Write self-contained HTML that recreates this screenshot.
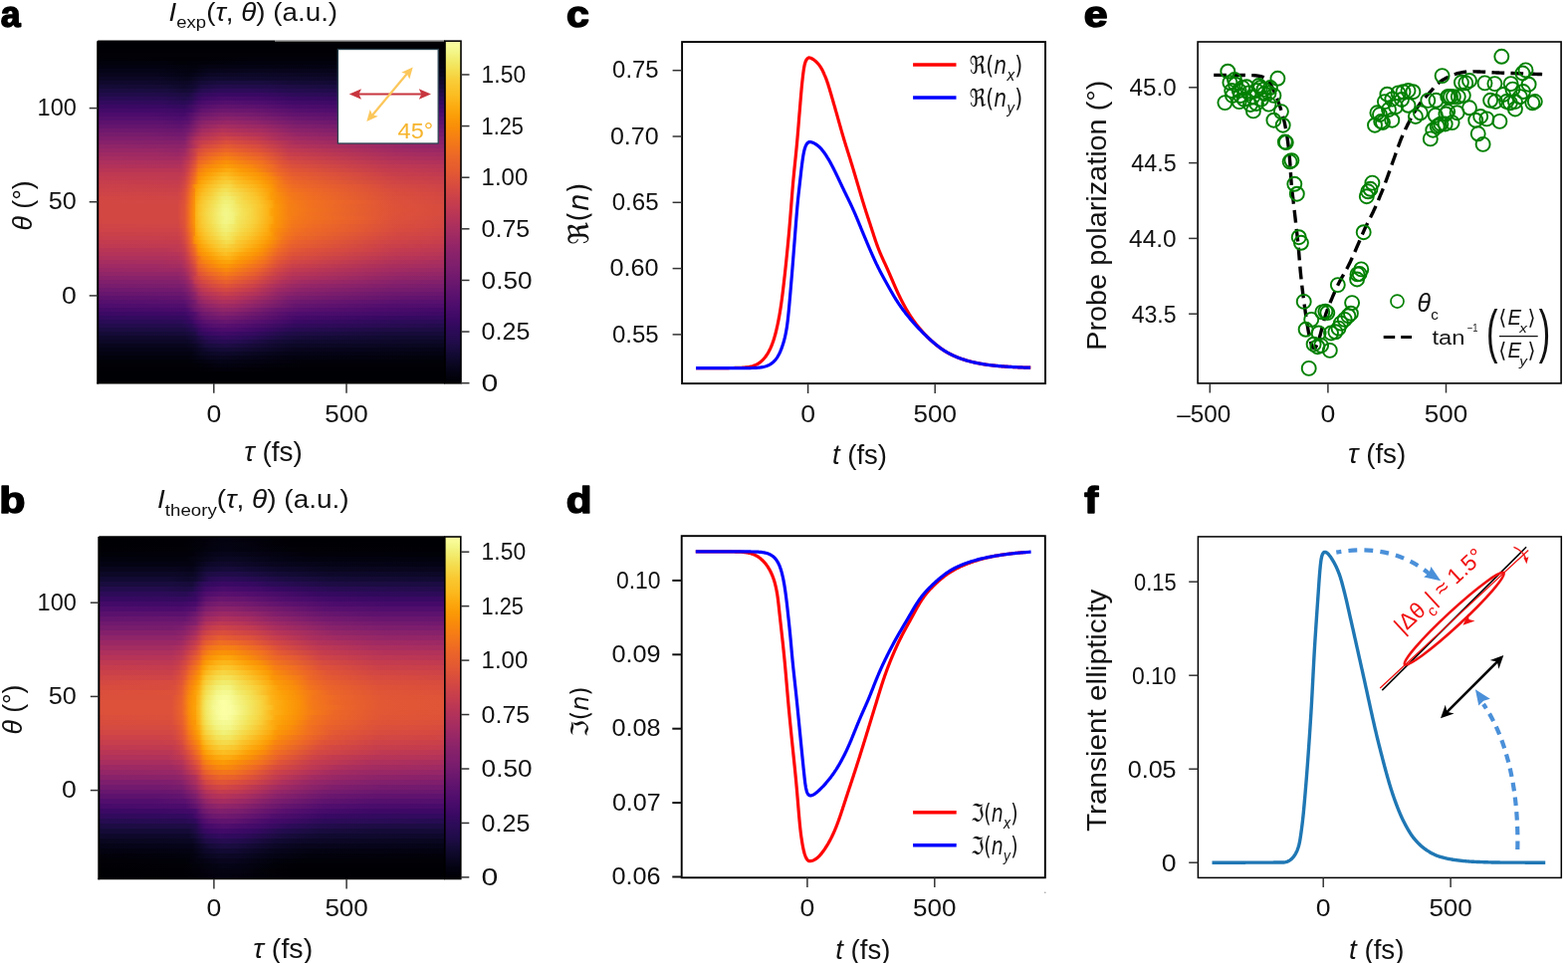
<!DOCTYPE html><html><head><meta charset="utf-8"><title>Figure</title><style>html,body{margin:0;padding:0;background:#fff;width:1575px;height:967px;overflow:hidden}svg{display:block}</style></head><body><svg width="1575" height="967" viewBox="0 0 1575 967" font-family="'Liberation Sans', Arial, sans-serif" fill="#111"><defs><linearGradient id="g1"><stop offset="0" stop-color="#000004"/><stop offset="1" stop-color="#000004"/></linearGradient><linearGradient id="g2"><stop offset="0" stop-color="#000004"/><stop offset="1" stop-color="#000004"/></linearGradient><linearGradient id="g3"><stop offset="0" stop-color="#010005"/><stop offset="1" stop-color="#010005"/></linearGradient><linearGradient id="g4"><stop offset="0" stop-color="#010106"/><stop offset="1" stop-color="#010106"/></linearGradient><linearGradient id="g5"><stop offset="0" stop-color="#010108"/><stop offset="0.27" stop-color="#010005"/><stop offset="0.47" stop-color="#02010a"/><stop offset="1" stop-color="#010108"/></linearGradient><linearGradient id="g6"><stop offset="0" stop-color="#02020c"/><stop offset="0.19" stop-color="#02020c"/><stop offset="0.24" stop-color="#010108"/><stop offset="0.43" stop-color="#02020e"/><stop offset="1" stop-color="#02020c"/></linearGradient><linearGradient id="g7"><stop offset="0" stop-color="#030210"/><stop offset="0.2" stop-color="#030210"/><stop offset="0.28" stop-color="#02020c"/><stop offset="0.31" stop-color="#040312"/><stop offset="0.43" stop-color="#040314"/><stop offset="1" stop-color="#030210"/></linearGradient><linearGradient id="g8"><stop offset="0" stop-color="#050417"/><stop offset="0.17" stop-color="#050417"/><stop offset="0.27" stop-color="#030210"/><stop offset="0.32" stop-color="#07051b"/><stop offset="0.46" stop-color="#08051d"/><stop offset="1" stop-color="#050417"/></linearGradient><linearGradient id="g9"><stop offset="0" stop-color="#08051d"/><stop offset="0.16" stop-color="#08051d"/><stop offset="0.26" stop-color="#040314"/><stop offset="0.32" stop-color="#0b0724"/><stop offset="0.44" stop-color="#0c0826"/><stop offset="1" stop-color="#08051d"/></linearGradient><linearGradient id="g10"><stop offset="0" stop-color="#0b0724"/><stop offset="0.18" stop-color="#0b0724"/><stop offset="0.26" stop-color="#07051b"/><stop offset="0.3" stop-color="#0e092b"/><stop offset="0.33" stop-color="#110a30"/><stop offset="1" stop-color="#0c0826"/></linearGradient><linearGradient id="g11"><stop offset="0" stop-color="#10092d"/><stop offset="0.14" stop-color="#10092d"/><stop offset="0.26" stop-color="#0b0724"/><stop offset="0.3" stop-color="#150b37"/><stop offset="0.35" stop-color="#190c3e"/><stop offset="0.47" stop-color="#190c3e"/><stop offset="0.55" stop-color="#150b37"/><stop offset="1" stop-color="#10092d"/></linearGradient><linearGradient id="g12"><stop offset="0" stop-color="#150b37"/><stop offset="0.19" stop-color="#140b34"/><stop offset="0.25" stop-color="#0e092b"/><stop offset="0.28" stop-color="#120a32"/><stop offset="0.3" stop-color="#1c0c43"/><stop offset="0.36" stop-color="#230c4c"/><stop offset="0.49" stop-color="#210c4a"/><stop offset="0.61" stop-color="#1b0c41"/><stop offset="1" stop-color="#150b37"/></linearGradient><linearGradient id="g13"><stop offset="0" stop-color="#1b0c41"/><stop offset="0.2" stop-color="#190c3e"/><stop offset="0.25" stop-color="#140b34"/><stop offset="0.27" stop-color="#160b39"/><stop offset="0.3" stop-color="#260c51"/><stop offset="0.35" stop-color="#2d0b59"/><stop offset="0.44" stop-color="#2d0b59"/><stop offset="0.55" stop-color="#240c4f"/><stop offset="1" stop-color="#1b0c41"/></linearGradient><linearGradient id="g14"><stop offset="0" stop-color="#210c4a"/><stop offset="0.17" stop-color="#210c4a"/><stop offset="0.26" stop-color="#1b0c41"/><stop offset="0.29" stop-color="#2d0b59"/><stop offset="0.31" stop-color="#340a5f"/><stop offset="0.35" stop-color="#390963"/><stop offset="0.47" stop-color="#380962"/><stop offset="0.57" stop-color="#2d0b59"/><stop offset="1" stop-color="#230c4c"/></linearGradient><linearGradient id="g15"><stop offset="0" stop-color="#290b55"/><stop offset="0.19" stop-color="#280b53"/><stop offset="0.25" stop-color="#210c4a"/><stop offset="0.27" stop-color="#260c51"/><stop offset="0.3" stop-color="#3d0965"/><stop offset="0.36" stop-color="#470b6a"/><stop offset="0.46" stop-color="#440a68"/><stop offset="0.56" stop-color="#380962"/><stop offset="1" stop-color="#2b0b57"/></linearGradient><linearGradient id="g16"><stop offset="0" stop-color="#320a5e"/><stop offset="0.18" stop-color="#310a5c"/><stop offset="0.25" stop-color="#290b55"/><stop offset="0.27" stop-color="#310a5c"/><stop offset="0.29" stop-color="#440a68"/><stop offset="0.31" stop-color="#4c0c6b"/><stop offset="0.37" stop-color="#540f6d"/><stop offset="0.48" stop-color="#4d0d6c"/><stop offset="0.56" stop-color="#420a68"/><stop offset="1" stop-color="#320a5e"/></linearGradient><linearGradient id="g17"><stop offset="0" stop-color="#3b0964"/><stop offset="0.18" stop-color="#390963"/><stop offset="0.25" stop-color="#320a5e"/><stop offset="0.3" stop-color="#540f6d"/><stop offset="0.36" stop-color="#61136e"/><stop offset="0.47" stop-color="#5a116e"/><stop offset="0.56" stop-color="#4c0c6b"/><stop offset="1" stop-color="#3d0965"/></linearGradient><linearGradient id="g18"><stop offset="0" stop-color="#440a68"/><stop offset="0.19" stop-color="#420a68"/><stop offset="0.25" stop-color="#3d0965"/><stop offset="0.27" stop-color="#450a69"/><stop offset="0.3" stop-color="#61136e"/><stop offset="0.36" stop-color="#6d186e"/><stop offset="0.45" stop-color="#69166e"/><stop offset="0.58" stop-color="#550f6d"/><stop offset="1" stop-color="#450a69"/></linearGradient><linearGradient id="g19"><stop offset="0" stop-color="#4c0c6b"/><stop offset="0.15" stop-color="#4c0c6b"/><stop offset="0.25" stop-color="#450a69"/><stop offset="0.3" stop-color="#6d186e"/><stop offset="0.36" stop-color="#7c1d6d"/><stop offset="0.45" stop-color="#751b6e"/><stop offset="0.56" stop-color="#61136e"/><stop offset="1" stop-color="#4d0d6c"/></linearGradient><linearGradient id="g20"><stop offset="0" stop-color="#540f6d"/><stop offset="0.17" stop-color="#540f6d"/><stop offset="0.24" stop-color="#4d0d6c"/><stop offset="0.26" stop-color="#540f6d"/><stop offset="0.3" stop-color="#7a1d6d"/><stop offset="0.37" stop-color="#8a226a"/><stop offset="0.45" stop-color="#82206c"/><stop offset="0.58" stop-color="#6a176e"/><stop offset="0.88" stop-color="#59106e"/><stop offset="1" stop-color="#57106e"/></linearGradient><linearGradient id="g21"><stop offset="0" stop-color="#5d126e"/><stop offset="0.18" stop-color="#5c126e"/><stop offset="0.24" stop-color="#57106e"/><stop offset="0.26" stop-color="#5d126e"/><stop offset="0.29" stop-color="#801f6c"/><stop offset="0.31" stop-color="#8c2369"/><stop offset="0.37" stop-color="#982766"/><stop offset="0.45" stop-color="#8f2469"/><stop offset="0.57" stop-color="#751b6e"/><stop offset="0.87" stop-color="#62146e"/><stop offset="1" stop-color="#5f136e"/></linearGradient><linearGradient id="g22"><stop offset="0" stop-color="#65156e"/><stop offset="0.16" stop-color="#65156e"/><stop offset="0.24" stop-color="#5f136e"/><stop offset="0.26" stop-color="#69166e"/><stop offset="0.3" stop-color="#932667"/><stop offset="0.36" stop-color="#a62d60"/><stop offset="0.47" stop-color="#9a2865"/><stop offset="0.57" stop-color="#801f6c"/><stop offset="0.89" stop-color="#6a176e"/><stop offset="1" stop-color="#69166e"/></linearGradient><linearGradient id="g23"><stop offset="0" stop-color="#6f196e"/><stop offset="0.17" stop-color="#6d186e"/><stop offset="0.24" stop-color="#69166e"/><stop offset="0.26" stop-color="#721a6e"/><stop offset="0.3" stop-color="#a22b62"/><stop offset="0.36" stop-color="#b43359"/><stop offset="0.47" stop-color="#a62d60"/><stop offset="0.56" stop-color="#8c2369"/><stop offset="0.85" stop-color="#751b6e"/><stop offset="1" stop-color="#71196e"/></linearGradient><linearGradient id="g24"><stop offset="0" stop-color="#771c6d"/><stop offset="0.14" stop-color="#771c6d"/><stop offset="0.23" stop-color="#71196e"/><stop offset="0.25" stop-color="#741a6e"/><stop offset="0.3" stop-color="#ae305c"/><stop offset="0.36" stop-color="#c13a50"/><stop offset="0.47" stop-color="#b3325a"/><stop offset="0.57" stop-color="#952667"/><stop offset="0.87" stop-color="#7d1e6d"/><stop offset="1" stop-color="#781c6d"/></linearGradient><linearGradient id="g25"><stop offset="0" stop-color="#7f1e6c"/><stop offset="0.16" stop-color="#7f1e6c"/><stop offset="0.24" stop-color="#7a1d6d"/><stop offset="0.25" stop-color="#7d1e6d"/><stop offset="0.28" stop-color="#a92e5e"/><stop offset="0.3" stop-color="#ba3655"/><stop offset="0.37" stop-color="#cf4446"/><stop offset="0.46" stop-color="#c13a50"/><stop offset="0.52" stop-color="#ab2f5e"/><stop offset="0.58" stop-color="#9f2a63"/><stop offset="0.86" stop-color="#87216b"/><stop offset="1" stop-color="#82206c"/></linearGradient><linearGradient id="g26"><stop offset="0" stop-color="#87216b"/><stop offset="0.24" stop-color="#84206b"/><stop offset="0.25" stop-color="#87216b"/><stop offset="0.28" stop-color="#b63458"/><stop offset="0.3" stop-color="#c73e4c"/><stop offset="0.37" stop-color="#da4e3c"/><stop offset="0.46" stop-color="#cc4248"/><stop offset="0.57" stop-color="#a92e5e"/><stop offset="0.87" stop-color="#8f2469"/><stop offset="1" stop-color="#8a226a"/></linearGradient><linearGradient id="g27"><stop offset="0" stop-color="#902568"/><stop offset="0.24" stop-color="#8c2369"/><stop offset="0.25" stop-color="#902568"/><stop offset="0.26" stop-color="#9b2964"/><stop offset="0.28" stop-color="#b63458"/><stop offset="0.3" stop-color="#d24644"/><stop offset="0.37" stop-color="#e45a31"/><stop offset="0.46" stop-color="#d74b3f"/><stop offset="0.55" stop-color="#b73557"/><stop offset="0.59" stop-color="#b1325a"/><stop offset="0.88" stop-color="#972766"/><stop offset="1" stop-color="#922568"/></linearGradient><linearGradient id="g28"><stop offset="0" stop-color="#972766"/><stop offset="0.17" stop-color="#972766"/><stop offset="0.23" stop-color="#922568"/><stop offset="0.25" stop-color="#9a2865"/><stop offset="0.29" stop-color="#d54a41"/><stop offset="0.31" stop-color="#e05536"/><stop offset="0.37" stop-color="#eb6628"/><stop offset="0.46" stop-color="#df5337"/><stop offset="0.55" stop-color="#c03a51"/><stop offset="0.86" stop-color="#a02a63"/><stop offset="1" stop-color="#9a2865"/></linearGradient><linearGradient id="g29"><stop offset="0" stop-color="#9f2a63"/><stop offset="0.17" stop-color="#9f2a63"/><stop offset="0.23" stop-color="#9a2865"/><stop offset="0.25" stop-color="#a22b62"/><stop offset="0.28" stop-color="#ca404a"/><stop offset="0.29" stop-color="#de5238"/><stop offset="0.32" stop-color="#ea632a"/><stop offset="0.37" stop-color="#f2741c"/><stop offset="0.47" stop-color="#e55c30"/><stop offset="0.55" stop-color="#c83f4b"/><stop offset="0.86" stop-color="#a82e5f"/><stop offset="1" stop-color="#a22b62"/></linearGradient><linearGradient id="g30"><stop offset="0" stop-color="#a62d60"/><stop offset="0.23" stop-color="#a22b62"/><stop offset="0.24" stop-color="#a52c60"/><stop offset="0.26" stop-color="#b73557"/><stop offset="0.28" stop-color="#d34743"/><stop offset="0.29" stop-color="#e65d2f"/><stop offset="0.33" stop-color="#f2741c"/><stop offset="0.37" stop-color="#f78212"/><stop offset="0.47" stop-color="#eb6628"/><stop offset="0.55" stop-color="#d04545"/><stop offset="0.84" stop-color="#b1325a"/><stop offset="1" stop-color="#a92e5e"/></linearGradient><linearGradient id="g31"><stop offset="0" stop-color="#ad305d"/><stop offset="0.24" stop-color="#ab2f5e"/><stop offset="0.26" stop-color="#c03a51"/><stop offset="0.28" stop-color="#db503b"/><stop offset="0.29" stop-color="#ec6726"/><stop offset="0.34" stop-color="#f8850f"/><stop offset="0.37" stop-color="#fa9008"/><stop offset="0.47" stop-color="#f1711f"/><stop offset="0.53" stop-color="#de5238"/><stop offset="0.56" stop-color="#d54a41"/><stop offset="0.85" stop-color="#b73557"/><stop offset="1" stop-color="#b0315b"/></linearGradient><linearGradient id="g32"><stop offset="0" stop-color="#b3325a"/><stop offset="0.22" stop-color="#b0315b"/><stop offset="0.24" stop-color="#b3325a"/><stop offset="0.26" stop-color="#c73e4c"/><stop offset="0.28" stop-color="#e25734"/><stop offset="0.29" stop-color="#f1711f"/><stop offset="0.31" stop-color="#f78212"/><stop offset="0.33" stop-color="#f98c0a"/><stop offset="0.37" stop-color="#fb9d07"/><stop offset="0.44" stop-color="#f8870e"/><stop offset="0.5" stop-color="#ef6c23"/><stop offset="0.53" stop-color="#e35933"/><stop offset="0.56" stop-color="#db503b"/><stop offset="0.84" stop-color="#bf3952"/><stop offset="1" stop-color="#b73557"/></linearGradient><linearGradient id="g33"><stop offset="0" stop-color="#b93556"/><stop offset="0.24" stop-color="#b93556"/><stop offset="0.25" stop-color="#c03a51"/><stop offset="0.26" stop-color="#ce4347"/><stop offset="0.28" stop-color="#e8602d"/><stop offset="0.29" stop-color="#f57d15"/><stop offset="0.31" stop-color="#f98e09"/><stop offset="0.33" stop-color="#fb9906"/><stop offset="0.37" stop-color="#fcaa0f"/><stop offset="0.38" stop-color="#fcaa0f"/><stop offset="0.41" stop-color="#fb9b06"/><stop offset="0.45" stop-color="#f98e09"/><stop offset="0.52" stop-color="#eb6429"/><stop offset="0.56" stop-color="#e15635"/><stop offset="0.84" stop-color="#c43c4e"/><stop offset="1" stop-color="#bc3754"/></linearGradient><linearGradient id="g34"><stop offset="0" stop-color="#bf3952"/><stop offset="0.24" stop-color="#bf3952"/><stop offset="0.25" stop-color="#c63d4d"/><stop offset="0.26" stop-color="#d44842"/><stop offset="0.28" stop-color="#ed6925"/><stop offset="0.29" stop-color="#f8870e"/><stop offset="0.3" stop-color="#fa9008"/><stop offset="0.32" stop-color="#fc9f07"/><stop offset="0.36" stop-color="#fbb61a"/><stop offset="0.37" stop-color="#fbb81d"/><stop offset="0.41" stop-color="#fca60c"/><stop offset="0.46" stop-color="#fb9606"/><stop offset="0.49" stop-color="#f8850f"/><stop offset="0.52" stop-color="#ef6c23"/><stop offset="0.56" stop-color="#e55c30"/><stop offset="0.75" stop-color="#d54a41"/><stop offset="0.85" stop-color="#c83f4b"/><stop offset="1" stop-color="#c13a50"/></linearGradient><linearGradient id="g35"><stop offset="0" stop-color="#c33b4f"/><stop offset="0.23" stop-color="#c03a51"/><stop offset="0.24" stop-color="#c43c4e"/><stop offset="0.25" stop-color="#cb4149"/><stop offset="0.26" stop-color="#d94d3d"/><stop offset="0.28" stop-color="#f1711f"/><stop offset="0.29" stop-color="#fa9008"/><stop offset="0.31" stop-color="#fca309"/><stop offset="0.36" stop-color="#fac228"/><stop offset="0.37" stop-color="#fac42a"/><stop offset="0.43" stop-color="#fcaa0f"/><stop offset="0.47" stop-color="#fb9906"/><stop offset="0.5" stop-color="#f8870e"/><stop offset="0.54" stop-color="#ed6925"/><stop offset="0.57" stop-color="#e8602d"/><stop offset="0.86" stop-color="#cc4248"/><stop offset="1" stop-color="#c63d4d"/></linearGradient><linearGradient id="g36"><stop offset="0" stop-color="#c73e4c"/><stop offset="0.23" stop-color="#c43c4e"/><stop offset="0.24" stop-color="#c83f4b"/><stop offset="0.25" stop-color="#d04545"/><stop offset="0.26" stop-color="#de5238"/><stop offset="0.28" stop-color="#f47918"/><stop offset="0.29" stop-color="#fb9906"/><stop offset="0.3" stop-color="#fca50a"/><stop offset="0.35" stop-color="#f9c72f"/><stop offset="0.37" stop-color="#f8cd37"/><stop offset="0.38" stop-color="#f8cd37"/><stop offset="0.4" stop-color="#fac026"/><stop offset="0.46" stop-color="#fca80d"/><stop offset="0.48" stop-color="#fb9b06"/><stop offset="0.5" stop-color="#f98e09"/><stop offset="0.54" stop-color="#f06f20"/><stop offset="0.56" stop-color="#ec6726"/><stop offset="0.86" stop-color="#d04545"/><stop offset="1" stop-color="#ca404a"/></linearGradient><linearGradient id="g37"><stop offset="0" stop-color="#ca404a"/><stop offset="0.23" stop-color="#c83f4b"/><stop offset="0.24" stop-color="#cc4248"/><stop offset="0.25" stop-color="#d44842"/><stop offset="0.26" stop-color="#e25734"/><stop offset="0.27" stop-color="#ef6c23"/><stop offset="0.28" stop-color="#fa9207"/><stop offset="0.29" stop-color="#fca309"/><stop offset="0.3" stop-color="#fcae12"/><stop offset="0.32" stop-color="#fbbe23"/><stop offset="0.36" stop-color="#f6d543"/><stop offset="0.37" stop-color="#f6d746"/><stop offset="0.38" stop-color="#f6d746"/><stop offset="0.4" stop-color="#f9c932"/><stop offset="0.45" stop-color="#fbb61a"/><stop offset="0.48" stop-color="#fca309"/><stop offset="0.5" stop-color="#fb9606"/><stop offset="0.52" stop-color="#f68013"/><stop offset="0.56" stop-color="#ef6c23"/><stop offset="0.61" stop-color="#eb6429"/><stop offset="0.76" stop-color="#e05536"/><stop offset="0.84" stop-color="#d54a41"/><stop offset="1" stop-color="#ce4347"/></linearGradient><linearGradient id="g38"><stop offset="0" stop-color="#cc4248"/><stop offset="0.23" stop-color="#cb4149"/><stop offset="0.24" stop-color="#cf4446"/><stop offset="0.25" stop-color="#d84c3e"/><stop offset="0.26" stop-color="#e55c30"/><stop offset="0.27" stop-color="#f1731d"/><stop offset="0.28" stop-color="#f8850f"/><stop offset="0.28" stop-color="#fb9906"/><stop offset="0.29" stop-color="#fcaa0f"/><stop offset="0.31" stop-color="#fbbe23"/><stop offset="0.36" stop-color="#f4df53"/><stop offset="0.37" stop-color="#f4e156"/><stop offset="0.46" stop-color="#fbb81d"/><stop offset="0.5" stop-color="#fb9b06"/><stop offset="0.52" stop-color="#f8850f"/><stop offset="0.56" stop-color="#f1711f"/><stop offset="0.61" stop-color="#ed6925"/><stop offset="0.86" stop-color="#d74b3f"/><stop offset="1" stop-color="#d04545"/></linearGradient><linearGradient id="g39"><stop offset="0" stop-color="#cf4446"/><stop offset="0.23" stop-color="#ce4347"/><stop offset="0.25" stop-color="#da4e3c"/><stop offset="0.26" stop-color="#e8602d"/><stop offset="0.27" stop-color="#f37819"/><stop offset="0.28" stop-color="#f98c0a"/><stop offset="0.28" stop-color="#fc9f07"/><stop offset="0.3" stop-color="#fbbc21"/><stop offset="0.33" stop-color="#f7d13d"/><stop offset="0.35" stop-color="#f4e156"/><stop offset="0.37" stop-color="#f2e865"/><stop offset="0.45" stop-color="#fac42a"/><stop offset="0.49" stop-color="#fca80d"/><stop offset="0.5" stop-color="#fb9906"/><stop offset="0.55" stop-color="#f47918"/><stop offset="0.61" stop-color="#ef6c23"/><stop offset="0.86" stop-color="#d94d3d"/><stop offset="1" stop-color="#d34743"/></linearGradient><linearGradient id="g40"><stop offset="0" stop-color="#d24644"/><stop offset="0.23" stop-color="#d04545"/><stop offset="0.24" stop-color="#d44842"/><stop offset="0.25" stop-color="#dd513a"/><stop offset="0.26" stop-color="#ea632a"/><stop offset="0.27" stop-color="#f57b17"/><stop offset="0.28" stop-color="#fa9008"/><stop offset="0.28" stop-color="#fca50a"/><stop offset="0.3" stop-color="#fac228"/><stop offset="0.33" stop-color="#f6d746"/><stop offset="0.36" stop-color="#f1ec6d"/><stop offset="0.37" stop-color="#f1ed71"/><stop offset="0.38" stop-color="#f1ec6d"/><stop offset="0.42" stop-color="#f6d543"/><stop offset="0.46" stop-color="#fac42a"/><stop offset="0.48" stop-color="#fcb418"/><stop offset="0.5" stop-color="#fb9d07"/><stop offset="0.52" stop-color="#f98e09"/><stop offset="0.56" stop-color="#f37819"/><stop offset="0.61" stop-color="#ef6e21"/><stop offset="0.85" stop-color="#db503b"/><stop offset="1" stop-color="#d44842"/></linearGradient><linearGradient id="g41"><stop offset="0" stop-color="#d34743"/><stop offset="0.23" stop-color="#d24644"/><stop offset="0.25" stop-color="#de5238"/><stop offset="0.26" stop-color="#eb6429"/><stop offset="0.27" stop-color="#f67e14"/><stop offset="0.28" stop-color="#fa9407"/><stop offset="0.28" stop-color="#fca80d"/><stop offset="0.29" stop-color="#fbba1f"/><stop offset="0.31" stop-color="#f8cf3a"/><stop offset="0.34" stop-color="#f3e35a"/><stop offset="0.36" stop-color="#f1ef75"/><stop offset="0.37" stop-color="#f1f179"/><stop offset="0.39" stop-color="#f1ed71"/><stop offset="0.4" stop-color="#f3e35a"/><stop offset="0.46" stop-color="#f9c72f"/><stop offset="0.5" stop-color="#fca80d"/><stop offset="0.51" stop-color="#fb9706"/><stop offset="0.55" stop-color="#f67e14"/><stop offset="0.61" stop-color="#f1711f"/><stop offset="0.75" stop-color="#e8602d"/><stop offset="0.85" stop-color="#dd513a"/><stop offset="1" stop-color="#d54a41"/></linearGradient><linearGradient id="g42"><stop offset="0" stop-color="#d34743"/><stop offset="0.23" stop-color="#d34743"/><stop offset="0.25" stop-color="#df5337"/><stop offset="0.27" stop-color="#f68013"/><stop offset="0.28" stop-color="#fb9706"/><stop offset="0.28" stop-color="#fcaa0f"/><stop offset="0.29" stop-color="#fbbe23"/><stop offset="0.3" stop-color="#f9c932"/><stop offset="0.34" stop-color="#f2e661"/><stop offset="0.36" stop-color="#f2f27d"/><stop offset="0.37" stop-color="#f2f482"/><stop offset="0.38" stop-color="#f2f27d"/><stop offset="0.42" stop-color="#f4dd4f"/><stop offset="0.44" stop-color="#f6d543"/><stop offset="0.47" stop-color="#fac42a"/><stop offset="0.5" stop-color="#fcaa0f"/><stop offset="0.51" stop-color="#fb9b06"/><stop offset="0.55" stop-color="#f68013"/><stop offset="0.61" stop-color="#f1711f"/><stop offset="0.86" stop-color="#dd513a"/><stop offset="1" stop-color="#d74b3f"/></linearGradient><linearGradient id="g43"><stop offset="0" stop-color="#d34743"/><stop offset="0.23" stop-color="#d34743"/><stop offset="0.25" stop-color="#e05536"/><stop offset="0.26" stop-color="#ec6726"/><stop offset="0.27" stop-color="#f78212"/><stop offset="0.28" stop-color="#fb9706"/><stop offset="0.28" stop-color="#fcac11"/><stop offset="0.29" stop-color="#fbbe23"/><stop offset="0.31" stop-color="#f7d340"/><stop offset="0.36" stop-color="#f2f482"/><stop offset="0.37" stop-color="#f3f586"/><stop offset="0.38" stop-color="#f2f482"/><stop offset="0.42" stop-color="#f4df53"/><stop offset="0.44" stop-color="#f6d746"/><stop offset="0.49" stop-color="#fcb418"/><stop offset="0.5" stop-color="#fca309"/><stop offset="0.51" stop-color="#fb9b06"/><stop offset="0.55" stop-color="#f68013"/><stop offset="0.61" stop-color="#f1731d"/><stop offset="0.85" stop-color="#de5238"/><stop offset="1" stop-color="#d74b3f"/></linearGradient><linearGradient id="g44"><stop offset="0" stop-color="#d34743"/><stop offset="0.23" stop-color="#d34743"/><stop offset="0.25" stop-color="#e05536"/><stop offset="0.26" stop-color="#ec6726"/><stop offset="0.27" stop-color="#f78212"/><stop offset="0.28" stop-color="#fb9906"/><stop offset="0.28" stop-color="#fcac11"/><stop offset="0.29" stop-color="#fac026"/><stop offset="0.31" stop-color="#f6d543"/><stop offset="0.33" stop-color="#f3e35a"/><stop offset="0.36" stop-color="#f3f586"/><stop offset="0.37" stop-color="#f3f68a"/><stop offset="0.39" stop-color="#f2f27d"/><stop offset="0.41" stop-color="#f3e55d"/><stop offset="0.44" stop-color="#f6d746"/><stop offset="0.49" stop-color="#fcb418"/><stop offset="0.5" stop-color="#fca309"/><stop offset="0.51" stop-color="#fb9b06"/><stop offset="0.55" stop-color="#f68013"/><stop offset="0.61" stop-color="#f1711f"/><stop offset="0.86" stop-color="#dd513a"/><stop offset="1" stop-color="#d74b3f"/></linearGradient><linearGradient id="g45"><stop offset="0" stop-color="#d34743"/><stop offset="0.23" stop-color="#d34743"/><stop offset="0.25" stop-color="#e05536"/><stop offset="0.26" stop-color="#ec6726"/><stop offset="0.27" stop-color="#f78212"/><stop offset="0.28" stop-color="#fb9706"/><stop offset="0.28" stop-color="#fcac11"/><stop offset="0.29" stop-color="#fbbe23"/><stop offset="0.31" stop-color="#f7d340"/><stop offset="0.35" stop-color="#f1ef75"/><stop offset="0.37" stop-color="#f3f68a"/><stop offset="0.39" stop-color="#f2f27d"/><stop offset="0.4" stop-color="#f2e865"/><stop offset="0.45" stop-color="#f7d13d"/><stop offset="0.5" stop-color="#fcaa0f"/><stop offset="0.51" stop-color="#fb9906"/><stop offset="0.56" stop-color="#f57b17"/><stop offset="0.6" stop-color="#f1731d"/><stop offset="0.75" stop-color="#e8602d"/><stop offset="0.85" stop-color="#dd513a"/><stop offset="1" stop-color="#d54a41"/></linearGradient><linearGradient id="g46"><stop offset="0" stop-color="#d24644"/><stop offset="0.23" stop-color="#d24644"/><stop offset="0.25" stop-color="#df5337"/><stop offset="0.26" stop-color="#eb6628"/><stop offset="0.27" stop-color="#f68013"/><stop offset="0.28" stop-color="#fb9606"/><stop offset="0.28" stop-color="#fcaa0f"/><stop offset="0.3" stop-color="#f9c932"/><stop offset="0.33" stop-color="#f4e156"/><stop offset="0.36" stop-color="#f2f482"/><stop offset="0.37" stop-color="#f3f586"/><stop offset="0.39" stop-color="#f1f179"/><stop offset="0.4" stop-color="#f2e661"/><stop offset="0.45" stop-color="#f8cf3a"/><stop offset="0.5" stop-color="#fca80d"/><stop offset="0.51" stop-color="#fb9706"/><stop offset="0.56" stop-color="#f47918"/><stop offset="0.61" stop-color="#f06f20"/><stop offset="0.75" stop-color="#e75e2e"/><stop offset="0.85" stop-color="#db503b"/><stop offset="1" stop-color="#d44842"/></linearGradient><linearGradient id="g47"><stop offset="0" stop-color="#cf4446"/><stop offset="0.23" stop-color="#d04545"/><stop offset="0.25" stop-color="#dd513a"/><stop offset="0.27" stop-color="#f57d15"/><stop offset="0.28" stop-color="#fa9407"/><stop offset="0.28" stop-color="#fca60c"/><stop offset="0.29" stop-color="#fbba1f"/><stop offset="0.31" stop-color="#f8cf3a"/><stop offset="0.33" stop-color="#f4dd4f"/><stop offset="0.36" stop-color="#f1f179"/><stop offset="0.37" stop-color="#f2f27d"/><stop offset="0.39" stop-color="#f2ea69"/><stop offset="0.41" stop-color="#f4df53"/><stop offset="0.44" stop-color="#f7d13d"/><stop offset="0.49" stop-color="#fcae12"/><stop offset="0.5" stop-color="#fb9d07"/><stop offset="0.51" stop-color="#fb9606"/><stop offset="0.56" stop-color="#f3761b"/><stop offset="0.61" stop-color="#ef6c23"/><stop offset="0.86" stop-color="#d94d3d"/><stop offset="1" stop-color="#d34743"/></linearGradient><linearGradient id="g48"><stop offset="0" stop-color="#ce4347"/><stop offset="0.23" stop-color="#ce4347"/><stop offset="0.24" stop-color="#d34743"/><stop offset="0.25" stop-color="#db503b"/><stop offset="0.26" stop-color="#e9612b"/><stop offset="0.27" stop-color="#f47918"/><stop offset="0.28" stop-color="#f98e09"/><stop offset="0.28" stop-color="#fca309"/><stop offset="0.29" stop-color="#fbb61a"/><stop offset="0.31" stop-color="#f9cb35"/><stop offset="0.33" stop-color="#f5d949"/><stop offset="0.36" stop-color="#f1ed71"/><stop offset="0.37" stop-color="#f1ef75"/><stop offset="0.38" stop-color="#f1ed71"/><stop offset="0.41" stop-color="#f5db4c"/><stop offset="0.44" stop-color="#f8cd37"/><stop offset="0.49" stop-color="#fcaa0f"/><stop offset="0.5" stop-color="#fb9906"/><stop offset="0.52" stop-color="#f8890c"/><stop offset="0.56" stop-color="#f1731d"/><stop offset="0.6" stop-color="#ee6a24"/><stop offset="0.73" stop-color="#e55c30"/><stop offset="0.86" stop-color="#d74b3f"/><stop offset="1" stop-color="#d04545"/></linearGradient><linearGradient id="g49"><stop offset="0" stop-color="#ca404a"/><stop offset="0.23" stop-color="#cb4149"/><stop offset="0.24" stop-color="#d04545"/><stop offset="0.25" stop-color="#d84c3e"/><stop offset="0.26" stop-color="#e65d2f"/><stop offset="0.28" stop-color="#f98b0b"/><stop offset="0.28" stop-color="#fb9d07"/><stop offset="0.29" stop-color="#fcb014"/><stop offset="0.31" stop-color="#fac62d"/><stop offset="0.36" stop-color="#f2e865"/><stop offset="0.37" stop-color="#f2ea69"/><stop offset="0.39" stop-color="#f4e156"/><stop offset="0.41" stop-color="#f6d543"/><stop offset="0.44" stop-color="#f9c72f"/><stop offset="0.48" stop-color="#fcac11"/><stop offset="0.5" stop-color="#fb9d07"/><stop offset="0.51" stop-color="#f98c0a"/><stop offset="0.54" stop-color="#f37819"/><stop offset="0.57" stop-color="#ef6c23"/><stop offset="0.86" stop-color="#d44842"/><stop offset="1" stop-color="#ce4347"/></linearGradient><linearGradient id="g50"><stop offset="0" stop-color="#c73e4c"/><stop offset="0.17" stop-color="#c73e4c"/><stop offset="0.23" stop-color="#c83f4b"/><stop offset="0.24" stop-color="#cc4248"/><stop offset="0.25" stop-color="#d54a41"/><stop offset="0.26" stop-color="#e35933"/><stop offset="0.27" stop-color="#f06f20"/><stop offset="0.28" stop-color="#fb9706"/><stop offset="0.29" stop-color="#fca80d"/><stop offset="0.3" stop-color="#fbb61a"/><stop offset="0.31" stop-color="#fac026"/><stop offset="0.35" stop-color="#f5db4c"/><stop offset="0.36" stop-color="#f3e35a"/><stop offset="0.37" stop-color="#f3e55d"/><stop offset="0.38" stop-color="#f3e35a"/><stop offset="0.4" stop-color="#f7d340"/><stop offset="0.43" stop-color="#fac62d"/><stop offset="0.48" stop-color="#fca60c"/><stop offset="0.5" stop-color="#fb9606"/><stop offset="0.54" stop-color="#f1731d"/><stop offset="0.57" stop-color="#ec6726"/><stop offset="0.85" stop-color="#d24644"/><stop offset="1" stop-color="#ca404a"/></linearGradient><linearGradient id="g51"><stop offset="0" stop-color="#c33b4f"/><stop offset="0.23" stop-color="#c43c4e"/><stop offset="0.24" stop-color="#c83f4b"/><stop offset="0.25" stop-color="#d24644"/><stop offset="0.26" stop-color="#e05536"/><stop offset="0.27" stop-color="#ed6925"/><stop offset="0.28" stop-color="#fa9008"/><stop offset="0.29" stop-color="#fca108"/><stop offset="0.3" stop-color="#fcae12"/><stop offset="0.32" stop-color="#fac026"/><stop offset="0.37" stop-color="#f4dd4f"/><stop offset="0.39" stop-color="#f6d746"/><stop offset="0.4" stop-color="#f9cb35"/><stop offset="0.46" stop-color="#fcac11"/><stop offset="0.49" stop-color="#fb9706"/><stop offset="0.53" stop-color="#f1731d"/><stop offset="0.56" stop-color="#eb6429"/><stop offset="0.58" stop-color="#e8602d"/><stop offset="0.85" stop-color="#ce4347"/><stop offset="1" stop-color="#c73e4c"/></linearGradient><linearGradient id="g52"><stop offset="0" stop-color="#bf3952"/><stop offset="0.23" stop-color="#c03a51"/><stop offset="0.24" stop-color="#c43c4e"/><stop offset="0.25" stop-color="#cc4248"/><stop offset="0.26" stop-color="#db503b"/><stop offset="0.28" stop-color="#f3761b"/><stop offset="0.29" stop-color="#fb9906"/><stop offset="0.3" stop-color="#fca50a"/><stop offset="0.33" stop-color="#fbbe23"/><stop offset="0.36" stop-color="#f7d13d"/><stop offset="0.37" stop-color="#f7d340"/><stop offset="0.44" stop-color="#fcb014"/><stop offset="0.47" stop-color="#fb9d07"/><stop offset="0.49" stop-color="#f98e09"/><stop offset="0.53" stop-color="#ef6c23"/><stop offset="0.56" stop-color="#e75e2e"/><stop offset="0.83" stop-color="#cb4149"/><stop offset="1" stop-color="#c13a50"/></linearGradient><linearGradient id="g53"><stop offset="0" stop-color="#b93556"/><stop offset="0.2" stop-color="#ba3655"/><stop offset="0.24" stop-color="#c03a51"/><stop offset="0.25" stop-color="#c73e4c"/><stop offset="0.26" stop-color="#d74b3f"/><stop offset="0.28" stop-color="#ef6e21"/><stop offset="0.29" stop-color="#fa9008"/><stop offset="0.31" stop-color="#fca50a"/><stop offset="0.33" stop-color="#fcb418"/><stop offset="0.35" stop-color="#fac228"/><stop offset="0.37" stop-color="#f9c72f"/><stop offset="0.39" stop-color="#fac42a"/><stop offset="0.43" stop-color="#fcaa0f"/><stop offset="0.46" stop-color="#fb9b06"/><stop offset="0.48" stop-color="#f98c0a"/><stop offset="0.52" stop-color="#ee6a24"/><stop offset="0.56" stop-color="#e35933"/><stop offset="0.6" stop-color="#de5238"/><stop offset="0.77" stop-color="#cf4446"/><stop offset="0.86" stop-color="#c33b4f"/><stop offset="1" stop-color="#bd3853"/></linearGradient><linearGradient id="g54"><stop offset="0" stop-color="#b43359"/><stop offset="0.18" stop-color="#b43359"/><stop offset="0.23" stop-color="#b63458"/><stop offset="0.24" stop-color="#ba3655"/><stop offset="0.25" stop-color="#c13a50"/><stop offset="0.26" stop-color="#d04545"/><stop offset="0.27" stop-color="#e15635"/><stop offset="0.28" stop-color="#eb6628"/><stop offset="0.29" stop-color="#f8850f"/><stop offset="0.3" stop-color="#fa9207"/><stop offset="0.32" stop-color="#fca108"/><stop offset="0.36" stop-color="#fbbc21"/><stop offset="0.37" stop-color="#fbbe23"/><stop offset="0.39" stop-color="#fcb418"/><stop offset="0.41" stop-color="#fca80d"/><stop offset="0.45" stop-color="#fb9606"/><stop offset="0.47" stop-color="#f98b0b"/><stop offset="0.52" stop-color="#ea632a"/><stop offset="0.56" stop-color="#de5238"/><stop offset="0.85" stop-color="#bf3952"/><stop offset="1" stop-color="#b73557"/></linearGradient><linearGradient id="g55"><stop offset="0" stop-color="#ae305c"/><stop offset="0.18" stop-color="#ae305c"/><stop offset="0.23" stop-color="#b0315b"/><stop offset="0.24" stop-color="#b43359"/><stop offset="0.25" stop-color="#bc3754"/><stop offset="0.26" stop-color="#ca404a"/><stop offset="0.28" stop-color="#e65d2f"/><stop offset="0.3" stop-color="#f8870e"/><stop offset="0.33" stop-color="#fb9d07"/><stop offset="0.35" stop-color="#fcaa0f"/><stop offset="0.37" stop-color="#fcb014"/><stop offset="0.38" stop-color="#fcb014"/><stop offset="0.41" stop-color="#fb9d07"/><stop offset="0.44" stop-color="#fa9008"/><stop offset="0.48" stop-color="#f47918"/><stop offset="0.51" stop-color="#e8602d"/><stop offset="0.56" stop-color="#d84c3e"/><stop offset="0.86" stop-color="#b73557"/><stop offset="1" stop-color="#b1325a"/></linearGradient><linearGradient id="g56"><stop offset="0" stop-color="#a62d60"/><stop offset="0.19" stop-color="#a82e5f"/><stop offset="0.24" stop-color="#ad305d"/><stop offset="0.25" stop-color="#b43359"/><stop offset="0.26" stop-color="#c33b4f"/><stop offset="0.28" stop-color="#e05536"/><stop offset="0.29" stop-color="#f1711f"/><stop offset="0.31" stop-color="#f78410"/><stop offset="0.33" stop-color="#fa9008"/><stop offset="0.35" stop-color="#fb9d07"/><stop offset="0.37" stop-color="#fca309"/><stop offset="0.38" stop-color="#fca309"/><stop offset="0.4" stop-color="#fb9606"/><stop offset="0.44" stop-color="#f8850f"/><stop offset="0.48" stop-color="#f06f20"/><stop offset="0.52" stop-color="#df5337"/><stop offset="0.56" stop-color="#d24644"/><stop offset="0.85" stop-color="#b1325a"/><stop offset="1" stop-color="#a92e5e"/></linearGradient><linearGradient id="g57"><stop offset="0" stop-color="#a02a63"/><stop offset="0.17" stop-color="#a02a63"/><stop offset="0.24" stop-color="#a52c60"/><stop offset="0.26" stop-color="#ba3655"/><stop offset="0.28" stop-color="#d84c3e"/><stop offset="0.29" stop-color="#eb6628"/><stop offset="0.32" stop-color="#f67e14"/><stop offset="0.35" stop-color="#fa9008"/><stop offset="0.37" stop-color="#fb9606"/><stop offset="0.41" stop-color="#f8850f"/><stop offset="0.47" stop-color="#ee6a24"/><stop offset="0.52" stop-color="#d84c3e"/><stop offset="0.56" stop-color="#ca404a"/><stop offset="0.85" stop-color="#a92e5e"/><stop offset="1" stop-color="#a32c61"/></linearGradient><linearGradient id="g58"><stop offset="0" stop-color="#982766"/><stop offset="0.24" stop-color="#9d2964"/><stop offset="0.25" stop-color="#a52c60"/><stop offset="0.26" stop-color="#b3325a"/><stop offset="0.28" stop-color="#d04545"/><stop offset="0.29" stop-color="#e55c30"/><stop offset="0.32" stop-color="#f1731d"/><stop offset="0.37" stop-color="#f8890c"/><stop offset="0.46" stop-color="#eb6429"/><stop offset="0.51" stop-color="#d44842"/><stop offset="0.56" stop-color="#c13a50"/><stop offset="0.85" stop-color="#a22b62"/><stop offset="1" stop-color="#9b2964"/></linearGradient><linearGradient id="g59"><stop offset="0" stop-color="#902568"/><stop offset="0.23" stop-color="#922568"/><stop offset="0.25" stop-color="#9b2964"/><stop offset="0.28" stop-color="#c73e4c"/><stop offset="0.29" stop-color="#de5238"/><stop offset="0.32" stop-color="#eb6628"/><stop offset="0.37" stop-color="#f57b17"/><stop offset="0.45" stop-color="#e75e2e"/><stop offset="0.52" stop-color="#c73e4c"/><stop offset="0.56" stop-color="#b93556"/><stop offset="0.87" stop-color="#982766"/><stop offset="1" stop-color="#932667"/></linearGradient><linearGradient id="g60"><stop offset="0" stop-color="#88226a"/><stop offset="0.23" stop-color="#8a226a"/><stop offset="0.25" stop-color="#932667"/><stop offset="0.26" stop-color="#9f2a63"/><stop offset="0.28" stop-color="#c83f4b"/><stop offset="0.3" stop-color="#db503b"/><stop offset="0.35" stop-color="#ec6726"/><stop offset="0.37" stop-color="#ef6c23"/><stop offset="0.45" stop-color="#df5337"/><stop offset="0.5" stop-color="#c73e4c"/><stop offset="0.56" stop-color="#b0315b"/><stop offset="0.86" stop-color="#902568"/><stop offset="1" stop-color="#8c2369"/></linearGradient><linearGradient id="g61"><stop offset="0" stop-color="#801f6c"/><stop offset="0.23" stop-color="#82206c"/><stop offset="0.25" stop-color="#8a226a"/><stop offset="0.27" stop-color="#a32c61"/><stop offset="0.28" stop-color="#bf3952"/><stop offset="0.3" stop-color="#d24644"/><stop offset="0.34" stop-color="#e25734"/><stop offset="0.37" stop-color="#e8602d"/><stop offset="0.45" stop-color="#d54a41"/><stop offset="0.53" stop-color="#b0315b"/><stop offset="0.58" stop-color="#a22b62"/><stop offset="0.87" stop-color="#87216b"/><stop offset="1" stop-color="#82206c"/></linearGradient><linearGradient id="g62"><stop offset="0" stop-color="#781c6d"/><stop offset="0.24" stop-color="#7c1d6d"/><stop offset="0.25" stop-color="#801f6c"/><stop offset="0.27" stop-color="#982766"/><stop offset="0.29" stop-color="#bf3952"/><stop offset="0.3" stop-color="#c73e4c"/><stop offset="0.33" stop-color="#d54a41"/><stop offset="0.37" stop-color="#df5337"/><stop offset="0.45" stop-color="#cb4149"/><stop offset="0.51" stop-color="#ad305d"/><stop offset="0.56" stop-color="#9b2964"/><stop offset="0.6" stop-color="#952667"/><stop offset="0.86" stop-color="#7f1e6c"/><stop offset="1" stop-color="#7a1d6d"/></linearGradient><linearGradient id="g63"><stop offset="0" stop-color="#6f196e"/><stop offset="0.24" stop-color="#721a6e"/><stop offset="0.26" stop-color="#801f6c"/><stop offset="0.3" stop-color="#bc3754"/><stop offset="0.34" stop-color="#ce4347"/><stop offset="0.37" stop-color="#d44842"/><stop offset="0.44" stop-color="#c33b4f"/><stop offset="0.52" stop-color="#9d2964"/><stop offset="0.58" stop-color="#8d2369"/><stop offset="0.84" stop-color="#771c6d"/><stop offset="1" stop-color="#721a6e"/></linearGradient><linearGradient id="g64"><stop offset="0" stop-color="#67166e"/><stop offset="0.24" stop-color="#6a176e"/><stop offset="0.25" stop-color="#6d186e"/><stop offset="0.28" stop-color="#8d2369"/><stop offset="0.29" stop-color="#a62d60"/><stop offset="0.31" stop-color="#b63458"/><stop offset="0.37" stop-color="#c83f4b"/><stop offset="0.46" stop-color="#b0315b"/><stop offset="0.52" stop-color="#922568"/><stop offset="0.57" stop-color="#84206b"/><stop offset="0.85" stop-color="#6d186e"/><stop offset="1" stop-color="#69166e"/></linearGradient><linearGradient id="g65"><stop offset="0" stop-color="#5d126e"/><stop offset="0.24" stop-color="#61136e"/><stop offset="0.26" stop-color="#6c186e"/><stop offset="0.3" stop-color="#a22b62"/><stop offset="0.33" stop-color="#b1325a"/><stop offset="0.36" stop-color="#ba3655"/><stop offset="0.39" stop-color="#b93556"/><stop offset="0.44" stop-color="#a92e5e"/><stop offset="0.55" stop-color="#7d1e6d"/><stop offset="0.59" stop-color="#771c6d"/><stop offset="0.89" stop-color="#62146e"/><stop offset="1" stop-color="#61136e"/></linearGradient><linearGradient id="g66"><stop offset="0" stop-color="#550f6d"/><stop offset="0.25" stop-color="#5a116e"/><stop offset="0.28" stop-color="#751b6e"/><stop offset="0.29" stop-color="#8c2369"/><stop offset="0.31" stop-color="#9b2964"/><stop offset="0.36" stop-color="#ad305d"/><stop offset="0.39" stop-color="#ab2f5e"/><stop offset="0.43" stop-color="#9f2a63"/><stop offset="0.55" stop-color="#721a6e"/><stop offset="0.58" stop-color="#6d186e"/><stop offset="0.86" stop-color="#5a116e"/><stop offset="1" stop-color="#57106e"/></linearGradient><linearGradient id="g67"><stop offset="0" stop-color="#4d0d6c"/><stop offset="0.25" stop-color="#510e6c"/><stop offset="0.3" stop-color="#87216b"/><stop offset="0.32" stop-color="#922568"/><stop offset="0.36" stop-color="#9f2a63"/><stop offset="0.39" stop-color="#9d2964"/><stop offset="0.44" stop-color="#8f2469"/><stop offset="0.57" stop-color="#64156e"/><stop offset="0.84" stop-color="#520e6d"/><stop offset="1" stop-color="#4f0d6c"/></linearGradient><linearGradient id="g68"><stop offset="0" stop-color="#440a68"/><stop offset="0.25" stop-color="#490b6a"/><stop offset="0.26" stop-color="#4d0d6c"/><stop offset="0.28" stop-color="#69166e"/><stop offset="0.31" stop-color="#801f6c"/><stop offset="0.36" stop-color="#902568"/><stop offset="0.39" stop-color="#8f2469"/><stop offset="0.43" stop-color="#84206b"/><stop offset="0.51" stop-color="#67166e"/><stop offset="0.58" stop-color="#59106e"/><stop offset="0.86" stop-color="#490b6a"/><stop offset="1" stop-color="#450a69"/></linearGradient><linearGradient id="g69"><stop offset="0" stop-color="#3b0964"/><stop offset="0.25" stop-color="#3e0966"/><stop offset="0.28" stop-color="#520e6d"/><stop offset="0.3" stop-color="#6d186e"/><stop offset="0.36" stop-color="#82206c"/><stop offset="0.39" stop-color="#7f1e6c"/><stop offset="0.55" stop-color="#520e6d"/><stop offset="0.59" stop-color="#4d0d6c"/><stop offset="1" stop-color="#3d0965"/></linearGradient><linearGradient id="g70"><stop offset="0" stop-color="#320a5e"/><stop offset="0.24" stop-color="#340a5f"/><stop offset="0.26" stop-color="#390963"/><stop offset="0.3" stop-color="#61136e"/><stop offset="0.32" stop-color="#6a176e"/><stop offset="0.36" stop-color="#741a6e"/><stop offset="0.41" stop-color="#6d186e"/><stop offset="0.57" stop-color="#450a69"/><stop offset="0.87" stop-color="#360961"/><stop offset="1" stop-color="#340a5f"/></linearGradient><linearGradient id="g71"><stop offset="0" stop-color="#290b55"/><stop offset="0.24" stop-color="#2b0b57"/><stop offset="0.27" stop-color="#360961"/><stop offset="0.28" stop-color="#450a69"/><stop offset="0.31" stop-color="#5a116e"/><stop offset="0.37" stop-color="#67166e"/><stop offset="0.47" stop-color="#540f6d"/><stop offset="0.57" stop-color="#3b0964"/><stop offset="0.86" stop-color="#2d0b59"/><stop offset="1" stop-color="#2b0b57"/></linearGradient><linearGradient id="g72"><stop offset="0" stop-color="#230c4c"/><stop offset="0.24" stop-color="#230c4c"/><stop offset="0.27" stop-color="#2b0b57"/><stop offset="0.3" stop-color="#490b6a"/><stop offset="0.33" stop-color="#540f6d"/><stop offset="0.36" stop-color="#59106e"/><stop offset="0.42" stop-color="#520e6d"/><stop offset="0.57" stop-color="#310a5c"/><stop offset="1" stop-color="#230c4c"/></linearGradient><linearGradient id="g73"><stop offset="0" stop-color="#1b0c41"/><stop offset="0.25" stop-color="#1c0c43"/><stop offset="0.28" stop-color="#280b53"/><stop offset="0.3" stop-color="#3d0965"/><stop offset="0.32" stop-color="#450a69"/><stop offset="0.36" stop-color="#4c0c6b"/><stop offset="0.39" stop-color="#4c0c6b"/><stop offset="0.47" stop-color="#3d0965"/><stop offset="0.56" stop-color="#280b53"/><stop offset="0.83" stop-color="#1e0c45"/><stop offset="1" stop-color="#1c0c43"/></linearGradient><linearGradient id="g74"><stop offset="0" stop-color="#150b37"/><stop offset="0.25" stop-color="#160b39"/><stop offset="0.28" stop-color="#1e0c45"/><stop offset="0.29" stop-color="#2b0b57"/><stop offset="0.31" stop-color="#360961"/><stop offset="0.36" stop-color="#400a67"/><stop offset="0.45" stop-color="#340a5f"/><stop offset="0.54" stop-color="#210c4a"/><stop offset="0.58" stop-color="#1e0c45"/><stop offset="0.87" stop-color="#160b39"/><stop offset="1" stop-color="#160b39"/></linearGradient><linearGradient id="g75"><stop offset="0" stop-color="#10092d"/><stop offset="0.25" stop-color="#10092d"/><stop offset="0.28" stop-color="#160b39"/><stop offset="0.31" stop-color="#290b55"/><stop offset="0.37" stop-color="#340a5f"/><stop offset="0.44" stop-color="#2b0b57"/><stop offset="0.54" stop-color="#190c3e"/><stop offset="0.59" stop-color="#160b39"/><stop offset="0.85" stop-color="#110a30"/><stop offset="1" stop-color="#110a30"/></linearGradient><linearGradient id="g76"><stop offset="0" stop-color="#0c0826"/><stop offset="0.26" stop-color="#0c0826"/><stop offset="0.32" stop-color="#230c4c"/><stop offset="0.36" stop-color="#280b53"/><stop offset="0.41" stop-color="#240c4f"/><stop offset="0.5" stop-color="#160b39"/><stop offset="0.57" stop-color="#110a30"/><stop offset="1" stop-color="#0c0826"/></linearGradient><linearGradient id="g77"><stop offset="0" stop-color="#08051d"/><stop offset="0.25" stop-color="#08051d"/><stop offset="0.28" stop-color="#0b0724"/><stop offset="0.31" stop-color="#180c3c"/><stop offset="0.37" stop-color="#1e0c45"/><stop offset="0.56" stop-color="#0c0826"/><stop offset="1" stop-color="#09061f"/></linearGradient><linearGradient id="g78"><stop offset="0" stop-color="#050417"/><stop offset="0.25" stop-color="#050417"/><stop offset="0.27" stop-color="#060419"/><stop offset="0.32" stop-color="#120a32"/><stop offset="0.36" stop-color="#150b37"/><stop offset="0.4" stop-color="#140b34"/><stop offset="0.57" stop-color="#08051d"/><stop offset="1" stop-color="#050417"/></linearGradient><linearGradient id="g79"><stop offset="0" stop-color="#040312"/><stop offset="0.27" stop-color="#040312"/><stop offset="0.3" stop-color="#0a0722"/><stop offset="0.36" stop-color="#0e092b"/><stop offset="0.55" stop-color="#050417"/><stop offset="1" stop-color="#040312"/></linearGradient><linearGradient id="g80"><stop offset="0" stop-color="#02020c"/><stop offset="0.26" stop-color="#02020c"/><stop offset="0.32" stop-color="#08051d"/><stop offset="0.36" stop-color="#09061f"/><stop offset="0.55" stop-color="#030210"/><stop offset="1" stop-color="#02020c"/></linearGradient><linearGradient id="g81"><stop offset="0" stop-color="#010108"/><stop offset="0.26" stop-color="#010108"/><stop offset="0.35" stop-color="#050417"/><stop offset="0.59" stop-color="#02010a"/><stop offset="1" stop-color="#010108"/></linearGradient><linearGradient id="g82"><stop offset="0" stop-color="#010106"/><stop offset="0.27" stop-color="#010106"/><stop offset="0.36" stop-color="#030210"/><stop offset="0.6" stop-color="#010106"/><stop offset="1" stop-color="#010106"/></linearGradient><linearGradient id="g83"><stop offset="0" stop-color="#010005"/><stop offset="0.28" stop-color="#010005"/><stop offset="0.36" stop-color="#02010a"/><stop offset="0.53" stop-color="#010005"/><stop offset="1" stop-color="#010005"/></linearGradient><linearGradient id="g84"><stop offset="0" stop-color="#000004"/><stop offset="1" stop-color="#000004"/></linearGradient><linearGradient id="g85"><stop offset="0" stop-color="#000004"/><stop offset="1" stop-color="#000004"/></linearGradient><linearGradient id="g86"><stop offset="0" stop-color="#000004"/><stop offset="1" stop-color="#000004"/></linearGradient><linearGradient id="cb87" x1="0" y1="0" x2="0" y2="1"><stop offset="0" stop-color="#fcffa4"/><stop offset="0.03" stop-color="#f3f68a"/><stop offset="0.06" stop-color="#f2ea69"/><stop offset="0.09" stop-color="#f5db4c"/><stop offset="0.12" stop-color="#f9cb35"/><stop offset="0.16" stop-color="#fbbc21"/><stop offset="0.19" stop-color="#fcac11"/><stop offset="0.22" stop-color="#fb9d07"/><stop offset="0.25" stop-color="#f98e09"/><stop offset="0.28" stop-color="#f68013"/><stop offset="0.31" stop-color="#f1731d"/><stop offset="0.34" stop-color="#eb6628"/><stop offset="0.38" stop-color="#e45a31"/><stop offset="0.41" stop-color="#db503b"/><stop offset="0.44" stop-color="#d24644"/><stop offset="0.47" stop-color="#c73e4c"/><stop offset="0.5" stop-color="#bc3754"/><stop offset="0.53" stop-color="#b0315b"/><stop offset="0.56" stop-color="#a32c61"/><stop offset="0.59" stop-color="#972766"/><stop offset="0.62" stop-color="#8a226a"/><stop offset="0.66" stop-color="#7d1e6d"/><stop offset="0.69" stop-color="#71196e"/><stop offset="0.72" stop-color="#64156e"/><stop offset="0.75" stop-color="#57106e"/><stop offset="0.78" stop-color="#4a0c6b"/><stop offset="0.81" stop-color="#3d0965"/><stop offset="0.84" stop-color="#2f0a5b"/><stop offset="0.88" stop-color="#210c4a"/><stop offset="0.91" stop-color="#150b37"/><stop offset="0.94" stop-color="#0b0724"/><stop offset="0.97" stop-color="#040312"/><stop offset="1" stop-color="#000004"/></linearGradient><linearGradient id="g88"><stop offset="0" stop-color="#000004"/><stop offset="0.25" stop-color="#010005"/><stop offset="0.36" stop-color="#030210"/><stop offset="0.56" stop-color="#000004"/><stop offset="1" stop-color="#000004"/></linearGradient><linearGradient id="g89"><stop offset="0" stop-color="#000004"/><stop offset="0.24" stop-color="#010005"/><stop offset="0.37" stop-color="#040312"/><stop offset="0.55" stop-color="#010005"/><stop offset="1" stop-color="#000004"/></linearGradient><linearGradient id="g90"><stop offset="0" stop-color="#010005"/><stop offset="0.25" stop-color="#010106"/><stop offset="0.36" stop-color="#040314"/><stop offset="0.58" stop-color="#010106"/><stop offset="1" stop-color="#010005"/></linearGradient><linearGradient id="g91"><stop offset="0" stop-color="#010108"/><stop offset="0.27" stop-color="#02010a"/><stop offset="0.32" stop-color="#050417"/><stop offset="0.37" stop-color="#07051b"/><stop offset="0.6" stop-color="#02010a"/><stop offset="1" stop-color="#010108"/></linearGradient><linearGradient id="g92"><stop offset="0" stop-color="#02020e"/><stop offset="0.25" stop-color="#02020c"/><stop offset="0.35" stop-color="#0a0722"/><stop offset="0.4" stop-color="#0a0722"/><stop offset="0.5" stop-color="#050417"/><stop offset="0.61" stop-color="#030210"/><stop offset="1" stop-color="#02020e"/></linearGradient><linearGradient id="g93"><stop offset="0" stop-color="#040314"/><stop offset="0.27" stop-color="#040312"/><stop offset="0.28" stop-color="#050417"/><stop offset="0.32" stop-color="#0d0829"/><stop offset="0.37" stop-color="#10092d"/><stop offset="0.52" stop-color="#08051d"/><stop offset="0.65" stop-color="#050417"/><stop offset="1" stop-color="#040314"/></linearGradient><linearGradient id="g94"><stop offset="0" stop-color="#08051d"/><stop offset="0.22" stop-color="#08051d"/><stop offset="0.27" stop-color="#060419"/><stop offset="0.28" stop-color="#09061f"/><stop offset="0.31" stop-color="#120a32"/><stop offset="0.36" stop-color="#160b39"/><stop offset="0.39" stop-color="#160b39"/><stop offset="0.52" stop-color="#0d0829"/><stop offset="0.66" stop-color="#09061f"/><stop offset="1" stop-color="#08051d"/></linearGradient><linearGradient id="g95"><stop offset="0" stop-color="#0c0826"/><stop offset="0.22" stop-color="#0c0826"/><stop offset="0.27" stop-color="#0a0722"/><stop offset="0.28" stop-color="#0d0829"/><stop offset="0.31" stop-color="#1b0c41"/><stop offset="0.34" stop-color="#1f0c48"/><stop offset="0.4" stop-color="#1f0c48"/><stop offset="0.51" stop-color="#150b37"/><stop offset="0.65" stop-color="#0e092b"/><stop offset="1" stop-color="#0c0826"/></linearGradient><linearGradient id="g96"><stop offset="0" stop-color="#120a32"/><stop offset="0.2" stop-color="#120a32"/><stop offset="0.26" stop-color="#0e092b"/><stop offset="0.28" stop-color="#110a30"/><stop offset="0.32" stop-color="#280b53"/><stop offset="0.36" stop-color="#2d0b59"/><stop offset="0.42" stop-color="#290b55"/><stop offset="0.54" stop-color="#1c0c43"/><stop offset="0.67" stop-color="#150b37"/><stop offset="1" stop-color="#120a32"/></linearGradient><linearGradient id="g97"><stop offset="0" stop-color="#190c3e"/><stop offset="0.21" stop-color="#190c3e"/><stop offset="0.27" stop-color="#160b39"/><stop offset="0.28" stop-color="#1e0c45"/><stop offset="0.3" stop-color="#2d0b59"/><stop offset="0.31" stop-color="#320a5e"/><stop offset="0.36" stop-color="#3b0964"/><stop offset="0.44" stop-color="#360961"/><stop offset="0.5" stop-color="#2b0b57"/><stop offset="0.66" stop-color="#1e0c45"/><stop offset="0.78" stop-color="#1b0c41"/><stop offset="1" stop-color="#1b0c41"/></linearGradient><linearGradient id="g98"><stop offset="0" stop-color="#230c4c"/><stop offset="0.18" stop-color="#230c4c"/><stop offset="0.25" stop-color="#1e0c45"/><stop offset="0.27" stop-color="#1f0c48"/><stop offset="0.28" stop-color="#280b53"/><stop offset="0.31" stop-color="#400a67"/><stop offset="0.36" stop-color="#4a0c6b"/><stop offset="0.47" stop-color="#400a67"/><stop offset="0.51" stop-color="#380962"/><stop offset="0.68" stop-color="#280b53"/><stop offset="1" stop-color="#230c4c"/></linearGradient><linearGradient id="g99"><stop offset="0" stop-color="#2d0b59"/><stop offset="0.18" stop-color="#2d0b59"/><stop offset="0.25" stop-color="#280b53"/><stop offset="0.28" stop-color="#340a5f"/><stop offset="0.31" stop-color="#4f0d6c"/><stop offset="0.36" stop-color="#59106e"/><stop offset="0.44" stop-color="#520e6d"/><stop offset="0.64" stop-color="#360961"/><stop offset="0.79" stop-color="#2f0a5b"/><stop offset="1" stop-color="#2d0b59"/></linearGradient><linearGradient id="g100"><stop offset="0" stop-color="#380962"/><stop offset="0.25" stop-color="#340a5f"/><stop offset="0.28" stop-color="#3b0964"/><stop offset="0.31" stop-color="#5d126e"/><stop offset="0.35" stop-color="#69166e"/><stop offset="0.42" stop-color="#64156e"/><stop offset="0.53" stop-color="#510e6c"/><stop offset="0.67" stop-color="#400a67"/><stop offset="0.85" stop-color="#390963"/><stop offset="1" stop-color="#390963"/></linearGradient><linearGradient id="g101"><stop offset="0" stop-color="#440a68"/><stop offset="0.24" stop-color="#400a67"/><stop offset="0.28" stop-color="#490b6a"/><stop offset="0.31" stop-color="#6d186e"/><stop offset="0.35" stop-color="#781c6d"/><stop offset="0.42" stop-color="#741a6e"/><stop offset="0.54" stop-color="#5d126e"/><stop offset="0.68" stop-color="#4c0c6b"/><stop offset="0.83" stop-color="#450a69"/><stop offset="1" stop-color="#450a69"/></linearGradient><linearGradient id="g102"><stop offset="0" stop-color="#4f0d6c"/><stop offset="0.24" stop-color="#4c0c6b"/><stop offset="0.28" stop-color="#57106e"/><stop offset="0.28" stop-color="#5d126e"/><stop offset="0.31" stop-color="#7d1e6d"/><stop offset="0.35" stop-color="#8a226a"/><stop offset="0.39" stop-color="#88226a"/><stop offset="0.65" stop-color="#5a116e"/><stop offset="0.83" stop-color="#510e6c"/><stop offset="1" stop-color="#510e6c"/></linearGradient><linearGradient id="g103"><stop offset="0" stop-color="#5a116e"/><stop offset="0.25" stop-color="#5a116e"/><stop offset="0.28" stop-color="#6c186e"/><stop offset="0.31" stop-color="#8f2469"/><stop offset="0.36" stop-color="#9d2964"/><stop offset="0.45" stop-color="#902568"/><stop offset="0.51" stop-color="#7f1e6c"/><stop offset="0.65" stop-color="#67166e"/><stop offset="0.79" stop-color="#5d126e"/><stop offset="1" stop-color="#5c126e"/></linearGradient><linearGradient id="g104"><stop offset="0" stop-color="#65156e"/><stop offset="0.25" stop-color="#67166e"/><stop offset="0.28" stop-color="#7c1d6d"/><stop offset="0.31" stop-color="#a02a63"/><stop offset="0.36" stop-color="#ae305c"/><stop offset="0.43" stop-color="#a52c60"/><stop offset="0.5" stop-color="#902568"/><stop offset="0.65" stop-color="#741a6e"/><stop offset="0.81" stop-color="#69166e"/><stop offset="1" stop-color="#67166e"/></linearGradient><linearGradient id="g105"><stop offset="0" stop-color="#6f196e"/><stop offset="0.24" stop-color="#71196e"/><stop offset="0.28" stop-color="#82206c"/><stop offset="0.29" stop-color="#952667"/><stop offset="0.31" stop-color="#b0315b"/><stop offset="0.35" stop-color="#bd3853"/><stop offset="0.41" stop-color="#b73557"/><stop offset="0.52" stop-color="#9a2865"/><stop offset="0.67" stop-color="#7d1e6d"/><stop offset="0.8" stop-color="#741a6e"/><stop offset="1" stop-color="#71196e"/></linearGradient><linearGradient id="g106"><stop offset="0" stop-color="#781c6d"/><stop offset="0.21" stop-color="#771c6d"/><stop offset="0.24" stop-color="#7c1d6d"/><stop offset="0.28" stop-color="#982766"/><stop offset="0.3" stop-color="#b43359"/><stop offset="0.31" stop-color="#bd3853"/><stop offset="0.33" stop-color="#c73e4c"/><stop offset="0.36" stop-color="#cc4248"/><stop offset="0.44" stop-color="#c03a51"/><stop offset="0.51" stop-color="#a92e5e"/><stop offset="0.67" stop-color="#88226a"/><stop offset="0.82" stop-color="#7d1e6d"/><stop offset="1" stop-color="#7c1d6d"/></linearGradient><linearGradient id="g107"><stop offset="0" stop-color="#84206b"/><stop offset="0.22" stop-color="#84206b"/><stop offset="0.25" stop-color="#8d2369"/><stop offset="0.28" stop-color="#a62d60"/><stop offset="0.3" stop-color="#c43c4e"/><stop offset="0.31" stop-color="#cc4248"/><stop offset="0.33" stop-color="#d54a41"/><stop offset="0.36" stop-color="#da4e3c"/><stop offset="0.45" stop-color="#cc4248"/><stop offset="0.52" stop-color="#b63458"/><stop offset="0.68" stop-color="#932667"/><stop offset="0.83" stop-color="#88226a"/><stop offset="1" stop-color="#87216b"/></linearGradient><linearGradient id="g108"><stop offset="0" stop-color="#8f2469"/><stop offset="0.22" stop-color="#8f2469"/><stop offset="0.24" stop-color="#932667"/><stop offset="0.28" stop-color="#b63458"/><stop offset="0.3" stop-color="#d24644"/><stop offset="0.31" stop-color="#da4e3c"/><stop offset="0.35" stop-color="#e65d2f"/><stop offset="0.44" stop-color="#db503b"/><stop offset="0.51" stop-color="#c63d4d"/><stop offset="0.62" stop-color="#a92e5e"/><stop offset="0.69" stop-color="#9f2a63"/><stop offset="0.83" stop-color="#932667"/><stop offset="1" stop-color="#922568"/></linearGradient><linearGradient id="g109"><stop offset="0" stop-color="#9a2865"/><stop offset="0.22" stop-color="#9a2865"/><stop offset="0.24" stop-color="#a02a63"/><stop offset="0.28" stop-color="#c43c4e"/><stop offset="0.29" stop-color="#cf4446"/><stop offset="0.3" stop-color="#de5238"/><stop offset="0.31" stop-color="#e55c30"/><stop offset="0.35" stop-color="#ef6e21"/><stop offset="0.39" stop-color="#ed6925"/><stop offset="0.44" stop-color="#e65d2f"/><stop offset="0.51" stop-color="#d24644"/><stop offset="0.64" stop-color="#b1325a"/><stop offset="0.8" stop-color="#a02a63"/><stop offset="1" stop-color="#9d2964"/></linearGradient><linearGradient id="g110"><stop offset="0" stop-color="#a32c61"/><stop offset="0.21" stop-color="#a32c61"/><stop offset="0.24" stop-color="#ad305d"/><stop offset="0.26" stop-color="#bf3952"/><stop offset="0.28" stop-color="#d04545"/><stop offset="0.3" stop-color="#e8602d"/><stop offset="0.31" stop-color="#ef6c23"/><stop offset="0.33" stop-color="#f37819"/><stop offset="0.36" stop-color="#f68013"/><stop offset="0.39" stop-color="#f57d15"/><stop offset="0.47" stop-color="#ea632a"/><stop offset="0.52" stop-color="#da4e3c"/><stop offset="0.63" stop-color="#bf3952"/><stop offset="0.79" stop-color="#ab2f5e"/><stop offset="1" stop-color="#a62d60"/></linearGradient><linearGradient id="g111"><stop offset="0" stop-color="#ae305c"/><stop offset="0.21" stop-color="#ad305d"/><stop offset="0.24" stop-color="#b73557"/><stop offset="0.26" stop-color="#cb4149"/><stop offset="0.28" stop-color="#db503b"/><stop offset="0.29" stop-color="#e55c30"/><stop offset="0.3" stop-color="#f06f20"/><stop offset="0.32" stop-color="#f78410"/><stop offset="0.34" stop-color="#f98e09"/><stop offset="0.36" stop-color="#fa9207"/><stop offset="0.39" stop-color="#f98e09"/><stop offset="0.47" stop-color="#f1711f"/><stop offset="0.52" stop-color="#e35933"/><stop offset="0.65" stop-color="#c43c4e"/><stop offset="0.83" stop-color="#b3325a"/><stop offset="1" stop-color="#b1325a"/></linearGradient><linearGradient id="g112"><stop offset="0" stop-color="#b63458"/><stop offset="0.21" stop-color="#b63458"/><stop offset="0.24" stop-color="#c03a51"/><stop offset="0.26" stop-color="#d54a41"/><stop offset="0.28" stop-color="#e55c30"/><stop offset="0.29" stop-color="#ec6726"/><stop offset="0.3" stop-color="#f67e14"/><stop offset="0.31" stop-color="#f98b0b"/><stop offset="0.33" stop-color="#fb9906"/><stop offset="0.36" stop-color="#fca50a"/><stop offset="0.38" stop-color="#fca309"/><stop offset="0.43" stop-color="#f98e09"/><stop offset="0.51" stop-color="#ec6726"/><stop offset="0.57" stop-color="#e35933"/><stop offset="0.64" stop-color="#cf4446"/><stop offset="0.8" stop-color="#bd3853"/><stop offset="1" stop-color="#b93556"/></linearGradient><linearGradient id="g113"><stop offset="0" stop-color="#bf3952"/><stop offset="0.21" stop-color="#bd3853"/><stop offset="0.23" stop-color="#c43c4e"/><stop offset="0.25" stop-color="#d34743"/><stop offset="0.27" stop-color="#e55c30"/><stop offset="0.28" stop-color="#ec6726"/><stop offset="0.29" stop-color="#f2741c"/><stop offset="0.3" stop-color="#f98c0a"/><stop offset="0.31" stop-color="#fb9b06"/><stop offset="0.34" stop-color="#fcb014"/><stop offset="0.36" stop-color="#fbb61a"/><stop offset="0.38" stop-color="#fcb418"/><stop offset="0.43" stop-color="#fc9f07"/><stop offset="0.46" stop-color="#fa9207"/><stop offset="0.51" stop-color="#f1731d"/><stop offset="0.65" stop-color="#d54a41"/><stop offset="0.81" stop-color="#c43c4e"/><stop offset="1" stop-color="#c13a50"/></linearGradient><linearGradient id="g114"><stop offset="0" stop-color="#c63d4d"/><stop offset="0.21" stop-color="#c43c4e"/><stop offset="0.23" stop-color="#cb4149"/><stop offset="0.25" stop-color="#da4e3c"/><stop offset="0.26" stop-color="#e65d2f"/><stop offset="0.28" stop-color="#f1731d"/><stop offset="0.29" stop-color="#f78212"/><stop offset="0.3" stop-color="#fb9b06"/><stop offset="0.32" stop-color="#fcb418"/><stop offset="0.36" stop-color="#fac62d"/><stop offset="0.38" stop-color="#fac42a"/><stop offset="0.42" stop-color="#fcb216"/><stop offset="0.46" stop-color="#fc9f07"/><stop offset="0.48" stop-color="#fb9606"/><stop offset="0.51" stop-color="#f67e14"/><stop offset="0.57" stop-color="#ef6c23"/><stop offset="0.64" stop-color="#de5238"/><stop offset="0.81" stop-color="#cb4149"/><stop offset="1" stop-color="#c83f4b"/></linearGradient><linearGradient id="g115"><stop offset="0" stop-color="#cb4149"/><stop offset="0.21" stop-color="#ca404a"/><stop offset="0.23" stop-color="#d24644"/><stop offset="0.25" stop-color="#e15635"/><stop offset="0.26" stop-color="#eb6628"/><stop offset="0.28" stop-color="#f67e14"/><stop offset="0.29" stop-color="#f98e09"/><stop offset="0.3" stop-color="#fca80d"/><stop offset="0.31" stop-color="#fbb81d"/><stop offset="0.34" stop-color="#f8cf3a"/><stop offset="0.36" stop-color="#f6d543"/><stop offset="0.39" stop-color="#f8cf3a"/><stop offset="0.43" stop-color="#fbbc21"/><stop offset="0.47" stop-color="#fca60c"/><stop offset="0.49" stop-color="#fb9b06"/><stop offset="0.51" stop-color="#f8890c"/><stop offset="0.6" stop-color="#ec6726"/><stop offset="0.66" stop-color="#e05536"/><stop offset="0.8" stop-color="#d24644"/><stop offset="1" stop-color="#ce4347"/></linearGradient><linearGradient id="g116"><stop offset="0" stop-color="#d04545"/><stop offset="0.21" stop-color="#cf4446"/><stop offset="0.22" stop-color="#d34743"/><stop offset="0.24" stop-color="#dd513a"/><stop offset="0.25" stop-color="#e65d2f"/><stop offset="0.26" stop-color="#f06f20"/><stop offset="0.27" stop-color="#f57b17"/><stop offset="0.28" stop-color="#f8890c"/><stop offset="0.29" stop-color="#fb9906"/><stop offset="0.3" stop-color="#fcb418"/><stop offset="0.31" stop-color="#fac62d"/><stop offset="0.34" stop-color="#f5db4c"/><stop offset="0.36" stop-color="#f4e156"/><stop offset="0.38" stop-color="#f4df53"/><stop offset="0.43" stop-color="#f9c72f"/><stop offset="0.49" stop-color="#fca50a"/><stop offset="0.5" stop-color="#fb9706"/><stop offset="0.58" stop-color="#f47918"/><stop offset="0.61" stop-color="#ec6726"/><stop offset="0.66" stop-color="#e45a31"/><stop offset="0.8" stop-color="#d74b3f"/><stop offset="1" stop-color="#d34743"/></linearGradient><linearGradient id="g117"><stop offset="0" stop-color="#d44842"/><stop offset="0.22" stop-color="#d74b3f"/><stop offset="0.24" stop-color="#e15635"/><stop offset="0.26" stop-color="#f37819"/><stop offset="0.27" stop-color="#f78410"/><stop offset="0.28" stop-color="#fa9207"/><stop offset="0.29" stop-color="#fca309"/><stop offset="0.3" stop-color="#fac026"/><stop offset="0.31" stop-color="#f8cf3a"/><stop offset="0.34" stop-color="#f2e661"/><stop offset="0.36" stop-color="#f1ec6d"/><stop offset="0.38" stop-color="#f2ea69"/><stop offset="0.44" stop-color="#f8cd37"/><stop offset="0.49" stop-color="#fcae12"/><stop offset="0.51" stop-color="#fb9b06"/><stop offset="0.56" stop-color="#f8890c"/><stop offset="0.61" stop-color="#ef6e21"/><stop offset="0.66" stop-color="#e8602d"/><stop offset="0.81" stop-color="#da4e3c"/><stop offset="1" stop-color="#d84c3e"/></linearGradient><linearGradient id="g118"><stop offset="0" stop-color="#d84c3e"/><stop offset="0.2" stop-color="#d74b3f"/><stop offset="0.22" stop-color="#da4e3c"/><stop offset="0.24" stop-color="#e55c30"/><stop offset="0.26" stop-color="#f67e14"/><stop offset="0.27" stop-color="#f98c0a"/><stop offset="0.28" stop-color="#fb9b06"/><stop offset="0.29" stop-color="#fcac11"/><stop offset="0.3" stop-color="#f9c72f"/><stop offset="0.31" stop-color="#f5d949"/><stop offset="0.34" stop-color="#f1ef75"/><stop offset="0.36" stop-color="#f2f482"/><stop offset="0.38" stop-color="#f2f27d"/><stop offset="0.4" stop-color="#f2e661"/><stop offset="0.43" stop-color="#f5db4c"/><stop offset="0.47" stop-color="#fac62d"/><stop offset="0.5" stop-color="#fcae12"/><stop offset="0.52" stop-color="#fb9d07"/><stop offset="0.57" stop-color="#f98b0b"/><stop offset="0.61" stop-color="#f1731d"/><stop offset="0.66" stop-color="#eb6429"/><stop offset="0.81" stop-color="#de5238"/><stop offset="1" stop-color="#da4e3c"/></linearGradient><linearGradient id="g119"><stop offset="0" stop-color="#da4e3c"/><stop offset="0.22" stop-color="#dd513a"/><stop offset="0.24" stop-color="#e75e2e"/><stop offset="0.26" stop-color="#f78410"/><stop offset="0.27" stop-color="#fa9207"/><stop offset="0.28" stop-color="#fca108"/><stop offset="0.29" stop-color="#fcb216"/><stop offset="0.3" stop-color="#f8cf3a"/><stop offset="0.31" stop-color="#f4df53"/><stop offset="0.34" stop-color="#f3f586"/><stop offset="0.36" stop-color="#f5f992"/><stop offset="0.38" stop-color="#f4f88e"/><stop offset="0.4" stop-color="#f1ed71"/><stop offset="0.44" stop-color="#f4dd4f"/><stop offset="0.5" stop-color="#fcae12"/><stop offset="0.53" stop-color="#fc9f07"/><stop offset="0.56" stop-color="#fa9407"/><stop offset="0.61" stop-color="#f57b17"/><stop offset="0.67" stop-color="#eb6628"/><stop offset="0.81" stop-color="#e05536"/><stop offset="1" stop-color="#dd513a"/></linearGradient><linearGradient id="g120"><stop offset="0" stop-color="#db503b"/><stop offset="0.21" stop-color="#db503b"/><stop offset="0.24" stop-color="#e9612b"/><stop offset="0.26" stop-color="#f8890c"/><stop offset="0.27" stop-color="#fb9706"/><stop offset="0.28" stop-color="#fc9f07"/><stop offset="0.28" stop-color="#fca60c"/><stop offset="0.29" stop-color="#fbb81d"/><stop offset="0.3" stop-color="#f7d340"/><stop offset="0.31" stop-color="#f3e55d"/><stop offset="0.34" stop-color="#f5f992"/><stop offset="0.36" stop-color="#f9fc9d"/><stop offset="0.37" stop-color="#f9fc9d"/><stop offset="0.38" stop-color="#f6fa96"/><stop offset="0.43" stop-color="#f2e661"/><stop offset="0.48" stop-color="#f9c932"/><stop offset="0.5" stop-color="#fcb216"/><stop offset="0.52" stop-color="#fca60c"/><stop offset="0.54" stop-color="#fc9f07"/><stop offset="0.58" stop-color="#f98e09"/><stop offset="0.62" stop-color="#f3761b"/><stop offset="0.7" stop-color="#eb6429"/><stop offset="0.82" stop-color="#e15635"/><stop offset="1" stop-color="#df5337"/></linearGradient><linearGradient id="g121"><stop offset="0" stop-color="#dd513a"/><stop offset="0.21" stop-color="#dd513a"/><stop offset="0.24" stop-color="#ea632a"/><stop offset="0.26" stop-color="#f98b0b"/><stop offset="0.27" stop-color="#fb9906"/><stop offset="0.28" stop-color="#fca108"/><stop offset="0.28" stop-color="#fca80d"/><stop offset="0.29" stop-color="#fbba1f"/><stop offset="0.3" stop-color="#f6d746"/><stop offset="0.31" stop-color="#f2e865"/><stop offset="0.33" stop-color="#f3f68a"/><stop offset="0.35" stop-color="#fafda1"/><stop offset="0.36" stop-color="#fcffa4"/><stop offset="0.38" stop-color="#f9fc9d"/><stop offset="0.39" stop-color="#f4f88e"/><stop offset="0.44" stop-color="#f3e55d"/><stop offset="0.47" stop-color="#f7d340"/><stop offset="0.5" stop-color="#fcb418"/><stop offset="0.54" stop-color="#fca108"/><stop offset="0.58" stop-color="#fa9008"/><stop offset="0.61" stop-color="#f57b17"/><stop offset="0.68" stop-color="#ec6726"/><stop offset="0.82" stop-color="#e25734"/><stop offset="1" stop-color="#e05536"/></linearGradient><linearGradient id="g122"><stop offset="0" stop-color="#dd513a"/><stop offset="0.21" stop-color="#dd513a"/><stop offset="0.24" stop-color="#eb6429"/><stop offset="0.25" stop-color="#f2741c"/><stop offset="0.26" stop-color="#f98b0b"/><stop offset="0.27" stop-color="#fb9b06"/><stop offset="0.28" stop-color="#fca309"/><stop offset="0.28" stop-color="#fcaa0f"/><stop offset="0.29" stop-color="#fbbc21"/><stop offset="0.3" stop-color="#f5d949"/><stop offset="0.31" stop-color="#f2e865"/><stop offset="0.33" stop-color="#f4f88e"/><stop offset="0.34" stop-color="#f8fb9a"/><stop offset="0.36" stop-color="#fcffa4"/><stop offset="0.38" stop-color="#fafda1"/><stop offset="0.42" stop-color="#f1ef75"/><stop offset="0.47" stop-color="#f7d340"/><stop offset="0.5" stop-color="#fbbc21"/><stop offset="0.51" stop-color="#fcae12"/><stop offset="0.54" stop-color="#fca108"/><stop offset="0.58" stop-color="#fa9008"/><stop offset="0.62" stop-color="#f37819"/><stop offset="0.71" stop-color="#eb6429"/><stop offset="0.82" stop-color="#e25734"/><stop offset="1" stop-color="#e05536"/></linearGradient><linearGradient id="g123"><stop offset="0" stop-color="#dd513a"/><stop offset="0.21" stop-color="#dd513a"/><stop offset="0.24" stop-color="#ea632a"/><stop offset="0.26" stop-color="#f98b0b"/><stop offset="0.27" stop-color="#fb9906"/><stop offset="0.28" stop-color="#fca108"/><stop offset="0.28" stop-color="#fcaa0f"/><stop offset="0.29" stop-color="#fbba1f"/><stop offset="0.3" stop-color="#f6d746"/><stop offset="0.31" stop-color="#f2e865"/><stop offset="0.34" stop-color="#f8fb9a"/><stop offset="0.36" stop-color="#fcffa4"/><stop offset="0.38" stop-color="#fafda1"/><stop offset="0.39" stop-color="#f8fb9a"/><stop offset="0.43" stop-color="#f2ea69"/><stop offset="0.47" stop-color="#f7d340"/><stop offset="0.5" stop-color="#fcb418"/><stop offset="0.54" stop-color="#fca108"/><stop offset="0.57" stop-color="#fa9407"/><stop offset="0.61" stop-color="#f67e14"/><stop offset="0.68" stop-color="#ec6726"/><stop offset="0.81" stop-color="#e25734"/><stop offset="1" stop-color="#df5337"/></linearGradient><linearGradient id="g124"><stop offset="0" stop-color="#da4e3c"/><stop offset="0.21" stop-color="#db503b"/><stop offset="0.24" stop-color="#e9612b"/><stop offset="0.25" stop-color="#f1711f"/><stop offset="0.26" stop-color="#f8870e"/><stop offset="0.27" stop-color="#fb9706"/><stop offset="0.28" stop-color="#fc9f07"/><stop offset="0.28" stop-color="#fca60c"/><stop offset="0.29" stop-color="#fbb81d"/><stop offset="0.3" stop-color="#f6d543"/><stop offset="0.31" stop-color="#f2e661"/><stop offset="0.33" stop-color="#f3f586"/><stop offset="0.35" stop-color="#f9fc9d"/><stop offset="0.36" stop-color="#fafda1"/><stop offset="0.37" stop-color="#fafda1"/><stop offset="0.38" stop-color="#f8fb9a"/><stop offset="0.42" stop-color="#f1ec6d"/><stop offset="0.44" stop-color="#f4e156"/><stop offset="0.45" stop-color="#f4dd4f"/><stop offset="0.5" stop-color="#fbb81d"/><stop offset="0.51" stop-color="#fcaa0f"/><stop offset="0.53" stop-color="#fca108"/><stop offset="0.58" stop-color="#f98c0a"/><stop offset="0.62" stop-color="#f2741c"/><stop offset="0.67" stop-color="#ec6726"/><stop offset="0.82" stop-color="#e05536"/><stop offset="1" stop-color="#de5238"/></linearGradient><linearGradient id="g125"><stop offset="0" stop-color="#d84c3e"/><stop offset="0.21" stop-color="#d94d3d"/><stop offset="0.24" stop-color="#e75e2e"/><stop offset="0.25" stop-color="#ef6e21"/><stop offset="0.26" stop-color="#f78410"/><stop offset="0.27" stop-color="#fa9207"/><stop offset="0.28" stop-color="#fb9906"/><stop offset="0.28" stop-color="#fca309"/><stop offset="0.29" stop-color="#fcb418"/><stop offset="0.3" stop-color="#f7d13d"/><stop offset="0.31" stop-color="#f4e156"/><stop offset="0.33" stop-color="#f2f27d"/><stop offset="0.34" stop-color="#f3f68a"/><stop offset="0.36" stop-color="#f6fa96"/><stop offset="0.38" stop-color="#f5f992"/><stop offset="0.43" stop-color="#f3e35a"/><stop offset="0.47" stop-color="#f9cb35"/><stop offset="0.5" stop-color="#fcac11"/><stop offset="0.53" stop-color="#fb9d07"/><stop offset="0.56" stop-color="#fa9207"/><stop offset="0.61" stop-color="#f2741c"/><stop offset="0.67" stop-color="#eb6429"/><stop offset="0.8" stop-color="#df5337"/><stop offset="1" stop-color="#db503b"/></linearGradient><linearGradient id="g126"><stop offset="0" stop-color="#d54a41"/><stop offset="0.2" stop-color="#d54a41"/><stop offset="0.22" stop-color="#d94d3d"/><stop offset="0.24" stop-color="#e45a31"/><stop offset="0.25" stop-color="#ed6925"/><stop offset="0.26" stop-color="#f67e14"/><stop offset="0.27" stop-color="#f98c0a"/><stop offset="0.28" stop-color="#fb9b06"/><stop offset="0.29" stop-color="#fcac11"/><stop offset="0.3" stop-color="#f9c932"/><stop offset="0.31" stop-color="#f5db4c"/><stop offset="0.34" stop-color="#f2f27d"/><stop offset="0.36" stop-color="#f3f68a"/><stop offset="0.38" stop-color="#f3f586"/><stop offset="0.43" stop-color="#f4dd4f"/><stop offset="0.5" stop-color="#fcae12"/><stop offset="0.52" stop-color="#fb9b06"/><stop offset="0.55" stop-color="#fa9008"/><stop offset="0.61" stop-color="#f06f20"/><stop offset="0.66" stop-color="#e9612b"/><stop offset="0.81" stop-color="#db503b"/><stop offset="1" stop-color="#d84c3e"/></linearGradient><linearGradient id="g127"><stop offset="0" stop-color="#d24644"/><stop offset="0.2" stop-color="#d24644"/><stop offset="0.22" stop-color="#d54a41"/><stop offset="0.24" stop-color="#e15635"/><stop offset="0.25" stop-color="#ea632a"/><stop offset="0.26" stop-color="#f37819"/><stop offset="0.27" stop-color="#f78410"/><stop offset="0.28" stop-color="#fa9407"/><stop offset="0.29" stop-color="#fca50a"/><stop offset="0.3" stop-color="#fac228"/><stop offset="0.31" stop-color="#f7d340"/><stop offset="0.34" stop-color="#f2ea69"/><stop offset="0.36" stop-color="#f1f179"/><stop offset="0.38" stop-color="#f1ed71"/><stop offset="0.42" stop-color="#f5d949"/><stop offset="0.45" stop-color="#f9c932"/><stop offset="0.5" stop-color="#fca60c"/><stop offset="0.51" stop-color="#fb9906"/><stop offset="0.56" stop-color="#f8850f"/><stop offset="0.61" stop-color="#ef6e21"/><stop offset="0.68" stop-color="#e35933"/><stop offset="0.81" stop-color="#d84c3e"/><stop offset="1" stop-color="#d44842"/></linearGradient><linearGradient id="g128"><stop offset="0" stop-color="#cc4248"/><stop offset="0.16" stop-color="#cc4248"/><stop offset="0.21" stop-color="#ce4347"/><stop offset="0.22" stop-color="#d24644"/><stop offset="0.24" stop-color="#dd513a"/><stop offset="0.25" stop-color="#e65d2f"/><stop offset="0.26" stop-color="#f06f20"/><stop offset="0.28" stop-color="#f98b0b"/><stop offset="0.29" stop-color="#fb9b06"/><stop offset="0.3" stop-color="#fbb81d"/><stop offset="0.31" stop-color="#f9c72f"/><stop offset="0.34" stop-color="#f4e156"/><stop offset="0.36" stop-color="#f2e661"/><stop offset="0.38" stop-color="#f3e55d"/><stop offset="0.42" stop-color="#f8cf3a"/><stop offset="0.48" stop-color="#fcaa0f"/><stop offset="0.5" stop-color="#fb9d07"/><stop offset="0.52" stop-color="#f98b0b"/><stop offset="0.6" stop-color="#ee6a24"/><stop offset="0.67" stop-color="#e05536"/><stop offset="0.81" stop-color="#d34743"/><stop offset="1" stop-color="#d04545"/></linearGradient><linearGradient id="g129"><stop offset="0" stop-color="#c73e4c"/><stop offset="0.17" stop-color="#c73e4c"/><stop offset="0.22" stop-color="#cb4149"/><stop offset="0.24" stop-color="#d74b3f"/><stop offset="0.26" stop-color="#eb6628"/><stop offset="0.28" stop-color="#f68013"/><stop offset="0.29" stop-color="#fa9008"/><stop offset="0.3" stop-color="#fcac11"/><stop offset="0.31" stop-color="#fbbc21"/><stop offset="0.34" stop-color="#f6d543"/><stop offset="0.36" stop-color="#f5db4c"/><stop offset="0.37" stop-color="#f5db4c"/><stop offset="0.39" stop-color="#f6d543"/><stop offset="0.41" stop-color="#f9c72f"/><stop offset="0.46" stop-color="#fcac11"/><stop offset="0.49" stop-color="#fb9906"/><stop offset="0.51" stop-color="#f8850f"/><stop offset="0.6" stop-color="#ea632a"/><stop offset="0.65" stop-color="#de5238"/><stop offset="0.8" stop-color="#ce4347"/><stop offset="1" stop-color="#ca404a"/></linearGradient><linearGradient id="g130"><stop offset="0" stop-color="#c03a51"/><stop offset="0.21" stop-color="#c13a50"/><stop offset="0.23" stop-color="#ca404a"/><stop offset="0.24" stop-color="#cf4446"/><stop offset="0.26" stop-color="#e55c30"/><stop offset="0.28" stop-color="#f2741c"/><stop offset="0.29" stop-color="#f78410"/><stop offset="0.3" stop-color="#fc9f07"/><stop offset="0.31" stop-color="#fcae12"/><stop offset="0.33" stop-color="#fac026"/><stop offset="0.35" stop-color="#f9cb35"/><stop offset="0.36" stop-color="#f8cd37"/><stop offset="0.39" stop-color="#f9c72f"/><stop offset="0.44" stop-color="#fcaa0f"/><stop offset="0.47" stop-color="#fb9b06"/><stop offset="0.51" stop-color="#f57b17"/><stop offset="0.63" stop-color="#db503b"/><stop offset="0.67" stop-color="#d44842"/><stop offset="0.81" stop-color="#c73e4c"/><stop offset="1" stop-color="#c43c4e"/></linearGradient><linearGradient id="g131"><stop offset="0" stop-color="#b93556"/><stop offset="0.21" stop-color="#ba3655"/><stop offset="0.23" stop-color="#c33b4f"/><stop offset="0.25" stop-color="#d24644"/><stop offset="0.27" stop-color="#e55c30"/><stop offset="0.28" stop-color="#ed6925"/><stop offset="0.29" stop-color="#f37819"/><stop offset="0.3" stop-color="#fa9008"/><stop offset="0.31" stop-color="#fca108"/><stop offset="0.34" stop-color="#fbb81d"/><stop offset="0.36" stop-color="#fbbe23"/><stop offset="0.39" stop-color="#fbb81d"/><stop offset="0.43" stop-color="#fca108"/><stop offset="0.45" stop-color="#fb9706"/><stop offset="0.48" stop-color="#f8870e"/><stop offset="0.51" stop-color="#f06f20"/><stop offset="0.63" stop-color="#d44842"/><stop offset="0.82" stop-color="#bf3952"/><stop offset="1" stop-color="#bc3754"/></linearGradient><linearGradient id="g132"><stop offset="0" stop-color="#b1325a"/><stop offset="0.2" stop-color="#b1325a"/><stop offset="0.24" stop-color="#bf3952"/><stop offset="0.27" stop-color="#dd513a"/><stop offset="0.28" stop-color="#e65d2f"/><stop offset="0.29" stop-color="#ee6a24"/><stop offset="0.3" stop-color="#f78212"/><stop offset="0.31" stop-color="#fa9008"/><stop offset="0.32" stop-color="#fb9906"/><stop offset="0.34" stop-color="#fca60c"/><stop offset="0.36" stop-color="#fcac11"/><stop offset="0.38" stop-color="#fcaa0f"/><stop offset="0.41" stop-color="#fb9b06"/><stop offset="0.44" stop-color="#f98e09"/><stop offset="0.52" stop-color="#e8602d"/><stop offset="0.62" stop-color="#ce4347"/><stop offset="0.67" stop-color="#c43c4e"/><stop offset="0.8" stop-color="#b73557"/><stop offset="1" stop-color="#b43359"/></linearGradient><linearGradient id="g133"><stop offset="0" stop-color="#a82e5f"/><stop offset="0.2" stop-color="#a82e5f"/><stop offset="0.24" stop-color="#b43359"/><stop offset="0.26" stop-color="#ca404a"/><stop offset="0.28" stop-color="#dd513a"/><stop offset="0.29" stop-color="#e65d2f"/><stop offset="0.3" stop-color="#f1731d"/><stop offset="0.31" stop-color="#f68013"/><stop offset="0.33" stop-color="#fa9008"/><stop offset="0.36" stop-color="#fb9b06"/><stop offset="0.4" stop-color="#f98e09"/><stop offset="0.47" stop-color="#f1711f"/><stop offset="0.52" stop-color="#e05536"/><stop offset="0.62" stop-color="#c43c4e"/><stop offset="0.79" stop-color="#ae305c"/><stop offset="1" stop-color="#a92e5e"/></linearGradient><linearGradient id="g134"><stop offset="0" stop-color="#9d2964"/><stop offset="0.21" stop-color="#9f2a63"/><stop offset="0.24" stop-color="#a92e5e"/><stop offset="0.26" stop-color="#bf3952"/><stop offset="0.28" stop-color="#d24644"/><stop offset="0.29" stop-color="#dd513a"/><stop offset="0.3" stop-color="#eb6429"/><stop offset="0.31" stop-color="#f1711f"/><stop offset="0.34" stop-color="#f78410"/><stop offset="0.36" stop-color="#f8890c"/><stop offset="0.38" stop-color="#f8870e"/><stop offset="0.45" stop-color="#ee6a24"/><stop offset="0.51" stop-color="#d94d3d"/><stop offset="0.61" stop-color="#bf3952"/><stop offset="0.69" stop-color="#ae305c"/><stop offset="0.8" stop-color="#a32c61"/><stop offset="1" stop-color="#a02a63"/></linearGradient><linearGradient id="g135"><stop offset="0" stop-color="#932667"/><stop offset="0.22" stop-color="#972766"/><stop offset="0.24" stop-color="#9f2a63"/><stop offset="0.28" stop-color="#c63d4d"/><stop offset="0.29" stop-color="#d24644"/><stop offset="0.3" stop-color="#e15635"/><stop offset="0.31" stop-color="#e9612b"/><stop offset="0.33" stop-color="#ef6e21"/><stop offset="0.36" stop-color="#f3761b"/><stop offset="0.39" stop-color="#f1731d"/><stop offset="0.44" stop-color="#e8602d"/><stop offset="0.51" stop-color="#ce4347"/><stop offset="0.61" stop-color="#b3325a"/><stop offset="0.67" stop-color="#a52c60"/><stop offset="0.78" stop-color="#9a2865"/><stop offset="1" stop-color="#952667"/></linearGradient><linearGradient id="g136"><stop offset="0" stop-color="#88226a"/><stop offset="0.22" stop-color="#8c2369"/><stop offset="0.24" stop-color="#922568"/><stop offset="0.28" stop-color="#b0315b"/><stop offset="0.29" stop-color="#c43c4e"/><stop offset="0.3" stop-color="#d54a41"/><stop offset="0.31" stop-color="#de5238"/><stop offset="0.35" stop-color="#eb6429"/><stop offset="0.39" stop-color="#e9612b"/><stop offset="0.43" stop-color="#e05536"/><stop offset="0.52" stop-color="#bf3952"/><stop offset="0.62" stop-color="#a22b62"/><stop offset="0.69" stop-color="#972766"/><stop offset="0.81" stop-color="#8d2369"/><stop offset="1" stop-color="#8a226a"/></linearGradient><linearGradient id="g137"><stop offset="0" stop-color="#7d1e6d"/><stop offset="0.17" stop-color="#7d1e6d"/><stop offset="0.21" stop-color="#7f1e6c"/><stop offset="0.24" stop-color="#85216b"/><stop offset="0.28" stop-color="#a92e5e"/><stop offset="0.31" stop-color="#d24644"/><stop offset="0.34" stop-color="#de5238"/><stop offset="0.36" stop-color="#e05536"/><stop offset="0.4" stop-color="#da4e3c"/><stop offset="0.45" stop-color="#ce4347"/><stop offset="0.53" stop-color="#ae305c"/><stop offset="0.61" stop-color="#972766"/><stop offset="0.68" stop-color="#8c2369"/><stop offset="0.8" stop-color="#82206c"/><stop offset="1" stop-color="#7f1e6c"/></linearGradient><linearGradient id="g138"><stop offset="0" stop-color="#721a6e"/><stop offset="0.17" stop-color="#721a6e"/><stop offset="0.24" stop-color="#781c6d"/><stop offset="0.28" stop-color="#9a2865"/><stop offset="0.3" stop-color="#b93556"/><stop offset="0.31" stop-color="#c33b4f"/><stop offset="0.33" stop-color="#cc4248"/><stop offset="0.36" stop-color="#d34743"/><stop offset="0.41" stop-color="#ca404a"/><stop offset="0.52" stop-color="#a22b62"/><stop offset="0.61" stop-color="#8c2369"/><stop offset="0.68" stop-color="#7f1e6c"/><stop offset="0.82" stop-color="#751b6e"/><stop offset="1" stop-color="#741a6e"/></linearGradient><linearGradient id="g139"><stop offset="0" stop-color="#67166e"/><stop offset="0.19" stop-color="#69166e"/><stop offset="0.24" stop-color="#6d186e"/><stop offset="0.28" stop-color="#8c2369"/><stop offset="0.31" stop-color="#b43359"/><stop offset="0.35" stop-color="#c43c4e"/><stop offset="0.4" stop-color="#bf3952"/><stop offset="0.46" stop-color="#ae305c"/><stop offset="0.51" stop-color="#972766"/><stop offset="0.65" stop-color="#771c6d"/><stop offset="0.8" stop-color="#6c186e"/><stop offset="1" stop-color="#6a176e"/></linearGradient><linearGradient id="g140"><stop offset="0" stop-color="#5d126e"/><stop offset="0.16" stop-color="#5d126e"/><stop offset="0.24" stop-color="#62146e"/><stop offset="0.28" stop-color="#7d1e6d"/><stop offset="0.3" stop-color="#9b2964"/><stop offset="0.31" stop-color="#a52c60"/><stop offset="0.33" stop-color="#b0315b"/><stop offset="0.36" stop-color="#b63458"/><stop offset="0.42" stop-color="#ab2f5e"/><stop offset="0.52" stop-color="#87216b"/><stop offset="0.66" stop-color="#6a176e"/><stop offset="0.81" stop-color="#61136e"/><stop offset="1" stop-color="#5f136e"/></linearGradient><linearGradient id="g141"><stop offset="0" stop-color="#520e6d"/><stop offset="0.16" stop-color="#520e6d"/><stop offset="0.25" stop-color="#59106e"/><stop offset="0.28" stop-color="#6f196e"/><stop offset="0.31" stop-color="#932667"/><stop offset="0.33" stop-color="#9f2a63"/><stop offset="0.36" stop-color="#a52c60"/><stop offset="0.42" stop-color="#9a2865"/><stop offset="0.51" stop-color="#7a1d6d"/><stop offset="0.65" stop-color="#5f136e"/><stop offset="0.8" stop-color="#550f6d"/><stop offset="1" stop-color="#540f6d"/></linearGradient><linearGradient id="g142"><stop offset="0" stop-color="#470b6a"/><stop offset="0.25" stop-color="#4c0c6b"/><stop offset="0.28" stop-color="#61136e"/><stop offset="0.31" stop-color="#84206b"/><stop offset="0.35" stop-color="#922568"/><stop offset="0.4" stop-color="#8d2369"/><stop offset="0.53" stop-color="#67166e"/><stop offset="0.65" stop-color="#520e6d"/><stop offset="0.79" stop-color="#4a0c6b"/><stop offset="1" stop-color="#490b6a"/></linearGradient><linearGradient id="g143"><stop offset="0" stop-color="#3b0964"/><stop offset="0.19" stop-color="#3d0965"/><stop offset="0.26" stop-color="#420a68"/><stop offset="0.28" stop-color="#4a0c6b"/><stop offset="0.29" stop-color="#5c126e"/><stop offset="0.3" stop-color="#6a176e"/><stop offset="0.32" stop-color="#781c6d"/><stop offset="0.35" stop-color="#801f6c"/><stop offset="0.41" stop-color="#7a1d6d"/><stop offset="0.53" stop-color="#59106e"/><stop offset="0.64" stop-color="#470b6a"/><stop offset="0.79" stop-color="#3e0966"/><stop offset="1" stop-color="#3d0965"/></linearGradient><linearGradient id="g144"><stop offset="0" stop-color="#310a5c"/><stop offset="0.25" stop-color="#320a5e"/><stop offset="0.27" stop-color="#380962"/><stop offset="0.28" stop-color="#440a68"/><stop offset="0.31" stop-color="#62146e"/><stop offset="0.33" stop-color="#6c186e"/><stop offset="0.36" stop-color="#71196e"/><stop offset="0.41" stop-color="#6a176e"/><stop offset="0.49" stop-color="#57106e"/><stop offset="0.5" stop-color="#510e6c"/><stop offset="0.65" stop-color="#390963"/><stop offset="0.8" stop-color="#320a5e"/><stop offset="1" stop-color="#320a5e"/></linearGradient><linearGradient id="g145"><stop offset="0" stop-color="#260c51"/><stop offset="0.25" stop-color="#280b53"/><stop offset="0.28" stop-color="#2f0a5b"/><stop offset="0.3" stop-color="#4c0c6b"/><stop offset="0.32" stop-color="#59106e"/><stop offset="0.35" stop-color="#5f136e"/><stop offset="0.39" stop-color="#5f136e"/><stop offset="0.5" stop-color="#450a69"/><stop offset="0.65" stop-color="#2d0b59"/><stop offset="1" stop-color="#260c51"/></linearGradient><linearGradient id="g146"><stop offset="0" stop-color="#1c0c43"/><stop offset="0.26" stop-color="#1e0c45"/><stop offset="0.28" stop-color="#230c4c"/><stop offset="0.3" stop-color="#3d0965"/><stop offset="0.31" stop-color="#450a69"/><stop offset="0.36" stop-color="#510e6c"/><stop offset="0.46" stop-color="#420a68"/><stop offset="0.55" stop-color="#2d0b59"/><stop offset="0.64" stop-color="#230c4c"/><stop offset="0.77" stop-color="#1e0c45"/><stop offset="1" stop-color="#1c0c43"/></linearGradient><linearGradient id="g147"><stop offset="0" stop-color="#150b37"/><stop offset="0.26" stop-color="#150b37"/><stop offset="0.28" stop-color="#1e0c45"/><stop offset="0.3" stop-color="#310a5c"/><stop offset="0.32" stop-color="#3b0964"/><stop offset="0.36" stop-color="#420a68"/><stop offset="0.45" stop-color="#360961"/><stop offset="0.52" stop-color="#240c4f"/><stop offset="0.63" stop-color="#190c3e"/><stop offset="0.8" stop-color="#150b37"/><stop offset="1" stop-color="#150b37"/></linearGradient><linearGradient id="g148"><stop offset="0" stop-color="#0e092b"/><stop offset="0.26" stop-color="#0e092b"/><stop offset="0.28" stop-color="#150b37"/><stop offset="0.31" stop-color="#290b55"/><stop offset="0.35" stop-color="#320a5e"/><stop offset="0.41" stop-color="#2f0a5b"/><stop offset="0.54" stop-color="#180c3c"/><stop offset="0.64" stop-color="#110a30"/><stop offset="1" stop-color="#0e092b"/></linearGradient><linearGradient id="g149"><stop offset="0" stop-color="#09061f"/><stop offset="0.27" stop-color="#0a0722"/><stop offset="0.28" stop-color="#0e092b"/><stop offset="0.31" stop-color="#1e0c45"/><stop offset="0.36" stop-color="#260c51"/><stop offset="0.42" stop-color="#210c4a"/><stop offset="0.51" stop-color="#120a32"/><stop offset="0.61" stop-color="#0c0826"/><stop offset="1" stop-color="#09061f"/></linearGradient><linearGradient id="g150"><stop offset="0" stop-color="#050417"/><stop offset="0.27" stop-color="#060419"/><stop offset="0.32" stop-color="#160b39"/><stop offset="0.36" stop-color="#1b0c41"/><stop offset="0.4" stop-color="#190c3e"/><stop offset="0.52" stop-color="#0b0724"/><stop offset="0.59" stop-color="#08051d"/><stop offset="1" stop-color="#050417"/></linearGradient><linearGradient id="g151"><stop offset="0" stop-color="#030210"/><stop offset="0.27" stop-color="#040312"/><stop offset="0.31" stop-color="#0d0829"/><stop offset="0.35" stop-color="#120a32"/><stop offset="0.39" stop-color="#120a32"/><stop offset="0.51" stop-color="#07051b"/><stop offset="0.62" stop-color="#040312"/><stop offset="1" stop-color="#030210"/></linearGradient><linearGradient id="g152"><stop offset="0" stop-color="#02010a"/><stop offset="0.26" stop-color="#02020c"/><stop offset="0.28" stop-color="#040312"/><stop offset="0.31" stop-color="#09061f"/><stop offset="0.35" stop-color="#0c0826"/><stop offset="0.41" stop-color="#0b0724"/><stop offset="0.49" stop-color="#050417"/><stop offset="0.61" stop-color="#02020c"/><stop offset="1" stop-color="#02010a"/></linearGradient><linearGradient id="g153"><stop offset="0" stop-color="#010106"/><stop offset="0.25" stop-color="#010108"/><stop offset="0.35" stop-color="#08051d"/><stop offset="0.39" stop-color="#08051d"/><stop offset="0.51" stop-color="#02020c"/><stop offset="0.58" stop-color="#010108"/><stop offset="1" stop-color="#010106"/></linearGradient><linearGradient id="g154"><stop offset="0" stop-color="#010005"/><stop offset="0.25" stop-color="#010106"/><stop offset="0.36" stop-color="#050417"/><stop offset="0.42" stop-color="#040314"/><stop offset="0.51" stop-color="#010108"/><stop offset="0.58" stop-color="#010005"/><stop offset="1" stop-color="#010005"/></linearGradient><linearGradient id="g155"><stop offset="0" stop-color="#000004"/><stop offset="0.24" stop-color="#010005"/><stop offset="0.36" stop-color="#040312"/><stop offset="0.4" stop-color="#040312"/><stop offset="0.5" stop-color="#010106"/><stop offset="0.57" stop-color="#000004"/><stop offset="1" stop-color="#000004"/></linearGradient><linearGradient id="g156"><stop offset="0" stop-color="#000004"/><stop offset="0.25" stop-color="#010005"/><stop offset="0.36" stop-color="#030210"/><stop offset="0.56" stop-color="#000004"/><stop offset="1" stop-color="#000004"/></linearGradient><linearGradient id="cb157" x1="0" y1="0" x2="0" y2="1"><stop offset="0" stop-color="#fcffa4"/><stop offset="0.03" stop-color="#f3f586"/><stop offset="0.06" stop-color="#f2e865"/><stop offset="0.09" stop-color="#f5d949"/><stop offset="0.12" stop-color="#f9c932"/><stop offset="0.16" stop-color="#fbba1f"/><stop offset="0.19" stop-color="#fcaa0f"/><stop offset="0.22" stop-color="#fb9b06"/><stop offset="0.25" stop-color="#f98c0a"/><stop offset="0.28" stop-color="#f67e14"/><stop offset="0.31" stop-color="#f1711f"/><stop offset="0.34" stop-color="#eb6429"/><stop offset="0.38" stop-color="#e35933"/><stop offset="0.41" stop-color="#da4e3c"/><stop offset="0.44" stop-color="#d04545"/><stop offset="0.47" stop-color="#c63d4d"/><stop offset="0.5" stop-color="#ba3655"/><stop offset="0.53" stop-color="#ae305c"/><stop offset="0.56" stop-color="#a22b62"/><stop offset="0.59" stop-color="#952667"/><stop offset="0.62" stop-color="#88226a"/><stop offset="0.66" stop-color="#7c1d6d"/><stop offset="0.69" stop-color="#6f196e"/><stop offset="0.72" stop-color="#62146e"/><stop offset="0.75" stop-color="#550f6d"/><stop offset="0.78" stop-color="#490b6a"/><stop offset="0.81" stop-color="#3b0964"/><stop offset="0.84" stop-color="#2d0b59"/><stop offset="0.88" stop-color="#1f0c48"/><stop offset="0.91" stop-color="#140b34"/><stop offset="0.94" stop-color="#0a0722"/><stop offset="0.97" stop-color="#030210"/><stop offset="1" stop-color="#000004"/></linearGradient></defs><rect width="1575" height="967" fill="#fff"/><g shape-rendering="crispEdges">
<rect x="98.2" y="41" width="348.8" height="4" fill="url(#g1)"/>
<rect x="98.2" y="45" width="348.8" height="4" fill="url(#g2)"/>
<rect x="98.2" y="49" width="348.8" height="4" fill="url(#g3)"/>
<rect x="98.2" y="53" width="348.8" height="4" fill="url(#g4)"/>
<rect x="98.2" y="57" width="348.8" height="4" fill="url(#g5)"/>
<rect x="98.2" y="61" width="348.8" height="4" fill="url(#g6)"/>
<rect x="98.2" y="65" width="348.8" height="4" fill="url(#g7)"/>
<rect x="98.2" y="69" width="348.8" height="4" fill="url(#g8)"/>
<rect x="98.2" y="73" width="348.8" height="4" fill="url(#g9)"/>
<rect x="98.2" y="77" width="348.8" height="4" fill="url(#g10)"/>
<rect x="98.2" y="81" width="348.8" height="4" fill="url(#g11)"/>
<rect x="98.2" y="85" width="348.8" height="4" fill="url(#g12)"/>
<rect x="98.2" y="89" width="348.8" height="4" fill="url(#g13)"/>
<rect x="98.2" y="93" width="348.8" height="4" fill="url(#g14)"/>
<rect x="98.2" y="97" width="348.8" height="4" fill="url(#g15)"/>
<rect x="98.2" y="101" width="348.8" height="4" fill="url(#g16)"/>
<rect x="98.2" y="105" width="348.8" height="4" fill="url(#g17)"/>
<rect x="98.2" y="109" width="348.8" height="4" fill="url(#g18)"/>
<rect x="98.2" y="113" width="348.8" height="4" fill="url(#g19)"/>
<rect x="98.2" y="117" width="348.8" height="4" fill="url(#g20)"/>
<rect x="98.2" y="121" width="348.8" height="4" fill="url(#g21)"/>
<rect x="98.2" y="125" width="348.8" height="4" fill="url(#g22)"/>
<rect x="98.2" y="129" width="348.8" height="4" fill="url(#g23)"/>
<rect x="98.2" y="133" width="348.8" height="4" fill="url(#g24)"/>
<rect x="98.2" y="137" width="348.8" height="4" fill="url(#g25)"/>
<rect x="98.2" y="141" width="348.8" height="4" fill="url(#g26)"/>
<rect x="98.2" y="145" width="348.8" height="4" fill="url(#g27)"/>
<rect x="98.2" y="149" width="348.8" height="4" fill="url(#g28)"/>
<rect x="98.2" y="153" width="348.8" height="4" fill="url(#g29)"/>
<rect x="98.2" y="157" width="348.8" height="4" fill="url(#g30)"/>
<rect x="98.2" y="161" width="348.8" height="4" fill="url(#g31)"/>
<rect x="98.2" y="165" width="348.8" height="4" fill="url(#g32)"/>
<rect x="98.2" y="169" width="348.8" height="4" fill="url(#g33)"/>
<rect x="98.2" y="173" width="348.8" height="4" fill="url(#g34)"/>
<rect x="98.2" y="177" width="348.8" height="4" fill="url(#g35)"/>
<rect x="98.2" y="181" width="348.8" height="4" fill="url(#g36)"/>
<rect x="98.2" y="185" width="348.8" height="4" fill="url(#g37)"/>
<rect x="98.2" y="189" width="348.8" height="4" fill="url(#g38)"/>
<rect x="98.2" y="193" width="348.8" height="4" fill="url(#g39)"/>
<rect x="98.2" y="197" width="348.8" height="4" fill="url(#g40)"/>
<rect x="98.2" y="201" width="348.8" height="4" fill="url(#g41)"/>
<rect x="98.2" y="205" width="348.8" height="4" fill="url(#g42)"/>
<rect x="98.2" y="209" width="348.8" height="4" fill="url(#g43)"/>
<rect x="98.2" y="213" width="348.8" height="4" fill="url(#g44)"/>
<rect x="98.2" y="217" width="348.8" height="4" fill="url(#g45)"/>
<rect x="98.2" y="221" width="348.8" height="4" fill="url(#g46)"/>
<rect x="98.2" y="225" width="348.8" height="4" fill="url(#g47)"/>
<rect x="98.2" y="229" width="348.8" height="4" fill="url(#g48)"/>
<rect x="98.2" y="233" width="348.8" height="4" fill="url(#g49)"/>
<rect x="98.2" y="237" width="348.8" height="4" fill="url(#g50)"/>
<rect x="98.2" y="241" width="348.8" height="4" fill="url(#g51)"/>
<rect x="98.2" y="245" width="348.8" height="4" fill="url(#g52)"/>
<rect x="98.2" y="249" width="348.8" height="4" fill="url(#g53)"/>
<rect x="98.2" y="253" width="348.8" height="4" fill="url(#g54)"/>
<rect x="98.2" y="257" width="348.8" height="4" fill="url(#g55)"/>
<rect x="98.2" y="261" width="348.8" height="4" fill="url(#g56)"/>
<rect x="98.2" y="265" width="348.8" height="4" fill="url(#g57)"/>
<rect x="98.2" y="269" width="348.8" height="4" fill="url(#g58)"/>
<rect x="98.2" y="273" width="348.8" height="4" fill="url(#g59)"/>
<rect x="98.2" y="277" width="348.8" height="4" fill="url(#g60)"/>
<rect x="98.2" y="281" width="348.8" height="4" fill="url(#g61)"/>
<rect x="98.2" y="285" width="348.8" height="4" fill="url(#g62)"/>
<rect x="98.2" y="289" width="348.8" height="4" fill="url(#g63)"/>
<rect x="98.2" y="293" width="348.8" height="4" fill="url(#g64)"/>
<rect x="98.2" y="297" width="348.8" height="4" fill="url(#g65)"/>
<rect x="98.2" y="301" width="348.8" height="4" fill="url(#g66)"/>
<rect x="98.2" y="305" width="348.8" height="4" fill="url(#g67)"/>
<rect x="98.2" y="309" width="348.8" height="4" fill="url(#g68)"/>
<rect x="98.2" y="313" width="348.8" height="4" fill="url(#g69)"/>
<rect x="98.2" y="317" width="348.8" height="4" fill="url(#g70)"/>
<rect x="98.2" y="321" width="348.8" height="4" fill="url(#g71)"/>
<rect x="98.2" y="325" width="348.8" height="4" fill="url(#g72)"/>
<rect x="98.2" y="329" width="348.8" height="4" fill="url(#g73)"/>
<rect x="98.2" y="333" width="348.8" height="4" fill="url(#g74)"/>
<rect x="98.2" y="337" width="348.8" height="4" fill="url(#g75)"/>
<rect x="98.2" y="341" width="348.8" height="4" fill="url(#g76)"/>
<rect x="98.2" y="345" width="348.8" height="4" fill="url(#g77)"/>
<rect x="98.2" y="349" width="348.8" height="4" fill="url(#g78)"/>
<rect x="98.2" y="353" width="348.8" height="4" fill="url(#g79)"/>
<rect x="98.2" y="357" width="348.8" height="4" fill="url(#g80)"/>
<rect x="98.2" y="361" width="348.8" height="4" fill="url(#g81)"/>
<rect x="98.2" y="365" width="348.8" height="4" fill="url(#g82)"/>
<rect x="98.2" y="369" width="348.8" height="4" fill="url(#g83)"/>
<rect x="98.2" y="373" width="348.8" height="4" fill="url(#g84)"/>
<rect x="98.2" y="377" width="348.8" height="4" fill="url(#g85)"/>
<rect x="98.2" y="381" width="348.8" height="4" fill="url(#g86)"/>
</g>
<rect x="447" y="41.2" width="16" height="343.6" fill="url(#cb87)"/>
<rect x="447" y="41.2" width="16" height="343.6" fill="none" stroke="#000" stroke-width="1.6"/>
<line x1="98.2" y1="41.2" x2="98.2" y2="385.6" stroke="#000" stroke-width="2"/>
<line x1="97.4" y1="384.8" x2="447" y2="384.8" stroke="#000" stroke-width="1.6"/>
<line x1="98.2" y1="41.2" x2="447" y2="41.2" stroke="#000" stroke-width="1.4"/>
<line x1="89.7" y1="296.9" x2="98.2" y2="296.9" stroke="#333" stroke-width="1.5"/>
<text x="76.8" y="304.5" font-size="23" text-anchor="end" textLength="14.8" lengthAdjust="spacingAndGlyphs">0</text>
<line x1="89.7" y1="202.75" x2="98.2" y2="202.75" stroke="#333" stroke-width="1.5"/>
<text x="76.8" y="210.35" font-size="23" text-anchor="end" textLength="28" lengthAdjust="spacingAndGlyphs">50</text>
<line x1="89.7" y1="108.6" x2="98.2" y2="108.6" stroke="#333" stroke-width="1.5"/>
<text x="76.8" y="116.2" font-size="23" text-anchor="end" textLength="39.2" lengthAdjust="spacingAndGlyphs">100</text>
<line x1="214.8" y1="384.8" x2="214.8" y2="394.8" stroke="#333" stroke-width="1.5"/>
<text x="214.8" y="424" font-size="23" text-anchor="middle" textLength="14.8" lengthAdjust="spacingAndGlyphs">0</text>
<line x1="348" y1="384.8" x2="348" y2="394.8" stroke="#333" stroke-width="1.5"/>
<text x="348" y="424" font-size="23" text-anchor="middle" textLength="43.4" lengthAdjust="spacingAndGlyphs">500</text>
<line x1="463" y1="384.7" x2="471.5" y2="384.7" stroke="#333" stroke-width="1.5"/>
<text x="483.6" y="392.9" font-size="23" textLength="16.8" lengthAdjust="spacingAndGlyphs">0</text>
<line x1="463" y1="333.07" x2="471.5" y2="333.07" stroke="#333" stroke-width="1.5"/>
<text x="483.6" y="341.27" font-size="23" textLength="48.7" lengthAdjust="spacingAndGlyphs">0.25</text>
<line x1="463" y1="281.45" x2="471.5" y2="281.45" stroke="#333" stroke-width="1.5"/>
<text x="483.6" y="289.65" font-size="23" textLength="50.9" lengthAdjust="spacingAndGlyphs">0.50</text>
<line x1="463" y1="229.82" x2="471.5" y2="229.82" stroke="#333" stroke-width="1.5"/>
<text x="483.6" y="238.02" font-size="23" textLength="48.5" lengthAdjust="spacingAndGlyphs">0.75</text>
<line x1="463" y1="178.2" x2="471.5" y2="178.2" stroke="#333" stroke-width="1.5"/>
<text x="483.6" y="186.4" font-size="23" textLength="46.7" lengthAdjust="spacingAndGlyphs">1.00</text>
<line x1="463" y1="126.57" x2="471.5" y2="126.57" stroke="#333" stroke-width="1.5"/>
<text x="483.6" y="134.77" font-size="23" textLength="42.3" lengthAdjust="spacingAndGlyphs">1.25</text>
<line x1="463" y1="74.95" x2="471.5" y2="74.95" stroke="#333" stroke-width="1.5"/>
<text x="483.6" y="83.15" font-size="23" textLength="44.5" lengthAdjust="spacingAndGlyphs">1.50</text>
<text x="245.2" y="462.5" font-size="28.5" textLength="58.5" lengthAdjust="spacingAndGlyphs"><tspan font-style="italic">τ</tspan> (fs)</text>
<text x="31.6" y="206.4" font-size="28.5" text-anchor="middle" textLength="50" lengthAdjust="spacingAndGlyphs" transform="rotate(-90 31.6 206.4)"><tspan font-style="italic">θ</tspan> (°)</text>
<text x="169.6" y="21.1" font-size="25.5" textLength="169.5" lengthAdjust="spacingAndGlyphs"><tspan font-style="italic">I</tspan><tspan font-size="17" dy="7.2">exp</tspan><tspan dy="-7.2">(</tspan><tspan font-style="italic">τ</tspan>, <tspan font-style="italic">θ</tspan>) (a.u.)</text>
<line x1="276" y1="41" x2="446" y2="41" stroke="#d8d8d8" stroke-width="1"/>
<rect x="339.4" y="49.5" width="100.8" height="94.5" fill="#fff" stroke="#2b4450" stroke-width="1.3"/>
<line x1="357" y1="94.5" x2="427" y2="94.5" stroke="#c8363f" stroke-width="2"/>
<path d="M350.8 94.5 L363 89.2 L360.5 94.5 L363 99.8Z" fill="#c8363f"/>
<path d="M433 94.5 L420.8 89.2 L423.3 94.5 L420.8 99.8Z" fill="#c8363f"/>
<line x1="372.5" y1="117.5" x2="410.5" y2="72" stroke="#fbc75b" stroke-width="2.2"/>
<path d="M414.7 67.4 L411.3 79.6 L408.9 74.24 L403.22 72.74Z" fill="#fbc75b"/>
<path d="M368.3 122.1 L371.7 109.9 L374.1 115.26 L379.78 116.76Z" fill="#fbc75b"/>
<text x="399.6" y="138.6" font-size="21.5" textLength="35.5" lengthAdjust="spacingAndGlyphs" fill="#f6b42c">45°</text>
<g shape-rendering="crispEdges">
<rect x="99.3" y="539" width="347.5" height="5" fill="url(#g88)"/>
<rect x="99.3" y="544" width="347.5" height="5" fill="url(#g89)"/>
<rect x="99.3" y="549" width="347.5" height="5" fill="url(#g90)"/>
<rect x="99.3" y="554" width="347.5" height="5" fill="url(#g91)"/>
<rect x="99.3" y="559" width="347.5" height="5" fill="url(#g92)"/>
<rect x="99.3" y="564" width="347.5" height="5" fill="url(#g93)"/>
<rect x="99.3" y="569" width="347.5" height="5" fill="url(#g94)"/>
<rect x="99.3" y="574" width="347.5" height="5" fill="url(#g95)"/>
<rect x="99.3" y="579" width="347.5" height="5" fill="url(#g96)"/>
<rect x="99.3" y="584" width="347.5" height="5" fill="url(#g97)"/>
<rect x="99.3" y="589" width="347.5" height="5" fill="url(#g98)"/>
<rect x="99.3" y="594" width="347.5" height="5" fill="url(#g99)"/>
<rect x="99.3" y="599" width="347.5" height="5" fill="url(#g100)"/>
<rect x="99.3" y="604" width="347.5" height="5" fill="url(#g101)"/>
<rect x="99.3" y="609" width="347.5" height="5" fill="url(#g102)"/>
<rect x="99.3" y="614" width="347.5" height="5" fill="url(#g103)"/>
<rect x="99.3" y="619" width="347.5" height="5" fill="url(#g104)"/>
<rect x="99.3" y="624" width="347.5" height="4" fill="url(#g105)"/>
<rect x="99.3" y="628" width="347.5" height="5" fill="url(#g106)"/>
<rect x="99.3" y="633" width="347.5" height="5" fill="url(#g107)"/>
<rect x="99.3" y="638" width="347.5" height="5" fill="url(#g108)"/>
<rect x="99.3" y="643" width="347.5" height="5" fill="url(#g109)"/>
<rect x="99.3" y="648" width="347.5" height="5" fill="url(#g110)"/>
<rect x="99.3" y="653" width="347.5" height="5" fill="url(#g111)"/>
<rect x="99.3" y="658" width="347.5" height="5" fill="url(#g112)"/>
<rect x="99.3" y="663" width="347.5" height="5" fill="url(#g113)"/>
<rect x="99.3" y="668" width="347.5" height="5" fill="url(#g114)"/>
<rect x="99.3" y="673" width="347.5" height="5" fill="url(#g115)"/>
<rect x="99.3" y="678" width="347.5" height="5" fill="url(#g116)"/>
<rect x="99.3" y="683" width="347.5" height="5" fill="url(#g117)"/>
<rect x="99.3" y="688" width="347.5" height="5" fill="url(#g118)"/>
<rect x="99.3" y="693" width="347.5" height="5" fill="url(#g119)"/>
<rect x="99.3" y="698" width="347.5" height="5" fill="url(#g120)"/>
<rect x="99.3" y="703" width="347.5" height="5" fill="url(#g121)"/>
<rect x="99.3" y="708" width="347.5" height="5" fill="url(#g122)"/>
<rect x="99.3" y="713" width="347.5" height="5" fill="url(#g123)"/>
<rect x="99.3" y="718" width="347.5" height="5" fill="url(#g124)"/>
<rect x="99.3" y="723" width="347.5" height="5" fill="url(#g125)"/>
<rect x="99.3" y="728" width="347.5" height="5" fill="url(#g126)"/>
<rect x="99.3" y="733" width="347.5" height="5" fill="url(#g127)"/>
<rect x="99.3" y="738" width="347.5" height="5" fill="url(#g128)"/>
<rect x="99.3" y="743" width="347.5" height="5" fill="url(#g129)"/>
<rect x="99.3" y="748" width="347.5" height="5" fill="url(#g130)"/>
<rect x="99.3" y="753" width="347.5" height="5" fill="url(#g131)"/>
<rect x="99.3" y="758" width="347.5" height="5" fill="url(#g132)"/>
<rect x="99.3" y="763" width="347.5" height="5" fill="url(#g133)"/>
<rect x="99.3" y="768" width="347.5" height="5" fill="url(#g134)"/>
<rect x="99.3" y="773" width="347.5" height="5" fill="url(#g135)"/>
<rect x="99.3" y="778" width="347.5" height="5" fill="url(#g136)"/>
<rect x="99.3" y="783" width="347.5" height="5" fill="url(#g137)"/>
<rect x="99.3" y="788" width="347.5" height="5" fill="url(#g138)"/>
<rect x="99.3" y="793" width="347.5" height="4" fill="url(#g139)"/>
<rect x="99.3" y="797" width="347.5" height="5" fill="url(#g140)"/>
<rect x="99.3" y="802" width="347.5" height="5" fill="url(#g141)"/>
<rect x="99.3" y="807" width="347.5" height="5" fill="url(#g142)"/>
<rect x="99.3" y="812" width="347.5" height="5" fill="url(#g143)"/>
<rect x="99.3" y="817" width="347.5" height="5" fill="url(#g144)"/>
<rect x="99.3" y="822" width="347.5" height="5" fill="url(#g145)"/>
<rect x="99.3" y="827" width="347.5" height="5" fill="url(#g146)"/>
<rect x="99.3" y="832" width="347.5" height="5" fill="url(#g147)"/>
<rect x="99.3" y="837" width="347.5" height="5" fill="url(#g148)"/>
<rect x="99.3" y="842" width="347.5" height="5" fill="url(#g149)"/>
<rect x="99.3" y="847" width="347.5" height="5" fill="url(#g150)"/>
<rect x="99.3" y="852" width="347.5" height="5" fill="url(#g151)"/>
<rect x="99.3" y="857" width="347.5" height="5" fill="url(#g152)"/>
<rect x="99.3" y="862" width="347.5" height="5" fill="url(#g153)"/>
<rect x="99.3" y="867" width="347.5" height="5" fill="url(#g154)"/>
<rect x="99.3" y="872" width="347.5" height="5" fill="url(#g155)"/>
<rect x="99.3" y="877" width="347.5" height="5" fill="url(#g156)"/>
</g>
<rect x="446.8" y="539" width="16" height="343.5" fill="url(#cb157)"/>
<rect x="446.8" y="539" width="16" height="343.5" fill="none" stroke="#000" stroke-width="1.6"/>
<line x1="99.3" y1="539" x2="99.3" y2="883.3" stroke="#000" stroke-width="2"/>
<line x1="98.5" y1="882.5" x2="446.8" y2="882.5" stroke="#000" stroke-width="1.6"/>
<line x1="99.3" y1="539" x2="446.8" y2="539" stroke="#000" stroke-width="1.4"/>
<line x1="90.8" y1="793.6" x2="99.3" y2="793.6" stroke="#333" stroke-width="1.5"/>
<text x="76.8" y="801.2" font-size="23" text-anchor="end" textLength="14.8" lengthAdjust="spacingAndGlyphs">0</text>
<line x1="90.8" y1="699.4" x2="99.3" y2="699.4" stroke="#333" stroke-width="1.5"/>
<text x="76.8" y="707" font-size="23" text-anchor="end" textLength="28" lengthAdjust="spacingAndGlyphs">50</text>
<line x1="90.8" y1="605.2" x2="99.3" y2="605.2" stroke="#333" stroke-width="1.5"/>
<text x="76.8" y="612.8" font-size="23" text-anchor="end" textLength="39.2" lengthAdjust="spacingAndGlyphs">100</text>
<line x1="214.9" y1="882.5" x2="214.9" y2="892.5" stroke="#333" stroke-width="1.5"/>
<text x="214.9" y="920.2" font-size="23" text-anchor="middle" textLength="14.8" lengthAdjust="spacingAndGlyphs">0</text>
<line x1="348.1" y1="882.5" x2="348.1" y2="892.5" stroke="#333" stroke-width="1.5"/>
<text x="348.1" y="920.2" font-size="23" text-anchor="middle" textLength="43.4" lengthAdjust="spacingAndGlyphs">500</text>
<line x1="462.8" y1="880.9" x2="471.3" y2="880.9" stroke="#333" stroke-width="1.5"/>
<text x="483.6" y="889.1" font-size="23" textLength="16.8" lengthAdjust="spacingAndGlyphs">0</text>
<line x1="462.8" y1="826.45" x2="471.3" y2="826.45" stroke="#333" stroke-width="1.5"/>
<text x="483.6" y="834.65" font-size="23" textLength="48.7" lengthAdjust="spacingAndGlyphs">0.25</text>
<line x1="462.8" y1="772" x2="471.3" y2="772" stroke="#333" stroke-width="1.5"/>
<text x="483.6" y="780.2" font-size="23" textLength="50.9" lengthAdjust="spacingAndGlyphs">0.50</text>
<line x1="462.8" y1="717.55" x2="471.3" y2="717.55" stroke="#333" stroke-width="1.5"/>
<text x="483.6" y="725.75" font-size="23" textLength="48.5" lengthAdjust="spacingAndGlyphs">0.75</text>
<line x1="462.8" y1="663.1" x2="471.3" y2="663.1" stroke="#333" stroke-width="1.5"/>
<text x="483.6" y="671.3" font-size="23" textLength="46.7" lengthAdjust="spacingAndGlyphs">1.00</text>
<line x1="462.8" y1="608.65" x2="471.3" y2="608.65" stroke="#333" stroke-width="1.5"/>
<text x="483.6" y="616.85" font-size="23" textLength="42.3" lengthAdjust="spacingAndGlyphs">1.25</text>
<line x1="462.8" y1="554.2" x2="471.3" y2="554.2" stroke="#333" stroke-width="1.5"/>
<text x="483.6" y="562.4" font-size="23" textLength="44.5" lengthAdjust="spacingAndGlyphs">1.50</text>
<text x="254.2" y="962" font-size="28.5" textLength="60" lengthAdjust="spacingAndGlyphs"><tspan font-style="italic">τ</tspan> (fs)</text>
<text x="22.4" y="712.6" font-size="28.5" text-anchor="middle" textLength="50" lengthAdjust="spacingAndGlyphs" transform="rotate(-90 22.4 712.6)"><tspan font-style="italic">θ</tspan> (°)</text>
<text x="158.1" y="509.6" font-size="25.5" textLength="192.6" lengthAdjust="spacingAndGlyphs"><tspan font-style="italic">I</tspan><tspan font-size="17" dy="8">theory</tspan><tspan dy="-8">(</tspan><tspan font-style="italic">τ</tspan>, <tspan font-style="italic">θ</tspan>) (a.u.)</text>
<rect x="685.1" y="42.1" width="364.9" height="343" fill="none" stroke="#000" stroke-width="1.9"/>
<line x1="675.6" y1="335.9" x2="685.1" y2="335.9" stroke="#333" stroke-width="1.5"/>
<text x="661.6" y="343.5" font-size="23" text-anchor="end" textLength="46.7" lengthAdjust="spacingAndGlyphs">0.55</text>
<line x1="675.6" y1="269.6" x2="685.1" y2="269.6" stroke="#333" stroke-width="1.5"/>
<text x="661.6" y="277.2" font-size="23" text-anchor="end" textLength="49.1" lengthAdjust="spacingAndGlyphs">0.60</text>
<line x1="675.6" y1="203.3" x2="685.1" y2="203.3" stroke="#333" stroke-width="1.5"/>
<text x="661.6" y="210.9" font-size="23" text-anchor="end" textLength="46.9" lengthAdjust="spacingAndGlyphs">0.65</text>
<line x1="675.6" y1="137" x2="685.1" y2="137" stroke="#333" stroke-width="1.5"/>
<text x="661.6" y="144.6" font-size="23" text-anchor="end" textLength="48.7" lengthAdjust="spacingAndGlyphs">0.70</text>
<line x1="675.6" y1="70.7" x2="685.1" y2="70.7" stroke="#333" stroke-width="1.5"/>
<text x="661.6" y="78.3" font-size="23" text-anchor="end" textLength="46.5" lengthAdjust="spacingAndGlyphs">0.75</text>
<line x1="811.6" y1="385.1" x2="811.6" y2="395" stroke="#333" stroke-width="1.5"/>
<text x="811.6" y="424" font-size="23" text-anchor="middle" textLength="14.8" lengthAdjust="spacingAndGlyphs">0</text>
<line x1="939.2" y1="385.1" x2="939.2" y2="395" stroke="#333" stroke-width="1.5"/>
<text x="939.2" y="424" font-size="23" text-anchor="middle" textLength="43.4" lengthAdjust="spacingAndGlyphs">500</text>
<path d="M699 369.6 L703.11 369.6 L703.68 369.6 L704.29 369.6 L704.94 369.6 L705.63 369.6 L706.36 369.6 L707.12 369.59 L707.92 369.59 L708.75 369.59 L709.6 369.59 L710.48 369.59 L711.38 369.59 L712.3 369.59 L713.23 369.59 L714.18 369.59 L715.14 369.58 L716.1 369.58 L717.08 369.58 L718.06 369.58 L719.04 369.58 L720.03 369.57 L721.02 369.57 L722.01 369.57 L723.01 369.57 L724.01 369.56 L725 369.56 L726 369.56 L727 369.55 L728 369.55 L729 369.54 L730 369.54 L731 369.53 L732 369.53 L733 369.52 L734 369.51 L735 369.51 L736 369.5 L737 369.48 L737.99 369.47 L738.99 369.45 L739.99 369.43 L740.99 369.41 L741.98 369.38 L742.98 369.35 L743.97 369.31 L744.96 369.26 L745.94 369.2 L746.93 369.13 L747.91 369.05 L748.88 368.95 L749.85 368.84 L750.82 368.71 L751.77 368.56 L752.72 368.38 L753.66 368.18 L754.59 367.96 L755.5 367.71 L756.41 367.43 L757.3 367.13 L758.17 366.79 L759.03 366.41 L759.87 366.01 L760.7 365.57 L761.5 365.1 L762.29 364.6 L763.05 364.07 L763.8 363.5 L764.53 362.91 L765.23 362.29 L765.92 361.63 L766.59 360.96 L767.23 360.26 L767.86 359.53 L768.46 358.79 L769.05 358.02 L769.61 357.24 L770.16 356.44 L770.69 355.62 L771.21 354.79 L771.7 353.95 L772.18 353.09 L772.64 352.22 L773.09 351.35 L773.53 350.46 L773.94 349.57 L774.35 348.66 L774.74 347.76 L775.12 346.84 L775.48 345.92 L775.83 344.99 L776.17 344.06 L776.5 343.12 L776.82 342.18 L777.13 341.23 L777.44 340.28 L777.73 339.33 L778.01 338.38 L778.28 337.42 L778.55 336.46 L778.81 335.5 L779.07 334.53 L779.31 333.56 L779.56 332.59 L779.79 331.62 L780.02 330.65 L780.25 329.68 L780.47 328.71 L780.68 327.73 L780.9 326.75 L781.11 325.78 L781.31 324.8 L781.51 323.82 L781.71 322.84 L781.9 321.86 L782.09 320.88 L782.28 319.9 L782.46 318.91 L782.64 317.93 L782.82 316.95 L782.99 315.96 L783.16 314.98 L783.33 313.99 L783.5 313.01 L783.66 312.02 L783.82 311.03 L783.97 310.05 L784.13 309.06 L784.28 308.07 L784.43 307.08 L784.57 306.09 L784.71 305.1 L784.85 304.11 L784.99 303.12 L785.13 302.13 L785.26 301.14 L785.4 300.15 L785.53 299.16 L785.65 298.17 L785.78 297.18 L785.91 296.18 L786.03 295.19 L786.15 294.2 L786.28 293.21 L786.4 292.21 L786.52 291.22 L786.63 290.23 L786.75 289.23 L786.87 288.24 L786.99 287.25 L787.1 286.26 L787.22 285.26 L787.33 284.27 L787.44 283.27 L787.56 282.28 L787.67 281.29 L787.78 280.29 L787.89 279.3 L788.01 278.31 L788.12 277.31 L788.23 276.32 L788.34 275.32 L788.45 274.33 L788.56 273.34 L788.66 272.34 L788.77 271.35 L788.88 270.35 L788.99 269.36 L789.1 268.37 L789.2 267.37 L789.31 266.38 L789.41 265.38 L789.52 264.39 L789.62 263.39 L789.73 262.4 L789.83 261.4 L789.93 260.41 L790.03 259.42 L790.13 258.42 L790.24 257.43 L790.34 256.43 L790.44 255.44 L790.54 254.44 L790.63 253.45 L790.73 252.45 L790.83 251.46 L790.93 250.46 L791.02 249.46 L791.12 248.47 L791.22 247.47 L791.31 246.48 L791.41 245.48 L791.5 244.49 L791.6 243.49 L791.69 242.5 L791.78 241.5 L791.88 240.51 L791.97 239.51 L792.06 238.51 L792.15 237.52 L792.24 236.52 L792.33 235.53 L792.42 234.53 L792.51 233.53 L792.6 232.54 L792.69 231.54 L792.77 230.55 L792.86 229.55 L792.95 228.55 L793.03 227.56 L793.12 226.56 L793.2 225.56 L793.29 224.57 L793.37 223.57 L793.45 222.57 L793.54 221.58 L793.62 220.58 L793.7 219.58 L793.78 218.59 L793.86 217.59 L793.94 216.59 L794.02 215.6 L794.1 214.6 L794.18 213.6 L794.26 212.61 L794.34 211.61 L794.42 210.61 L794.5 209.62 L794.58 208.62 L794.66 207.62 L794.73 206.63 L794.81 205.63 L794.89 204.63 L794.97 203.64 L795.05 202.64 L795.13 201.64 L795.21 200.64 L795.28 199.65 L795.36 198.65 L795.44 197.65 L795.52 196.66 L795.6 195.66 L795.68 194.66 L795.77 193.67 L795.85 192.67 L795.93 191.67 L796.01 190.68 L796.1 189.68 L796.18 188.68 L796.26 187.69 L796.35 186.69 L796.44 185.7 L796.52 184.7 L796.61 183.7 L796.7 182.71 L796.79 181.71 L796.88 180.72 L796.97 179.72 L797.06 178.72 L797.16 177.73 L797.25 176.73 L797.34 175.74 L797.44 174.74 L797.54 173.75 L797.63 172.75 L797.73 171.76 L797.83 170.76 L797.93 169.77 L798.03 168.77 L798.13 167.78 L798.23 166.78 L798.33 165.79 L798.43 164.79 L798.54 163.8 L798.64 162.8 L798.74 161.81 L798.84 160.81 L798.94 159.82 L799.05 158.82 L799.15 157.83 L799.25 156.83 L799.35 155.84 L799.45 154.84 L799.55 153.85 L799.65 152.85 L799.75 151.86 L799.85 150.86 L799.94 149.87 L800.04 148.87 L800.14 147.88 L800.23 146.88 L800.32 145.89 L800.42 144.89 L800.51 143.9 L800.6 142.9 L800.69 141.9 L800.78 140.91 L800.87 139.91 L800.96 138.92 L801.05 137.92 L801.13 136.92 L801.22 135.93 L801.3 134.93 L801.39 133.93 L801.47 132.94 L801.56 131.94 L801.64 130.94 L801.72 129.95 L801.8 128.95 L801.88 127.95 L801.97 126.96 L802.05 125.96 L802.13 124.96 L802.21 123.97 L802.29 122.97 L802.37 121.97 L802.45 120.98 L802.53 119.98 L802.61 118.98 L802.69 117.99 L802.77 116.99 L802.85 115.99 L802.93 115 L803.01 114 L803.1 113 L803.18 112.01 L803.26 111.01 L803.34 110.01 L803.42 109.02 L803.5 108.02 L803.58 107.02 L803.66 106.03 L803.75 105.03 L803.83 104.03 L803.91 103.04 L803.99 102.04 L804.08 101.04 L804.16 100.05 L804.24 99.05 L804.33 98.05 L804.41 97.06 L804.5 96.06 L804.58 95.07 L804.67 94.07 L804.76 93.07 L804.85 92.08 L804.94 91.08 L805.03 90.09 L805.12 89.09 L805.21 88.09 L805.31 87.1 L805.4 86.11 L805.5 85.11 L805.6 84.12 L805.71 83.12 L805.81 82.13 L805.92 81.14 L806.04 80.15 L806.14 79.16 L806.25 78.17 L806.37 77.18 L806.48 76.19 L806.59 75.2 L806.72 74.21 L806.84 73.23 L806.97 72.24 L807.11 71.25 L807.24 70.27 L807.4 69.29 L807.56 68.32 L807.73 67.35 L807.91 66.38 L808.11 65.42 L808.34 64.48 L808.59 63.56 L808.87 62.64 L809.19 61.75 L809.56 60.89 L810 60.1 L810.5 59.37 L811.08 58.73 L811.75 58.21 L812.51 57.86 L813.37 57.97 L814.23 58.23 L815.07 58.59 L815.9 59.02 L816.71 59.5 L817.5 60.06 L818.27 60.65 L819.02 61.28 L819.74 61.92 L820.45 62.6 L821.12 63.31 L821.77 64.05 L822.4 64.8 L823 65.57 L823.57 66.36 L824.12 67.18 L824.65 68.01 L825.15 68.85 L825.63 69.7 L826.09 70.57 L826.53 71.45 L826.95 72.34 L827.36 73.24 L827.75 74.14 L828.13 75.05 L828.53 75.94 L828.92 76.85 L829.3 77.76 L829.66 78.68 L830.01 79.61 L830.35 80.54 L830.69 81.48 L831.01 82.42 L831.33 83.36 L831.64 84.31 L831.94 85.26 L832.24 86.21 L832.54 87.16 L832.83 88.12 L833.12 89.07 L833.4 90.03 L833.69 90.99 L833.97 91.95 L834.25 92.9 L834.53 93.86 L834.81 94.82 L835.09 95.78 L835.37 96.74 L835.65 97.7 L835.93 98.66 L836.21 99.63 L836.49 100.59 L836.76 101.55 L837.04 102.51 L837.32 103.47 L837.6 104.43 L837.88 105.39 L838.15 106.35 L838.43 107.31 L838.71 108.27 L838.98 109.23 L839.26 110.19 L839.53 111.15 L839.81 112.12 L840.08 113.08 L840.35 114.04 L840.63 115 L840.9 115.96 L841.17 116.93 L841.44 117.89 L841.71 118.85 L841.98 119.81 L842.25 120.78 L842.52 121.74 L842.79 122.7 L843.06 123.67 L843.34 124.63 L843.61 125.59 L843.88 126.55 L844.15 127.52 L844.42 128.48 L844.7 129.44 L844.97 130.4 L845.25 131.36 L845.52 132.32 L845.8 133.28 L846.08 134.24 L846.36 135.2 L846.64 136.16 L846.92 137.12 L847.21 138.08 L847.49 139.04 L847.78 140 L848.07 140.95 L848.36 141.91 L848.65 142.87 L848.94 143.82 L849.24 144.78 L849.53 145.73 L849.83 146.69 L850.13 147.64 L850.43 148.6 L850.73 149.55 L851.03 150.51 L851.33 151.46 L851.63 152.41 L851.93 153.37 L852.23 154.32 L852.53 155.27 L852.83 156.23 L853.13 157.18 L853.43 158.14 L853.73 159.09 L854.02 160.05 L854.32 161 L854.62 161.96 L854.91 162.91 L855.21 163.87 L855.5 164.82 L855.8 165.78 L856.09 166.73 L856.38 167.69 L856.67 168.65 L856.96 169.6 L857.25 170.56 L857.53 171.52 L857.82 172.48 L858.11 173.44 L858.39 174.39 L858.68 175.35 L858.96 176.31 L859.25 177.27 L859.53 178.23 L859.82 179.19 L860.1 180.15 L860.38 181.11 L860.67 182.06 L860.95 183.02 L861.23 183.98 L861.52 184.94 L861.8 185.9 L862.08 186.86 L862.37 187.82 L862.65 188.78 L862.93 189.74 L863.22 190.7 L863.5 191.65 L863.79 192.61 L864.07 193.57 L864.36 194.53 L864.64 195.49 L864.93 196.45 L865.21 197.4 L865.5 198.36 L865.79 199.32 L866.08 200.28 L866.37 201.23 L866.66 202.19 L866.95 203.15 L867.25 204.1 L867.54 205.06 L867.84 206.01 L868.13 206.97 L868.43 207.92 L868.73 208.88 L869.04 209.83 L869.34 210.78 L869.64 211.73 L869.95 212.69 L870.26 213.64 L870.56 214.59 L870.87 215.54 L871.18 216.49 L871.5 217.44 L871.81 218.39 L872.12 219.34 L872.43 220.29 L872.75 221.24 L873.06 222.19 L873.37 223.14 L873.69 224.09 L874 225.04 L874.31 225.99 L874.62 226.94 L874.93 227.89 L875.24 228.84 L875.55 229.79 L875.86 230.74 L876.17 231.69 L876.48 232.64 L876.79 233.59 L877.09 234.55 L877.4 235.5 L877.71 236.45 L878.02 237.4 L878.33 238.35 L878.65 239.3 L878.96 240.24 L879.28 241.19 L879.6 242.14 L879.93 243.08 L880.25 244.02 L880.59 244.97 L880.93 245.91 L881.27 246.84 L881.62 247.78 L881.97 248.71 L882.33 249.64 L882.69 250.57 L883.06 251.5 L883.44 252.42 L883.82 253.35 L884.21 254.27 L884.6 255.19 L885 256.1 L885.4 257.02 L885.81 257.93 L886.21 258.84 L886.62 259.75 L887.04 260.66 L887.45 261.57 L887.87 262.48 L888.29 263.38 L888.71 264.29 L889.12 265.2 L889.54 266.11 L889.96 267.02 L890.37 267.93 L890.78 268.84 L891.19 269.75 L891.6 270.66 L892.01 271.57 L892.41 272.49 L892.82 273.4 L893.22 274.32 L893.62 275.24 L894.01 276.15 L894.41 277.07 L894.81 277.99 L895.2 278.91 L895.59 279.83 L895.99 280.75 L896.38 281.66 L896.77 282.58 L897.17 283.5 L897.56 284.42 L897.96 285.34 L898.36 286.26 L898.76 287.17 L899.16 288.09 L899.56 289 L899.97 289.91 L900.38 290.83 L900.79 291.74 L901.21 292.64 L901.63 293.55 L902.05 294.46 L902.47 295.36 L902.9 296.27 L903.33 297.17 L903.77 298.07 L904.21 298.97 L904.65 299.86 L905.1 300.76 L905.55 301.65 L906 302.54 L906.46 303.42 L906.92 304.31 L907.39 305.19 L907.86 306.07 L908.34 306.95 L908.82 307.83 L909.3 308.7 L909.79 309.57 L910.29 310.44 L910.79 311.3 L911.29 312.16 L911.81 313.02 L912.32 313.87 L912.85 314.72 L913.37 315.57 L913.91 316.41 L914.45 317.25 L915 318.08 L915.55 318.91 L916.11 319.74 L916.67 320.56 L917.25 321.38 L917.83 322.19 L918.41 323 L919 323.8 L919.6 324.6 L920.21 325.39 L920.82 326.18 L921.43 326.96 L922.06 327.74 L922.69 328.52 L923.32 329.29 L923.96 330.05 L924.61 330.81 L925.27 331.56 L925.93 332.31 L926.59 333.05 L927.26 333.79 L927.94 334.53 L928.62 335.26 L929.3 335.98 L929.99 336.7 L930.69 337.42 L931.39 338.12 L932.1 338.83 L932.81 339.53 L933.53 340.22 L934.25 340.91 L934.98 341.59 L935.71 342.26 L936.45 342.93 L937.2 343.6 L937.95 344.25 L938.7 344.9 L939.47 345.54 L940.23 346.17 L941.01 346.8 L941.79 347.41 L942.58 348.02 L943.37 348.62 L944.17 349.21 L944.98 349.79 L945.8 350.35 L946.62 350.91 L947.45 351.46 L948.28 352 L949.13 352.52 L949.97 353.04 L950.83 353.54 L951.69 354.04 L952.56 354.52 L953.43 354.99 L954.32 355.45 L955.2 355.9 L956.09 356.34 L956.99 356.77 L957.89 357.19 L958.8 357.6 L959.71 357.99 L960.63 358.38 L961.55 358.76 L962.47 359.12 L963.4 359.48 L964.34 359.83 L965.27 360.17 L966.21 360.49 L967.16 360.81 L968.1 361.12 L969.05 361.43 L970.01 361.72 L970.96 362 L971.92 362.28 L972.88 362.54 L973.84 362.8 L974.81 363.05 L975.77 363.3 L976.74 363.53 L977.72 363.76 L978.69 363.98 L979.66 364.19 L980.64 364.4 L981.62 364.6 L982.6 364.79 L983.58 364.97 L984.56 365.15 L985.54 365.33 L986.53 365.49 L987.51 365.65 L988.5 365.81 L989.49 365.96 L990.47 366.1 L991.46 366.24 L992.45 366.38 L993.44 366.51 L994.44 366.63 L995.43 366.75 L996.42 366.87 L997.41 366.98 L998.41 367.08 L999.4 367.19 L1000.39 367.29 L1001.39 367.38 L1002.38 367.47 L1003.38 367.56 L1004.38 367.65 L1005.37 367.73 L1006.37 367.81 L1007.36 367.89 L1008.36 367.96 L1009.35 368.03 L1010.35 368.1 L1011.34 368.17 L1012.34 368.24 L1013.33 368.3 L1014.32 368.36 L1015.31 368.42 L1016.29 368.48 L1017.27 368.53 L1018.24 368.58 L1019.2 368.63 L1020.16 368.68 L1021.11 368.73 L1022.04 368.77 L1022.95 368.81 L1023.85 368.85 L1024.73 368.89 L1025.58 368.92 L1026.41 368.95 L1027.21 368.98 L1027.97 369.01 L1028.7 369.03 L1029.39 369.05 L1030.04 369.07 L1030.65 369.09 L1031.22 369.11 L1035.33 369.2" fill="none" stroke="#ff0000" stroke-width="3.2" stroke-linejoin="round"/>
<path d="M699 369.6 L703.11 369.6 L703.68 369.6 L704.29 369.6 L704.94 369.6 L705.63 369.6 L706.36 369.6 L707.12 369.6 L707.92 369.6 L708.75 369.6 L709.6 369.6 L710.48 369.6 L711.38 369.6 L712.3 369.6 L713.23 369.6 L714.18 369.6 L715.14 369.6 L716.1 369.6 L717.08 369.6 L718.06 369.6 L719.04 369.6 L720.03 369.6 L721.02 369.6 L722.01 369.6 L723.01 369.6 L724.01 369.6 L725 369.6 L726 369.6 L727 369.6 L728 369.6 L729 369.6 L730 369.6 L731 369.6 L732 369.6 L733 369.6 L734 369.6 L735 369.6 L736 369.6 L737 369.6 L738 369.6 L739 369.6 L740 369.6 L741 369.6 L742 369.6 L743 369.6 L744 369.6 L745 369.6 L746 369.6 L747 369.59 L748 369.59 L749 369.59 L750 369.58 L751 369.57 L751.99 369.57 L752.99 369.55 L753.99 369.54 L754.98 369.52 L755.98 369.49 L756.97 369.46 L757.96 369.42 L758.95 369.38 L759.93 369.32 L760.91 369.25 L761.89 369.16 L762.86 369.06 L763.82 368.95 L764.77 368.81 L765.72 368.65 L766.65 368.46 L767.57 368.25 L768.48 368.01 L769.38 367.74 L770.25 367.44 L771.11 367.1 L771.95 366.73 L772.77 366.32 L773.56 365.88 L774.34 365.4 L775.09 364.89 L775.81 364.34 L776.51 363.76 L777.18 363.14 L777.83 362.49 L778.45 361.81 L779.05 361.1 L779.62 360.36 L780.17 359.6 L780.69 358.82 L781.2 358.01 L781.68 357.18 L782.15 356.34 L782.59 355.48 L783.02 354.61 L783.43 353.72 L783.83 352.83 L784.21 351.92 L784.58 351.01 L784.94 350.08 L785.28 349.16 L785.61 348.22 L785.94 347.28 L786.25 346.34 L786.55 345.39 L786.84 344.44 L787.13 343.49 L787.4 342.53 L787.66 341.57 L787.92 340.61 L788.16 339.64 L788.4 338.68 L788.62 337.7 L788.84 336.73 L789.05 335.76 L789.25 334.78 L789.44 333.8 L789.63 332.82 L789.8 331.84 L789.97 330.86 L790.13 329.87 L790.29 328.89 L790.44 327.9 L790.58 326.91 L790.72 325.92 L790.85 324.93 L790.98 323.94 L791.1 322.95 L791.22 321.96 L791.34 320.97 L791.45 319.98 L791.56 318.98 L791.67 317.99 L791.77 316.99 L791.87 316 L791.97 315 L792.07 314.01 L792.17 313.01 L792.27 312.02 L792.36 311.02 L792.45 310.03 L792.55 309.03 L792.64 308.04 L792.73 307.04 L792.82 306.05 L792.91 305.05 L793 304.05 L793.09 303.06 L793.17 302.06 L793.26 301.07 L793.35 300.07 L793.44 299.07 L793.52 298.08 L793.61 297.08 L793.7 296.08 L793.78 295.09 L793.87 294.09 L793.96 293.1 L794.04 292.1 L794.13 291.1 L794.21 290.11 L794.3 289.11 L794.39 288.11 L794.47 287.12 L794.56 286.12 L794.64 285.12 L794.73 284.13 L794.81 283.13 L794.9 282.14 L794.98 281.14 L795.07 280.14 L795.15 279.15 L795.24 278.15 L795.32 277.15 L795.4 276.16 L795.49 275.16 L795.57 274.16 L795.65 273.17 L795.73 272.17 L795.81 271.17 L795.89 270.18 L795.97 269.18 L796.05 268.18 L796.13 267.19 L796.21 266.19 L796.29 265.19 L796.37 264.2 L796.45 263.2 L796.53 262.2 L796.61 261.21 L796.69 260.21 L796.76 259.21 L796.84 258.21 L796.92 257.22 L797 256.22 L797.07 255.22 L797.15 254.23 L797.23 253.23 L797.3 252.23 L797.38 251.24 L797.46 250.24 L797.53 249.24 L797.61 248.24 L797.69 247.25 L797.77 246.25 L797.84 245.25 L797.92 244.26 L798 243.26 L798.07 242.26 L798.15 241.27 L798.23 240.27 L798.31 239.27 L798.39 238.27 L798.46 237.28 L798.54 236.28 L798.62 235.28 L798.7 234.29 L798.78 233.29 L798.85 232.29 L798.93 231.3 L799.01 230.3 L799.09 229.3 L799.17 228.31 L799.25 227.31 L799.32 226.31 L799.4 225.31 L799.48 224.32 L799.56 223.32 L799.64 222.32 L799.72 221.33 L799.8 220.33 L799.88 219.33 L799.96 218.34 L800.04 217.34 L800.12 216.34 L800.2 215.35 L800.28 214.35 L800.37 213.35 L800.45 212.36 L800.54 211.36 L800.62 210.36 L800.71 209.37 L800.8 208.37 L800.88 207.38 L800.97 206.38 L801.07 205.38 L801.16 204.39 L801.25 203.39 L801.35 202.4 L801.45 201.4 L801.55 200.41 L801.65 199.41 L801.75 198.42 L801.85 197.42 L801.96 196.43 L802.07 195.44 L802.17 194.44 L802.28 193.45 L802.39 192.45 L802.5 191.46 L802.62 190.47 L802.73 189.47 L802.84 188.48 L802.96 187.49 L803.07 186.49 L803.18 185.5 L803.3 184.51 L803.41 183.51 L803.53 182.52 L803.64 181.53 L803.75 180.53 L803.87 179.54 L803.98 178.55 L804.09 177.55 L804.2 176.56 L804.31 175.56 L804.43 174.57 L804.54 173.58 L804.65 172.58 L804.76 171.59 L804.88 170.6 L804.99 169.61 L805.11 168.61 L805.23 167.62 L805.36 166.64 L805.49 165.65 L805.62 164.66 L805.75 163.67 L805.87 162.68 L806 161.7 L806.14 160.71 L806.27 159.72 L806.42 158.74 L806.57 157.75 L806.73 156.77 L806.9 155.79 L807.07 154.81 L807.26 153.84 L807.46 152.88 L807.67 151.91 L807.89 150.95 L808.13 150 L808.41 149.07 L808.7 148.15 L809.03 147.25 L809.39 146.37 L809.8 145.52 L810.27 144.74 L810.8 144.02 L811.41 143.38 L812.11 142.86 L812.89 142.5 L813.8 142.54 L814.72 142.7 L815.62 142.95 L816.51 143.27 L817.39 143.65 L818.25 144.1 L819.09 144.6 L819.91 145.12 L820.7 145.68 L821.48 146.27 L822.23 146.9 L822.96 147.56 L823.67 148.23 L824.36 148.93 L825.03 149.65 L825.67 150.39 L826.29 151.15 L826.9 151.93 L827.49 152.71 L828.06 153.51 L828.62 154.33 L829.17 155.15 L829.7 155.98 L830.23 156.82 L830.75 157.66 L831.28 158.49 L831.81 159.33 L832.32 160.18 L832.82 161.03 L833.32 161.89 L833.81 162.76 L834.29 163.63 L834.77 164.5 L835.24 165.38 L835.7 166.26 L836.17 167.15 L836.62 168.04 L837.08 168.93 L837.53 169.82 L837.97 170.71 L838.42 171.61 L838.86 172.5 L839.3 173.4 L839.73 174.3 L840.17 175.2 L840.6 176.1 L841.03 177.01 L841.46 177.91 L841.89 178.81 L842.32 179.71 L842.75 180.62 L843.17 181.52 L843.6 182.43 L844.03 183.33 L844.45 184.24 L844.88 185.14 L845.31 186.04 L845.74 186.95 L846.17 187.85 L846.6 188.75 L847.03 189.65 L847.46 190.55 L847.9 191.45 L848.33 192.35 L848.77 193.25 L849.21 194.15 L849.65 195.05 L850.09 195.95 L850.52 196.85 L850.96 197.75 L851.4 198.64 L851.84 199.54 L852.28 200.44 L852.72 201.34 L853.15 202.24 L853.58 203.14 L854.01 204.04 L854.44 204.95 L854.87 205.85 L855.29 206.76 L855.71 207.66 L856.13 208.57 L856.54 209.48 L856.95 210.39 L857.36 211.3 L857.77 212.22 L858.17 213.13 L858.57 214.05 L858.96 214.97 L859.36 215.89 L859.75 216.81 L860.14 217.73 L860.53 218.65 L860.91 219.57 L861.3 220.49 L861.68 221.42 L862.06 222.34 L862.44 223.26 L862.82 224.19 L863.2 225.11 L863.58 226.04 L863.96 226.96 L864.34 227.89 L864.72 228.81 L865.1 229.74 L865.48 230.66 L865.86 231.59 L866.25 232.51 L866.63 233.44 L867.01 234.36 L867.39 235.29 L867.78 236.21 L868.16 237.13 L868.54 238.06 L868.93 238.98 L869.31 239.9 L869.7 240.82 L870.09 241.74 L870.48 242.67 L870.87 243.59 L871.26 244.51 L871.65 245.43 L872.04 246.35 L872.43 247.27 L872.82 248.19 L873.22 249.11 L873.62 250.02 L874.01 250.94 L874.41 251.86 L874.81 252.78 L875.21 253.69 L875.62 254.61 L876.02 255.52 L876.43 256.43 L876.83 257.35 L877.24 258.26 L877.66 259.17 L878.07 260.08 L878.49 260.99 L878.91 261.89 L879.33 262.8 L879.76 263.7 L880.18 264.61 L880.62 265.51 L881.05 266.41 L881.49 267.31 L881.93 268.2 L882.38 269.1 L882.83 269.99 L883.28 270.88 L883.73 271.77 L884.19 272.66 L884.66 273.54 L885.12 274.43 L885.59 275.31 L886.06 276.19 L886.53 277.07 L887.01 277.95 L887.49 278.83 L887.97 279.71 L888.45 280.58 L888.93 281.46 L889.41 282.34 L889.9 283.21 L890.38 284.08 L890.87 284.96 L891.35 285.83 L891.84 286.71 L892.33 287.58 L892.81 288.45 L893.3 289.32 L893.79 290.19 L894.29 291.06 L894.78 291.93 L895.27 292.8 L895.77 293.67 L896.27 294.53 L896.77 295.4 L897.28 296.26 L897.79 297.12 L898.3 297.98 L898.82 298.83 L899.34 299.68 L899.87 300.53 L900.4 301.37 L900.94 302.22 L901.48 303.05 L902.02 303.89 L902.58 304.72 L903.13 305.55 L903.7 306.37 L904.27 307.19 L904.84 308.01 L905.42 308.82 L906 309.64 L906.59 310.44 L907.18 311.25 L907.78 312.05 L908.38 312.84 L908.99 313.64 L909.6 314.43 L910.22 315.21 L910.83 316 L911.46 316.78 L912.09 317.55 L912.72 318.33 L913.35 319.1 L913.99 319.87 L914.63 320.63 L915.28 321.39 L915.93 322.15 L916.59 322.91 L917.24 323.66 L917.9 324.41 L918.57 325.15 L919.24 325.89 L919.91 326.63 L920.59 327.37 L921.27 328.1 L921.95 328.83 L922.63 329.56 L923.32 330.28 L924.01 331 L924.71 331.72 L925.41 332.44 L926.11 333.15 L926.81 333.86 L927.52 334.56 L928.23 335.27 L928.94 335.97 L929.66 336.66 L930.38 337.36 L931.1 338.05 L931.83 338.73 L932.56 339.42 L933.29 340.1 L934.02 340.77 L934.76 341.44 L935.5 342.11 L936.25 342.77 L937 343.43 L937.76 344.08 L938.52 344.73 L939.28 345.37 L940.05 346 L940.83 346.62 L941.61 347.24 L942.39 347.85 L943.19 348.45 L943.99 349.04 L944.79 349.62 L945.6 350.2 L946.42 350.76 L947.25 351.31 L948.08 351.85 L948.92 352.38 L949.77 352.9 L950.62 353.41 L951.48 353.91 L952.35 354.39 L953.22 354.87 L954.1 355.33 L954.98 355.79 L955.87 356.23 L956.77 356.66 L957.67 357.08 L958.57 357.49 L959.48 357.89 L960.4 358.28 L961.32 358.66 L962.24 359.03 L963.17 359.39 L964.1 359.74 L965.04 360.08 L965.98 360.41 L966.92 360.73 L967.87 361.05 L968.81 361.35 L969.77 361.65 L970.72 361.93 L971.68 362.21 L972.64 362.48 L973.6 362.74 L974.57 362.99 L975.53 363.24 L976.5 363.47 L977.47 363.7 L978.44 363.92 L979.42 364.14 L980.39 364.35 L981.37 364.55 L982.35 364.74 L983.33 364.93 L984.31 365.11 L985.3 365.28 L986.28 365.45 L987.27 365.61 L988.25 365.77 L989.24 365.92 L990.23 366.07 L991.22 366.21 L992.21 366.34 L993.2 366.48 L994.19 366.6 L995.18 366.72 L996.17 366.84 L997.16 366.95 L998.16 367.06 L999.15 367.16 L1000.15 367.26 L1001.14 367.36 L1002.13 367.45 L1003.13 367.54 L1004.13 367.62 L1005.12 367.71 L1006.12 367.79 L1007.11 367.87 L1008.11 367.94 L1009.1 368.01 L1010.1 368.09 L1011.09 368.15 L1012.09 368.22 L1013.08 368.28 L1014.07 368.35 L1015.05 368.4 L1016.04 368.46 L1017.02 368.52 L1017.99 368.57 L1018.95 368.62 L1019.91 368.67 L1020.85 368.72 L1021.79 368.76 L1022.7 368.8 L1023.6 368.84 L1024.48 368.88 L1025.33 368.91 L1026.16 368.94 L1026.96 368.97 L1027.72 369 L1028.45 369.03 L1029.14 369.05 L1029.79 369.07 L1030.4 369.09 L1030.97 369.1 L1035.08 369.2" fill="none" stroke="#0000ff" stroke-width="3.2" stroke-linejoin="round"/>
<line x1="917.1" y1="65" x2="960.5" y2="65" stroke="#ff0000" stroke-width="3.4"/>
<text x="973.8" y="74.3" font-size="24.5" font-family="'DejaVu Sans', 'Liberation Sans', sans-serif" textLength="53.5" lengthAdjust="spacingAndGlyphs">ℜ(<tspan font-style="italic">n</tspan><tspan font-size="16.66" font-style="italic" dy="7">x</tspan><tspan dy="-7">)</tspan></text>
<line x1="917.1" y1="98" x2="960.5" y2="98" stroke="#0000ff" stroke-width="3.4"/>
<text x="973.8" y="107.3" font-size="24.5" font-family="'DejaVu Sans', 'Liberation Sans', sans-serif" textLength="53.5" lengthAdjust="spacingAndGlyphs">ℜ(<tspan font-style="italic">n</tspan><tspan font-size="16.66" font-style="italic" dy="7">y</tspan><tspan dy="-7">)</tspan></text>
<text x="836" y="465.7" font-size="28.5" textLength="55" lengthAdjust="spacingAndGlyphs"><tspan font-style="italic">t</tspan> (fs)</text>
<text x="590.5" y="214.5" font-size="28" text-anchor="middle" font-family="'DejaVu Sans', 'Liberation Sans', sans-serif" transform="rotate(-90 590.5 214.5)">ℜ(<tspan font-style="italic">n</tspan>)</text>
<rect x="684.7" y="538.2" width="365.1" height="343.1" fill="none" stroke="#000" stroke-width="1.9"/>
<line x1="675.3" y1="880.5" x2="684.7" y2="880.5" stroke="#111" stroke-width="2"/>
<text x="663.6" y="888.1" font-size="23" text-anchor="end" textLength="49.1" lengthAdjust="spacingAndGlyphs">0.06</text>
<line x1="675.3" y1="806.1" x2="684.7" y2="806.1" stroke="#111" stroke-width="2"/>
<text x="663.6" y="813.7" font-size="23" text-anchor="end" textLength="48.7" lengthAdjust="spacingAndGlyphs">0.07</text>
<line x1="675.3" y1="731.7" x2="684.7" y2="731.7" stroke="#111" stroke-width="2"/>
<text x="663.6" y="739.3" font-size="23" text-anchor="end" textLength="49.1" lengthAdjust="spacingAndGlyphs">0.08</text>
<line x1="675.3" y1="657.3" x2="684.7" y2="657.3" stroke="#111" stroke-width="2"/>
<text x="663.6" y="664.9" font-size="23" text-anchor="end" textLength="49.1" lengthAdjust="spacingAndGlyphs">0.09</text>
<line x1="675.3" y1="582.9" x2="684.7" y2="582.9" stroke="#111" stroke-width="2"/>
<text x="663.6" y="590.5" font-size="23" text-anchor="end" textLength="44.7" lengthAdjust="spacingAndGlyphs">0.10</text>
<line x1="810.9" y1="881.3" x2="810.9" y2="891" stroke="#333" stroke-width="1.5"/>
<text x="810.9" y="920" font-size="23" text-anchor="middle" textLength="14.8" lengthAdjust="spacingAndGlyphs">0</text>
<line x1="938.8" y1="881.3" x2="938.8" y2="891" stroke="#333" stroke-width="1.5"/>
<text x="938.8" y="920" font-size="23" text-anchor="middle" textLength="43.4" lengthAdjust="spacingAndGlyphs">500</text>
<path d="M698.8 553.9 L702.91 553.9 L703.48 553.9 L704.09 553.9 L704.74 553.9 L705.43 553.9 L706.16 553.9 L706.92 553.9 L707.72 553.9 L708.55 553.9 L709.4 553.9 L710.28 553.9 L711.18 553.91 L712.1 553.91 L713.03 553.91 L713.98 553.91 L714.94 553.91 L715.9 553.91 L716.88 553.91 L717.86 553.91 L718.84 553.91 L719.83 553.91 L720.82 553.92 L721.81 553.92 L722.81 553.92 L723.81 553.92 L724.8 553.92 L725.8 553.92 L726.8 553.93 L727.8 553.93 L728.8 553.93 L729.8 553.94 L730.8 553.94 L731.8 553.95 L732.8 553.95 L733.8 553.96 L734.8 553.97 L735.8 553.98 L736.79 553.99 L737.79 554.01 L738.79 554.03 L739.78 554.05 L740.78 554.08 L741.77 554.11 L742.76 554.16 L743.75 554.21 L744.74 554.27 L745.72 554.35 L746.7 554.43 L747.68 554.54 L748.64 554.66 L749.61 554.79 L750.56 554.95 L751.51 555.13 L752.45 555.34 L753.38 555.57 L754.3 555.83 L755.21 556.11 L756.1 556.43 L756.99 556.77 L757.86 557.14 L758.71 557.55 L759.55 557.98 L760.37 558.45 L761.18 558.94 L761.97 559.46 L762.75 560.02 L763.51 560.59 L764.25 561.2 L764.97 561.83 L765.67 562.48 L766.36 563.15 L767.03 563.85 L767.69 564.56 L768.32 565.29 L768.94 566.05 L769.54 566.81 L770.12 567.6 L770.68 568.39 L771.23 569.2 L771.76 570.03 L772.27 570.87 L772.77 571.71 L773.24 572.57 L773.71 573.44 L774.15 574.32 L774.58 575.21 L774.99 576.1 L775.39 577.01 L775.77 577.92 L776.13 578.84 L776.49 579.76 L776.82 580.69 L777.15 581.63 L777.45 582.57 L777.75 583.52 L778.04 584.47 L778.31 585.42 L778.57 586.38 L778.81 587.34 L779.05 588.31 L779.28 589.28 L779.49 590.25 L779.7 591.22 L779.9 592.2 L780.08 593.18 L780.26 594.16 L780.43 595.14 L780.6 596.13 L780.75 597.11 L780.9 598.1 L781.05 599.08 L781.19 600.07 L781.32 601.06 L781.45 602.05 L781.57 603.04 L781.69 604.04 L781.81 605.03 L781.93 606.02 L782.04 607.01 L782.15 608.01 L782.26 609 L782.37 610 L782.48 610.99 L782.58 611.98 L782.69 612.98 L782.8 613.97 L782.9 614.97 L783.01 615.96 L783.12 616.95 L783.22 617.95 L783.33 618.94 L783.44 619.94 L783.55 620.93 L783.66 621.93 L783.76 622.92 L783.87 623.91 L783.99 624.91 L784.1 625.9 L784.21 626.89 L784.32 627.89 L784.43 628.88 L784.54 629.88 L784.65 630.87 L784.77 631.86 L784.88 632.86 L784.99 633.85 L785.1 634.84 L785.21 635.84 L785.32 636.83 L785.44 637.83 L785.55 638.82 L785.66 639.81 L785.77 640.81 L785.88 641.8 L785.98 642.8 L786.09 643.79 L786.2 644.78 L786.31 645.78 L786.41 646.77 L786.52 647.77 L786.62 648.76 L786.73 649.76 L786.83 650.75 L786.94 651.74 L787.04 652.74 L787.14 653.73 L787.24 654.73 L787.34 655.72 L787.44 656.72 L787.54 657.71 L787.64 658.71 L787.74 659.7 L787.83 660.7 L787.93 661.7 L788.03 662.69 L788.12 663.69 L788.21 664.68 L788.31 665.68 L788.4 666.67 L788.49 667.67 L788.58 668.66 L788.68 669.66 L788.77 670.66 L788.86 671.65 L788.95 672.65 L789.03 673.64 L789.12 674.64 L789.21 675.64 L789.3 676.63 L789.39 677.63 L789.47 678.62 L789.56 679.62 L789.65 680.62 L789.73 681.61 L789.82 682.61 L789.9 683.61 L789.99 684.6 L790.08 685.6 L790.16 686.6 L790.25 687.59 L790.33 688.59 L790.42 689.58 L790.5 690.58 L790.59 691.58 L790.67 692.57 L790.76 693.57 L790.84 694.57 L790.93 695.56 L791.01 696.56 L791.1 697.55 L791.19 698.55 L791.27 699.55 L791.36 700.54 L791.45 701.54 L791.53 702.54 L791.62 703.53 L791.71 704.53 L791.8 705.52 L791.89 706.52 L791.97 707.52 L792.06 708.51 L792.15 709.51 L792.24 710.5 L792.34 711.5 L792.43 712.5 L792.52 713.49 L792.61 714.49 L792.7 715.48 L792.8 716.48 L792.89 717.47 L792.98 718.47 L793.08 719.47 L793.17 720.46 L793.27 721.46 L793.36 722.45 L793.46 723.45 L793.56 724.44 L793.65 725.44 L793.75 726.43 L793.85 727.43 L793.95 728.42 L794.05 729.42 L794.15 730.41 L794.25 731.41 L794.34 732.4 L794.44 733.4 L794.54 734.39 L794.65 735.39 L794.75 736.38 L794.85 737.38 L794.95 738.37 L795.05 739.37 L795.15 740.36 L795.25 741.36 L795.36 742.35 L795.46 743.35 L795.56 744.34 L795.66 745.34 L795.77 746.33 L795.87 747.33 L795.97 748.32 L796.07 749.32 L796.18 750.31 L796.28 751.3 L796.38 752.3 L796.49 753.29 L796.59 754.29 L796.69 755.28 L796.8 756.28 L796.9 757.27 L797 758.27 L797.1 759.26 L797.21 760.26 L797.31 761.25 L797.41 762.25 L797.51 763.24 L797.62 764.24 L797.72 765.23 L797.82 766.23 L797.92 767.22 L798.02 768.22 L798.12 769.21 L798.22 770.2 L798.32 771.2 L798.42 772.19 L798.52 773.19 L798.62 774.18 L798.72 775.18 L798.82 776.18 L798.92 777.17 L799.02 778.17 L799.11 779.16 L799.21 780.16 L799.31 781.15 L799.4 782.15 L799.5 783.14 L799.59 784.14 L799.68 785.13 L799.78 786.13 L799.87 787.12 L799.96 788.12 L800.05 789.12 L800.14 790.11 L800.23 791.11 L800.32 792.1 L800.41 793.1 L800.5 794.1 L800.58 795.09 L800.67 796.09 L800.75 797.09 L800.84 798.08 L800.92 799.08 L801.01 800.07 L801.09 801.07 L801.17 802.07 L801.26 803.06 L801.34 804.06 L801.42 805.06 L801.5 806.05 L801.59 807.05 L801.67 808.05 L801.75 809.04 L801.83 810.04 L801.92 811.04 L802 812.03 L802.08 813.03 L802.16 814.03 L802.25 815.02 L802.33 816.02 L802.41 817.02 L802.5 818.01 L802.58 819.01 L802.67 820.01 L802.76 821 L802.85 822 L802.93 822.99 L803.03 823.99 L803.12 824.98 L803.21 825.98 L803.3 826.98 L803.4 827.97 L803.5 828.97 L803.6 829.96 L803.7 830.95 L803.81 831.95 L803.92 832.94 L804.03 833.93 L804.15 834.93 L804.27 835.92 L804.39 836.91 L804.52 837.9 L804.65 838.89 L804.79 839.88 L804.93 840.86 L805.08 841.85 L805.23 842.83 L805.37 843.82 L805.52 844.8 L805.68 845.79 L805.84 846.77 L806 847.76 L806.18 848.74 L806.37 849.71 L806.56 850.69 L806.75 851.67 L806.96 852.64 L807.18 853.6 L807.41 854.56 L807.66 855.52 L807.91 856.48 L808.19 857.42 L808.49 858.34 L808.81 859.26 L809.15 860.16 L809.53 861.04 L809.95 861.88 L810.41 862.66 L810.93 863.38 L811.53 864.01 L812.22 864.5 L813.04 864.71 L813.96 864.67 L814.88 864.53 L815.79 864.3 L816.68 864 L817.55 863.62 L818.4 863.17 L819.22 862.67 L820.01 862.13 L820.78 861.55 L821.52 860.92 L822.23 860.25 L822.92 859.57 L823.59 858.86 L824.25 858.13 L824.89 857.39 L825.51 856.62 L826.11 855.84 L826.7 855.05 L827.28 854.25 L827.85 853.44 L828.4 852.62 L828.95 851.79 L829.48 850.96 L830 850.11 L830.52 849.28 L831.05 848.44 L831.57 847.6 L832.07 846.74 L832.57 845.88 L833.05 845.02 L833.53 844.14 L834 843.27 L834.46 842.38 L834.91 841.49 L835.36 840.6 L835.79 839.71 L836.22 838.81 L836.65 837.9 L837.06 837 L837.47 836.09 L837.88 835.17 L838.27 834.26 L838.67 833.34 L839.05 832.42 L839.43 831.5 L839.81 830.57 L840.18 829.64 L840.54 828.71 L840.9 827.78 L841.25 826.85 L841.6 825.91 L841.95 824.98 L842.29 824.04 L842.63 823.1 L842.96 822.15 L843.29 821.21 L843.62 820.27 L843.95 819.32 L844.27 818.37 L844.59 817.43 L844.9 816.48 L845.22 815.53 L845.53 814.58 L845.85 813.63 L846.16 812.68 L846.47 811.73 L846.78 810.78 L847.09 809.83 L847.4 808.88 L847.71 807.93 L848.02 806.98 L848.33 806.03 L848.64 805.08 L848.95 804.13 L849.26 803.18 L849.57 802.23 L849.88 801.28 L850.19 800.33 L850.51 799.38 L850.82 798.43 L851.13 797.48 L851.45 796.53 L851.76 795.58 L852.08 794.63 L852.39 793.68 L852.71 792.73 L853.02 791.78 L853.34 790.83 L853.66 789.88 L853.97 788.94 L854.29 787.99 L854.6 787.04 L854.92 786.09 L855.23 785.14 L855.55 784.19 L855.86 783.24 L856.17 782.29 L856.49 781.34 L856.8 780.39 L857.11 779.44 L857.42 778.49 L857.74 777.54 L858.05 776.59 L858.36 775.64 L858.67 774.69 L858.98 773.74 L859.28 772.79 L859.59 771.84 L859.9 770.88 L860.21 769.93 L860.51 768.98 L860.82 768.03 L861.12 767.08 L861.43 766.12 L861.73 765.17 L862.03 764.22 L862.34 763.27 L862.64 762.31 L862.94 761.36 L863.24 760.41 L863.55 759.45 L863.85 758.5 L864.15 757.54 L864.45 756.59 L864.75 755.64 L865.04 754.68 L865.34 753.73 L865.64 752.77 L865.94 751.82 L866.24 750.86 L866.53 749.91 L866.83 748.95 L867.13 748 L867.42 747.04 L867.72 746.09 L868.02 745.13 L868.31 744.18 L868.61 743.22 L868.9 742.27 L869.2 741.31 L869.49 740.36 L869.79 739.4 L870.08 738.45 L870.38 737.49 L870.67 736.53 L870.97 735.58 L871.26 734.62 L871.55 733.67 L871.85 732.71 L872.14 731.76 L872.43 730.8 L872.73 729.84 L873.02 728.89 L873.31 727.93 L873.61 726.98 L873.9 726.02 L874.19 725.06 L874.49 724.11 L874.78 723.15 L875.07 722.2 L875.37 721.24 L875.66 720.28 L875.95 719.33 L876.25 718.37 L876.54 717.41 L876.83 716.46 L877.13 715.5 L877.42 714.55 L877.71 713.59 L878.01 712.63 L878.3 711.68 L878.59 710.72 L878.89 709.77 L879.18 708.81 L879.47 707.85 L879.77 706.9 L880.06 705.94 L880.35 704.99 L880.65 704.03 L880.94 703.07 L881.23 702.12 L881.53 701.16 L881.82 700.21 L882.11 699.25 L882.4 698.29 L882.7 697.34 L882.99 696.38 L883.29 695.43 L883.58 694.47 L883.88 693.52 L884.17 692.56 L884.47 691.61 L884.77 690.65 L885.07 689.7 L885.37 688.75 L885.68 687.79 L885.98 686.84 L886.29 685.89 L886.6 684.94 L886.91 683.99 L887.23 683.04 L887.55 682.1 L887.87 681.15 L888.19 680.2 L888.52 679.26 L888.85 678.32 L889.18 677.37 L889.52 676.43 L889.86 675.49 L890.2 674.55 L890.54 673.61 L890.89 672.68 L891.24 671.74 L891.59 670.8 L891.95 669.87 L892.31 668.94 L892.67 668 L893.03 667.07 L893.4 666.14 L893.77 665.21 L894.14 664.28 L894.51 663.36 L894.88 662.43 L895.26 661.5 L895.64 660.58 L896.03 659.66 L896.41 658.73 L896.8 657.81 L897.19 656.89 L897.59 655.97 L897.98 655.06 L898.38 654.14 L898.78 653.23 L899.19 652.31 L899.59 651.4 L900 650.49 L900.42 649.58 L900.83 648.67 L901.25 647.76 L901.68 646.86 L902.1 645.95 L902.53 645.05 L902.96 644.15 L903.4 643.25 L903.84 642.35 L904.28 641.46 L904.73 640.56 L905.18 639.67 L905.63 638.78 L906.09 637.89 L906.55 637 L907.02 636.12 L907.48 635.24 L907.95 634.35 L908.43 633.47 L908.9 632.59 L909.38 631.72 L909.86 630.84 L910.34 629.96 L910.82 629.09 L911.31 628.21 L911.79 627.34 L912.28 626.46 L912.76 625.59 L913.24 624.71 L913.73 623.84 L914.21 622.96 L914.69 622.09 L915.17 621.21 L915.65 620.34 L916.13 619.46 L916.61 618.58 L917.09 617.7 L917.56 616.82 L918.04 615.94 L918.51 615.07 L918.99 614.19 L919.47 613.31 L919.95 612.43 L920.43 611.56 L920.91 610.69 L921.4 609.82 L921.89 608.95 L922.39 608.08 L922.89 607.22 L923.4 606.36 L923.91 605.51 L924.44 604.67 L924.97 603.82 L925.51 602.99 L926.05 602.16 L926.61 601.34 L927.18 600.52 L927.75 599.71 L928.34 598.91 L928.94 598.11 L929.54 597.32 L930.16 596.54 L930.78 595.77 L931.41 595 L932.06 594.25 L932.71 593.49 L933.37 592.75 L934.04 592.01 L934.71 591.28 L935.4 590.56 L936.09 589.84 L936.78 589.13 L937.49 588.42 L938.2 587.72 L938.91 587.03 L939.63 586.34 L940.36 585.65 L941.09 584.98 L941.83 584.31 L942.57 583.64 L943.32 582.98 L944.07 582.33 L944.83 581.69 L945.6 581.05 L946.37 580.42 L947.15 579.79 L947.93 579.18 L948.72 578.57 L949.51 577.98 L950.31 577.39 L951.12 576.81 L951.94 576.24 L952.76 575.68 L953.59 575.13 L954.42 574.59 L955.26 574.07 L956.11 573.55 L956.97 573.04 L957.83 572.54 L958.69 572.05 L959.57 571.58 L960.44 571.11 L961.33 570.65 L962.22 570.2 L963.11 569.77 L964.01 569.34 L964.91 568.92 L965.82 568.5 L966.73 568.1 L967.64 567.7 L968.56 567.32 L969.48 566.94 L970.41 566.57 L971.34 566.2 L972.27 565.84 L973.2 565.49 L974.14 565.15 L975.08 564.81 L976.02 564.48 L976.96 564.16 L977.91 563.84 L978.86 563.53 L979.81 563.22 L980.76 562.92 L981.72 562.63 L982.67 562.34 L983.63 562.06 L984.59 561.79 L985.55 561.52 L986.51 561.25 L987.48 561 L988.44 560.74 L989.41 560.5 L990.38 560.26 L991.35 560.03 L992.32 559.8 L993.3 559.58 L994.27 559.36 L995.25 559.15 L996.23 558.95 L997.21 558.75 L998.19 558.56 L999.17 558.37 L1000.15 558.19 L1001.13 558.02 L1002.12 557.84 L1003.1 557.68 L1004.09 557.51 L1005.07 557.36 L1006.06 557.2 L1007.05 557.05 L1008.03 556.9 L1009.02 556.76 L1010.01 556.62 L1011 556.48 L1011.98 556.35 L1012.97 556.22 L1013.95 556.1 L1014.94 555.97 L1015.92 555.86 L1016.89 555.74 L1017.86 555.63 L1018.83 555.52 L1019.78 555.42 L1020.73 555.32 L1021.66 555.23 L1022.58 555.14 L1023.49 555.05 L1024.37 554.97 L1025.24 554.9 L1026.07 554.83 L1026.88 554.76 L1027.66 554.7 L1028.41 554.64 L1029.12 554.59 L1029.79 554.54 L1030.41 554.49 L1031 554.46 L1031.54 554.42" fill="none" stroke="#ff0000" stroke-width="3.2" stroke-linejoin="round"/>
<path d="M698.8 553.9 L702.91 553.9 L703.48 553.9 L704.09 553.9 L704.74 553.9 L705.43 553.9 L706.16 553.9 L706.92 553.9 L707.72 553.9 L708.55 553.9 L709.4 553.9 L710.28 553.9 L711.18 553.9 L712.1 553.9 L713.03 553.9 L713.98 553.9 L714.94 553.9 L715.9 553.9 L716.88 553.9 L717.86 553.9 L718.84 553.9 L719.83 553.9 L720.82 553.91 L721.81 553.91 L722.81 553.91 L723.81 553.91 L724.8 553.91 L725.8 553.91 L726.8 553.91 L727.8 553.91 L728.8 553.91 L729.8 553.91 L730.8 553.91 L731.8 553.91 L732.8 553.91 L733.8 553.92 L734.8 553.92 L735.8 553.92 L736.8 553.92 L737.8 553.92 L738.8 553.92 L739.8 553.92 L740.8 553.92 L741.8 553.93 L742.8 553.93 L743.8 553.93 L744.8 553.93 L745.8 553.93 L746.8 553.94 L747.8 553.94 L748.8 553.94 L749.8 553.95 L750.8 553.95 L751.8 553.96 L752.79 553.96 L753.79 553.97 L754.79 553.98 L755.79 554 L756.78 554.02 L757.77 554.04 L758.76 554.07 L759.75 554.11 L760.74 554.15 L761.72 554.21 L762.69 554.28 L763.66 554.36 L764.63 554.45 L765.58 554.57 L766.53 554.71 L767.46 554.87 L768.38 555.06 L769.29 555.27 L770.17 555.52 L771.05 555.8 L771.9 556.11 L772.73 556.46 L773.54 556.84 L774.32 557.26 L775.08 557.73 L775.81 558.23 L776.51 558.77 L777.19 559.34 L777.84 559.96 L778.46 560.6 L779.05 561.29 L779.61 562 L780.14 562.74 L780.65 563.52 L781.13 564.31 L781.58 565.13 L782.01 565.97 L782.42 566.84 L782.81 567.71 L783.18 568.6 L783.52 569.51 L783.85 570.43 L784.17 571.35 L784.47 572.29 L784.75 573.23 L785.02 574.18 L785.28 575.14 L785.53 576.1 L785.77 577.06 L786 578.03 L786.22 579 L786.43 579.97 L786.64 580.95 L786.84 581.92 L787.03 582.9 L787.21 583.88 L787.39 584.87 L787.57 585.85 L787.74 586.83 L787.9 587.82 L788.06 588.8 L788.22 589.79 L788.37 590.78 L788.52 591.77 L788.67 592.76 L788.81 593.75 L788.95 594.73 L789.09 595.72 L789.22 596.72 L789.36 597.71 L789.49 598.7 L789.61 599.69 L789.74 600.68 L789.86 601.67 L789.98 602.67 L790.1 603.66 L790.22 604.65 L790.34 605.64 L790.45 606.64 L790.57 607.63 L790.68 608.62 L790.79 609.62 L790.9 610.61 L791.01 611.61 L791.12 612.6 L791.22 613.59 L791.33 614.59 L791.44 615.58 L791.54 616.58 L791.65 617.57 L791.76 618.57 L791.86 619.56 L791.97 620.55 L792.07 621.55 L792.18 622.54 L792.28 623.54 L792.39 624.53 L792.49 625.53 L792.6 626.52 L792.7 627.52 L792.8 628.51 L792.91 629.51 L793.01 630.5 L793.11 631.5 L793.21 632.49 L793.31 633.49 L793.41 634.48 L793.51 635.48 L793.6 636.47 L793.7 637.47 L793.8 638.46 L793.89 639.46 L793.98 640.45 L794.08 641.45 L794.17 642.44 L794.26 643.44 L794.35 644.44 L794.44 645.43 L794.53 646.43 L794.62 647.42 L794.71 648.42 L794.8 649.41 L794.89 650.41 L794.97 651.41 L795.06 652.4 L795.15 653.4 L795.24 654.4 L795.33 655.39 L795.42 656.39 L795.51 657.38 L795.6 658.38 L795.7 659.37 L795.79 660.37 L795.88 661.37 L795.98 662.36 L796.08 663.36 L796.17 664.35 L796.27 665.35 L796.37 666.34 L796.47 667.34 L796.57 668.33 L796.67 669.33 L796.77 670.32 L796.88 671.32 L796.98 672.31 L797.09 673.3 L797.19 674.3 L797.3 675.29 L797.41 676.29 L797.51 677.28 L797.62 678.28 L797.73 679.27 L797.84 680.26 L797.95 681.26 L798.05 682.25 L798.16 683.25 L798.27 684.24 L798.38 685.23 L798.49 686.23 L798.6 687.22 L798.71 688.22 L798.81 689.21 L798.92 690.2 L799.03 691.2 L799.14 692.19 L799.24 693.19 L799.35 694.18 L799.46 695.18 L799.56 696.17 L799.67 697.16 L799.77 698.16 L799.88 699.15 L799.98 700.15 L800.08 701.14 L800.19 702.14 L800.29 703.13 L800.39 704.13 L800.49 705.12 L800.59 706.12 L800.7 707.11 L800.8 708.11 L800.9 709.1 L801 710.1 L801.1 711.09 L801.2 712.09 L801.3 713.08 L801.39 714.08 L801.49 715.07 L801.59 716.07 L801.69 717.06 L801.79 718.06 L801.89 719.05 L801.98 720.05 L802.08 721.04 L802.18 722.04 L802.28 723.03 L802.38 724.03 L802.47 725.02 L802.57 726.02 L802.67 727.01 L802.76 728.01 L802.86 729 L802.96 730 L803.06 731 L803.15 731.99 L803.25 732.99 L803.35 733.98 L803.45 734.98 L803.54 735.97 L803.64 736.97 L803.74 737.96 L803.83 738.96 L803.93 739.95 L804.03 740.95 L804.13 741.94 L804.23 742.94 L804.32 743.93 L804.42 744.93 L804.52 745.92 L804.62 746.92 L804.72 747.91 L804.82 748.91 L804.91 749.9 L805.01 750.9 L805.11 751.89 L805.21 752.89 L805.31 753.88 L805.41 754.88 L805.51 755.87 L805.61 756.87 L805.71 757.86 L805.81 758.86 L805.91 759.85 L806.01 760.85 L806.11 761.84 L806.21 762.84 L806.31 763.83 L806.41 764.83 L806.51 765.82 L806.61 766.82 L806.72 767.81 L806.82 768.81 L806.92 769.8 L807.02 770.8 L807.12 771.79 L807.22 772.78 L807.33 773.78 L807.43 774.77 L807.54 775.76 L807.65 776.75 L807.75 777.74 L807.86 778.74 L807.96 779.73 L808.07 780.72 L808.18 781.71 L808.29 782.7 L808.41 783.69 L808.52 784.68 L808.64 785.67 L808.78 786.65 L808.91 787.63 L809.06 788.61 L809.21 789.59 L809.37 790.57 L809.56 791.52 L809.76 792.47 L809.99 793.41 L810.24 794.34 L810.52 795.25 L810.86 796.1 L811.26 796.91 L811.73 797.64 L812.3 798.27 L812.98 798.77 L813.85 798.85 L814.74 798.78 L815.61 798.58 L816.45 798.26 L817.27 797.86 L818.07 797.37 L818.86 796.83 L819.63 796.25 L820.38 795.65 L821.13 795.03 L821.87 794.38 L822.6 793.71 L823.32 793.04 L824.04 792.36 L824.74 791.67 L825.44 790.96 L826.13 790.25 L826.82 789.53 L827.5 788.8 L828.16 788.07 L828.82 787.32 L829.48 786.57 L830.12 785.81 L830.76 785.05 L831.39 784.28 L832.02 783.52 L832.66 782.75 L833.28 781.98 L833.89 781.2 L834.5 780.41 L835.1 779.61 L835.7 778.81 L836.28 778.01 L836.86 777.2 L837.44 776.38 L838 775.56 L838.56 774.73 L839.11 773.9 L839.66 773.07 L840.19 772.23 L840.72 771.38 L841.25 770.54 L841.77 769.68 L842.28 768.83 L842.79 767.97 L843.29 767.11 L843.79 766.24 L844.28 765.37 L844.76 764.5 L845.24 763.62 L845.72 762.74 L846.19 761.86 L846.65 760.98 L847.12 760.09 L847.57 759.2 L848.02 758.31 L848.47 757.42 L848.91 756.52 L849.35 755.63 L849.78 754.73 L850.21 753.82 L850.64 752.92 L851.06 752.01 L851.47 751.1 L851.88 750.19 L852.29 749.28 L852.7 748.37 L853.1 747.45 L853.49 746.54 L853.89 745.62 L854.28 744.7 L854.67 743.78 L855.05 742.85 L855.43 741.93 L855.81 741.01 L856.19 740.08 L856.57 739.15 L856.95 738.23 L857.32 737.3 L857.7 736.37 L858.07 735.45 L858.44 734.52 L858.82 733.59 L859.19 732.66 L859.56 731.74 L859.94 730.81 L860.31 729.88 L860.69 728.96 L861.07 728.03 L861.45 727.11 L861.83 726.18 L862.22 725.26 L862.6 724.34 L862.99 723.42 L863.38 722.5 L863.77 721.58 L864.17 720.66 L864.56 719.74 L864.96 718.82 L865.36 717.91 L865.76 716.99 L866.16 716.08 L866.57 715.16 L866.98 714.25 L867.38 713.33 L867.79 712.42 L868.2 711.51 L868.6 710.6 L869.01 709.68 L869.41 708.77 L869.82 707.85 L870.22 706.94 L870.62 706.02 L871.02 705.11 L871.42 704.19 L871.81 703.27 L872.2 702.35 L872.59 701.43 L872.98 700.51 L873.36 699.59 L873.74 698.66 L874.12 697.74 L874.49 696.81 L874.87 695.88 L875.24 694.95 L875.61 694.02 L875.97 693.09 L876.34 692.16 L876.7 691.23 L877.07 690.3 L877.43 689.37 L877.8 688.44 L878.16 687.51 L878.53 686.58 L878.9 685.65 L879.27 684.72 L879.64 683.8 L880.01 682.87 L880.39 681.94 L880.77 681.02 L881.15 680.09 L881.54 679.17 L881.93 678.25 L882.32 677.33 L882.71 676.41 L883.11 675.5 L883.51 674.58 L883.91 673.67 L884.32 672.75 L884.73 671.84 L885.14 670.93 L885.55 670.02 L885.97 669.11 L886.39 668.2 L886.81 667.3 L887.24 666.39 L887.66 665.49 L888.09 664.59 L888.53 663.69 L888.96 662.78 L889.4 661.89 L889.84 660.99 L890.28 660.09 L890.72 659.19 L891.16 658.3 L891.61 657.4 L892.06 656.51 L892.51 655.62 L892.96 654.73 L893.42 653.84 L893.88 652.95 L894.34 652.06 L894.8 651.17 L895.26 650.29 L895.73 649.4 L896.19 648.52 L896.66 647.64 L897.13 646.75 L897.61 645.87 L898.08 644.99 L898.56 644.12 L899.04 643.24 L899.53 642.36 L900.01 641.49 L900.5 640.62 L900.99 639.75 L901.48 638.87 L901.97 638.01 L902.47 637.14 L902.97 636.27 L903.47 635.41 L903.97 634.54 L904.47 633.68 L904.98 632.82 L905.49 631.95 L906 631.09 L906.5 630.23 L907.01 629.37 L907.52 628.51 L908.03 627.65 L908.55 626.79 L909.06 625.93 L909.57 625.07 L910.07 624.21 L910.58 623.35 L911.09 622.49 L911.6 621.63 L912.1 620.77 L912.6 619.9 L913.11 619.04 L913.61 618.17 L914.11 617.31 L914.61 616.44 L915.11 615.58 L915.61 614.71 L916.11 613.85 L916.62 612.99 L917.12 612.13 L917.63 611.27 L918.14 610.41 L918.65 609.55 L919.17 608.7 L919.69 607.85 L920.22 607 L920.76 606.16 L921.3 605.33 L921.84 604.5 L922.4 603.67 L922.96 602.85 L923.54 602.04 L924.12 601.23 L924.71 600.43 L925.31 599.64 L925.92 598.85 L926.53 598.07 L927.16 597.3 L927.8 596.54 L928.44 595.78 L929.1 595.03 L929.76 594.29 L930.43 593.55 L931.1 592.82 L931.79 592.09 L932.48 591.38 L933.17 590.66 L933.88 589.96 L934.58 589.25 L935.3 588.55 L936.01 587.86 L936.74 587.17 L937.46 586.49 L938.19 585.81 L938.93 585.13 L939.67 584.46 L940.41 583.79 L941.16 583.13 L941.91 582.47 L942.66 581.82 L943.42 581.17 L944.18 580.53 L944.95 579.9 L945.72 579.27 L946.5 578.65 L947.28 578.03 L948.07 577.43 L948.87 576.83 L949.67 576.25 L950.48 575.67 L951.29 575.1 L952.12 574.54 L952.95 574 L953.78 573.46 L954.62 572.94 L955.47 572.43 L956.33 571.93 L957.2 571.44 L958.07 570.97 L958.94 570.5 L959.83 570.05 L960.72 569.61 L961.61 569.18 L962.51 568.76 L963.42 568.35 L964.33 567.95 L965.24 567.56 L966.16 567.17 L967.09 566.8 L968.02 566.44 L968.95 566.09 L969.88 565.74 L970.82 565.4 L971.76 565.07 L972.7 564.75 L973.65 564.44 L974.6 564.13 L975.55 563.83 L976.5 563.53 L977.46 563.25 L978.42 562.96 L979.38 562.69 L980.34 562.42 L981.3 562.16 L982.27 561.9 L983.23 561.65 L984.2 561.4 L985.17 561.16 L986.14 560.93 L987.11 560.7 L988.09 560.48 L989.06 560.26 L990.04 560.05 L991.01 559.84 L991.99 559.64 L992.97 559.44 L993.95 559.25 L994.93 559.06 L995.92 558.88 L996.9 558.7 L997.88 558.52 L998.87 558.35 L999.85 558.19 L1000.84 558.02 L1001.82 557.87 L1002.81 557.71 L1003.8 557.56 L1004.79 557.41 L1005.78 557.27 L1006.77 557.12 L1007.76 556.99 L1008.74 556.85 L1009.73 556.72 L1010.72 556.59 L1011.71 556.46 L1012.7 556.34 L1013.68 556.21 L1014.67 556.1 L1015.65 555.98 L1016.63 555.87 L1017.6 555.76 L1018.57 555.65 L1019.53 555.55 L1020.48 555.45 L1021.42 555.35 L1022.35 555.26 L1023.26 555.17 L1024.16 555.09 L1025.03 555.01 L1025.88 554.93 L1026.71 554.86 L1027.5 554.79 L1028.26 554.73 L1028.99 554.67 L1029.68 554.61 L1030.33 554.56 L1030.94 554.52 L1031.5 554.48 L1035.6 554.21" fill="none" stroke="#0000ff" stroke-width="3.2" stroke-linejoin="round"/>
<line x1="917.1" y1="815.8" x2="960.7" y2="815.8" stroke="#ff0000" stroke-width="3.5"/>
<text x="975.2" y="824.6" font-size="24.5" font-family="'DejaVu Sans', 'Liberation Sans', sans-serif" textLength="47.5" lengthAdjust="spacingAndGlyphs">ℑ(<tspan font-style="italic">n</tspan><tspan font-size="16.66" font-style="italic" dy="7">x</tspan><tspan dy="-7">)</tspan></text>
<line x1="917.1" y1="848.7" x2="960.7" y2="848.7" stroke="#0000ff" stroke-width="3.5"/>
<text x="975.2" y="857.6" font-size="24.5" font-family="'DejaVu Sans', 'Liberation Sans', sans-serif" textLength="47.5" lengthAdjust="spacingAndGlyphs">ℑ(<tspan font-style="italic">n</tspan><tspan font-size="16.66" font-style="italic" dy="7">y</tspan><tspan dy="-7">)</tspan></text>
<text x="839.3" y="962.5" font-size="28.5" textLength="55" lengthAdjust="spacingAndGlyphs"><tspan font-style="italic">t</tspan> (fs)</text>
<text x="591.2" y="714.6" font-size="24" text-anchor="middle" font-family="'DejaVu Sans', 'Liberation Sans', sans-serif" transform="rotate(-90 591.2 714.6)">ℑ(<tspan font-style="italic">n</tspan>)</text>
<circle cx="1049.8" cy="896.2" r="0.8" fill="#999"/>
<rect x="1203.1" y="42" width="365" height="342.9" fill="none" stroke="#000" stroke-width="1.6"/>
<line x1="1194.1" y1="315.2" x2="1203.1" y2="315.2" stroke="#333" stroke-width="1.5"/>
<text x="1181.6" y="323.8" font-size="23" text-anchor="end" textLength="44.9" lengthAdjust="spacingAndGlyphs">43.5</text>
<line x1="1194.1" y1="239.4" x2="1203.1" y2="239.4" stroke="#333" stroke-width="1.5"/>
<text x="1181.6" y="248" font-size="23" text-anchor="end" textLength="47.5" lengthAdjust="spacingAndGlyphs">44.0</text>
<line x1="1194.1" y1="163.6" x2="1203.1" y2="163.6" stroke="#333" stroke-width="1.5"/>
<text x="1181.6" y="172.2" font-size="23" text-anchor="end" textLength="45.3" lengthAdjust="spacingAndGlyphs">44.5</text>
<line x1="1194.1" y1="87.8" x2="1203.1" y2="87.8" stroke="#333" stroke-width="1.5"/>
<text x="1181.6" y="96.4" font-size="23" text-anchor="end" textLength="47.1" lengthAdjust="spacingAndGlyphs">45.0</text>
<line x1="1215.3" y1="384.9" x2="1215.3" y2="394.5" stroke="#333" stroke-width="1.5"/>
<text x="1236.3" y="424" font-size="23" text-anchor="end" textLength="54" lengthAdjust="spacingAndGlyphs">–500</text>
<line x1="1333.9" y1="384.9" x2="1333.9" y2="394.5" stroke="#333" stroke-width="1.5"/>
<text x="1333.9" y="424" font-size="23" text-anchor="middle" textLength="14.8" lengthAdjust="spacingAndGlyphs">0</text>
<line x1="1452.5" y1="384.9" x2="1452.5" y2="394.5" stroke="#333" stroke-width="1.5"/>
<text x="1452.5" y="424" font-size="23" text-anchor="middle" textLength="43.4" lengthAdjust="spacingAndGlyphs">500</text>
<path d="M1219.2 75.4 L1219.7 75.4 L1220.2 75.4 L1220.7 75.4 L1221.2 75.4 L1221.7 75.4 L1222.2 75.4 L1222.7 75.4 L1223.2 75.4 L1223.7 75.4 L1224.2 75.4 L1224.7 75.4 L1225.2 75.4 L1225.7 75.4 L1226.2 75.4 L1226.7 75.4 L1227.2 75.4 L1227.7 75.4 L1228.2 75.4 L1228.7 75.4 L1229.2 75.4 L1229.7 75.4 L1230.2 75.4 L1230.7 75.4 L1231.2 75.4 L1231.7 75.4 L1232.2 75.4 L1232.7 75.4 L1233.2 75.4 L1233.7 75.4 L1234.2 75.4 L1234.7 75.4 L1235.2 75.4 L1235.7 75.4 L1236.2 75.4 L1236.7 75.4 L1237.2 75.4 L1237.7 75.4 L1238.2 75.4 L1238.7 75.4 L1239.2 75.4 L1239.7 75.4 L1240.2 75.4 L1240.7 75.4 L1241.2 75.4 L1241.7 75.4 L1242.2 75.4 L1242.7 75.4 L1243.2 75.41 L1243.7 75.41 L1244.2 75.41 L1244.7 75.41 L1245.2 75.42 L1245.7 75.42 L1246.2 75.42 L1246.7 75.43 L1247.2 75.43 L1247.7 75.44 L1248.2 75.44 L1248.7 75.45 L1249.2 75.45 L1249.7 75.46 L1250.2 75.46 L1250.7 75.47 L1251.2 75.48 L1251.7 75.48 L1252.2 75.49 L1252.7 75.5 L1253.2 75.51 L1253.7 75.51 L1254.2 75.52 L1254.7 75.53 L1255.2 75.54 L1255.7 75.55 L1256.2 75.56 L1256.7 75.57 L1257.2 75.58 L1257.7 75.59 L1258.2 75.61 L1258.7 75.62 L1259.2 75.65 L1259.7 75.68 L1260.2 75.73 L1260.7 75.77 L1261.2 75.83 L1261.7 75.89 L1262.2 75.95 L1262.7 76.03 L1263.2 76.1 L1263.7 76.18 L1264.2 76.27 L1264.7 76.35 L1265.2 76.45 L1265.7 76.54 L1266.2 76.64 L1266.7 76.76 L1267.2 76.89 L1267.7 77.05 L1268.2 77.22 L1268.7 77.41 L1269.2 77.62 L1269.7 77.84 L1270.2 78.08 L1270.7 78.34 L1271.2 78.61 L1271.7 78.93 L1272.2 79.3 L1272.7 79.72 L1273.2 80.19 L1273.7 80.7 L1274.2 81.25 L1274.7 81.85 L1275.2 82.54 L1275.7 83.34 L1276.2 84.22 L1276.7 85.18 L1277.2 86.2 L1277.7 87.25 L1278.2 88.34 L1278.7 89.45 L1279.2 90.56 L1279.7 91.66 L1280.2 92.78 L1280.7 93.93 L1281.2 95.09 L1281.7 96.29 L1282.2 97.51 L1282.7 98.76 L1283.2 100.05 L1283.7 101.37 L1284.2 102.72 L1284.7 104.12 L1285.2 105.56 L1285.7 107.05 L1286.2 108.58 L1286.7 110.15 L1287.2 111.78 L1287.7 113.44 L1288.2 115.16 L1288.7 116.94 L1289.2 118.82 L1289.7 120.8 L1290.2 122.91 L1290.7 125.16 L1291.2 127.57 L1291.7 130.16 L1292.2 132.98 L1292.7 136.1 L1293.2 139.55 L1293.7 143.34 L1294.2 147.48 L1294.7 151.99 L1295.2 156.88 L1295.7 162.37 L1296.2 169.82 L1296.7 177.92 L1297.2 184.8 L1297.7 190.02 L1298.2 194.6 L1298.7 198.8 L1299.2 202.91 L1299.7 207.2 L1300.2 211.66 L1300.7 216.1 L1301.2 220.54 L1301.7 225 L1302.2 229.5 L1302.7 233.93 L1303.2 238.34 L1303.7 242.93 L1304.2 247.96 L1304.7 253.8 L1305.2 260.13 L1305.7 266.39 L1306.2 272 L1306.7 276.97 L1307.2 281.7 L1307.7 286.22 L1308.2 290.52 L1308.7 294.63 L1309.2 298.55 L1309.7 302.3 L1310.2 305.96 L1310.7 309.58 L1311.2 313.16 L1311.7 316.66 L1312.2 320.07 L1312.7 323.38 L1313.2 326.56 L1313.7 329.59 L1314.2 332.45 L1314.7 335.13 L1315.2 337.61 L1315.7 339.87 L1316.2 341.94 L1316.7 344 L1317.2 345.88 L1317.7 347.41 L1318.2 348.39 L1318.7 348.88 L1319.2 349.29 L1319.7 349.59 L1320.2 349.77 L1320.7 349.76 L1321.2 349.31 L1321.7 348.49 L1322.2 347.41 L1322.7 346.19 L1323.2 344.97 L1323.7 343.79 L1324.2 342.47 L1324.7 341.02 L1325.2 339.43 L1325.7 337.75 L1326.2 335.97 L1326.7 334.12 L1327.2 332.22 L1327.7 330.28 L1328.2 328.32 L1328.7 326.36 L1329.2 324.42 L1329.7 322.52 L1330.2 320.66 L1330.7 318.88 L1331.2 317.19 L1331.7 315.6 L1332.2 314.12 L1332.7 312.7 L1333.2 311.32 L1333.7 309.97 L1334.2 308.66 L1334.7 307.37 L1335.2 306.11 L1335.7 304.86 L1336.2 303.64 L1336.7 302.43 L1337.2 301.24 L1337.7 300.06 L1338.2 298.88 L1338.7 297.7 L1339.2 296.53 L1339.7 295.37 L1340.2 294.21 L1340.7 293.07 L1341.2 291.94 L1341.7 290.83 L1342.2 289.73 L1342.7 288.65 L1343.2 287.58 L1343.7 286.54 L1344.2 285.51 L1344.7 284.5 L1345.2 283.52 L1345.7 282.56 L1346.2 281.62 L1346.7 280.7 L1347.2 279.8 L1347.7 278.91 L1348.2 278.03 L1348.7 277.16 L1349.2 276.29 L1349.7 275.43 L1350.2 274.56 L1350.7 273.69 L1351.2 272.82 L1351.7 271.93 L1352.2 271.04 L1352.7 270.13 L1353.2 269.2 L1353.7 268.26 L1354.2 267.29 L1354.7 266.3 L1355.2 265.29 L1355.7 264.25 L1356.2 263.2 L1356.7 262.14 L1357.2 261.05 L1357.7 259.96 L1358.2 258.86 L1358.7 257.74 L1359.2 256.62 L1359.7 255.49 L1360.2 254.36 L1360.7 253.22 L1361.2 252.09 L1361.7 250.95 L1362.2 249.81 L1362.7 248.68 L1363.2 247.55 L1363.7 246.41 L1364.2 245.25 L1364.7 244.08 L1365.2 242.91 L1365.7 241.73 L1366.2 240.55 L1366.7 239.36 L1367.2 238.18 L1367.7 237 L1368.2 235.83 L1368.7 234.67 L1369.2 233.52 L1369.7 232.38 L1370.2 231.26 L1370.7 230.15 L1371.2 229.07 L1371.7 228.01 L1372.2 226.97 L1372.7 225.95 L1373.2 224.95 L1373.7 223.95 L1374.2 222.97 L1374.7 221.99 L1375.2 221.01 L1375.7 220.03 L1376.2 219.06 L1376.7 218.07 L1377.2 217.08 L1377.7 216.07 L1378.2 215.05 L1378.7 214.02 L1379.2 212.96 L1379.7 211.88 L1380.2 210.79 L1380.7 209.69 L1381.2 208.57 L1381.7 207.45 L1382.2 206.32 L1382.7 205.18 L1383.2 204.03 L1383.7 202.87 L1384.2 201.7 L1384.7 200.53 L1385.2 199.34 L1385.7 198.14 L1386.2 196.94 L1386.7 195.72 L1387.2 194.5 L1387.7 193.27 L1388.2 192.03 L1388.7 190.77 L1389.2 189.51 L1389.7 188.25 L1390.2 186.96 L1390.7 185.65 L1391.2 184.33 L1391.7 182.98 L1392.2 181.63 L1392.7 180.25 L1393.2 178.87 L1393.7 177.48 L1394.2 176.08 L1394.7 174.67 L1395.2 173.26 L1395.7 171.85 L1396.2 170.44 L1396.7 169.02 L1397.2 167.61 L1397.7 166.2 L1398.2 164.8 L1398.7 163.41 L1399.2 162.03 L1399.7 160.65 L1400.2 159.26 L1400.7 157.86 L1401.2 156.45 L1401.7 155.02 L1402.2 153.6 L1402.7 152.17 L1403.2 150.75 L1403.7 149.34 L1404.2 147.93 L1404.7 146.54 L1405.2 145.17 L1405.7 143.82 L1406.2 142.5 L1406.7 141.2 L1407.2 139.94 L1407.7 138.72 L1408.2 137.53 L1408.7 136.36 L1409.2 135.22 L1409.7 134.09 L1410.2 132.98 L1410.7 131.88 L1411.2 130.8 L1411.7 129.74 L1412.2 128.69 L1412.7 127.65 L1413.2 126.63 L1413.7 125.63 L1414.2 124.64 L1414.7 123.66 L1415.2 122.69 L1415.7 121.74 L1416.2 120.8 L1416.7 119.87 L1417.2 118.95 L1417.7 118.04 L1418.2 117.13 L1418.7 116.23 L1419.2 115.34 L1419.7 114.46 L1420.2 113.59 L1420.7 112.72 L1421.2 111.88 L1421.7 111.04 L1422.2 110.22 L1422.7 109.41 L1423.2 108.62 L1423.7 107.84 L1424.2 107.08 L1424.7 106.34 L1425.2 105.62 L1425.7 104.91 L1426.2 104.23 L1426.7 103.56 L1427.2 102.91 L1427.7 102.28 L1428.2 101.66 L1428.7 101.05 L1429.2 100.45 L1429.7 99.86 L1430.2 99.29 L1430.7 98.72 L1431.2 98.16 L1431.7 97.61 L1432.2 97.06 L1432.7 96.51 L1433.2 95.97 L1433.7 95.44 L1434.2 94.9 L1434.7 94.37 L1435.2 93.83 L1435.7 93.29 L1436.2 92.75 L1436.7 92.2 L1437.2 91.65 L1437.7 91.09 L1438.2 90.53 L1438.7 89.96 L1439.2 89.4 L1439.7 88.84 L1440.2 88.29 L1440.7 87.73 L1441.2 87.19 L1441.7 86.65 L1442.2 86.12 L1442.7 85.59 L1443.2 85.08 L1443.7 84.58 L1444.2 84.1 L1444.7 83.63 L1445.2 83.18 L1445.7 82.74 L1446.2 82.32 L1446.7 81.93 L1447.2 81.55 L1447.7 81.2 L1448.2 80.87 L1448.7 80.56 L1449.2 80.25 L1449.7 79.96 L1450.2 79.67 L1450.7 79.4 L1451.2 79.13 L1451.7 78.87 L1452.2 78.62 L1452.7 78.37 L1453.2 78.13 L1453.7 77.9 L1454.2 77.67 L1454.7 77.45 L1455.2 77.23 L1455.7 77.02 L1456.2 76.8 L1456.7 76.59 L1457.2 76.38 L1457.7 76.18 L1458.2 75.97 L1458.7 75.77 L1459.2 75.56 L1459.7 75.35 L1460.2 75.14 L1460.7 74.92 L1461.2 74.71 L1461.7 74.51 L1462.2 74.31 L1462.7 74.12 L1463.2 73.95 L1463.7 73.79 L1464.2 73.64 L1464.7 73.52 L1465.2 73.42 L1465.7 73.31 L1466.2 73.21 L1466.7 73.1 L1467.2 73 L1467.7 72.9 L1468.2 72.81 L1468.7 72.71 L1469.2 72.62 L1469.7 72.53 L1470.2 72.45 L1470.7 72.37 L1471.2 72.29 L1471.7 72.22 L1472.2 72.15 L1472.7 72.09 L1473.2 72.03 L1473.7 71.98 L1474.2 71.93 L1474.7 71.89 L1475.2 71.86 L1475.7 71.83 L1476.2 71.82 L1476.7 71.8 L1477.2 71.8 L1477.7 71.8 L1478.2 71.8 L1478.7 71.81 L1479.2 71.82 L1479.7 71.82 L1480.2 71.83 L1480.7 71.84 L1481.2 71.86 L1481.7 71.87 L1482.2 71.89 L1482.7 71.9 L1483.2 71.92 L1483.7 71.94 L1484.2 71.96 L1484.7 71.98 L1485.2 72 L1485.7 72.02 L1486.2 72.04 L1486.7 72.06 L1487.2 72.08 L1487.7 72.1 L1488.2 72.12 L1488.7 72.15 L1489.2 72.17 L1489.7 72.19 L1490.2 72.21 L1490.7 72.23 L1491.2 72.25 L1491.7 72.28 L1492.2 72.31 L1492.7 72.33 L1493.2 72.36 L1493.7 72.39 L1494.2 72.43 L1494.7 72.46 L1495.2 72.49 L1495.7 72.52 L1496.2 72.56 L1496.7 72.59 L1497.2 72.62 L1497.7 72.65 L1498.2 72.69 L1498.7 72.72 L1499.2 72.75 L1499.7 72.78 L1500.2 72.81 L1500.7 72.83 L1501.2 72.86 L1501.7 72.89 L1502.2 72.91 L1502.7 72.93 L1503.2 72.95 L1503.7 72.98 L1504.2 73 L1504.7 73.02 L1505.2 73.04 L1505.7 73.06 L1506.2 73.08 L1506.7 73.1 L1507.2 73.12 L1507.7 73.14 L1508.2 73.16 L1508.7 73.18 L1509.2 73.2 L1509.7 73.21 L1510.2 73.23 L1510.7 73.25 L1511.2 73.27 L1511.7 73.29 L1512.2 73.3 L1512.7 73.32 L1513.2 73.34 L1513.7 73.35 L1514.2 73.37 L1514.7 73.39 L1515.2 73.41 L1515.7 73.42 L1516.2 73.44 L1516.7 73.46 L1517.2 73.47 L1517.7 73.49 L1518.2 73.5 L1518.7 73.52 L1519.2 73.54 L1519.7 73.55 L1520.2 73.57 L1520.7 73.59 L1521.2 73.6 L1521.7 73.62 L1522.2 73.64 L1522.7 73.65 L1523.2 73.67 L1523.7 73.69 L1524.2 73.7 L1524.7 73.72 L1525.2 73.74 L1525.7 73.76 L1526.2 73.77 L1526.7 73.79 L1527.2 73.81 L1527.7 73.83 L1528.2 73.85 L1528.7 73.87 L1529.2 73.88 L1529.7 73.9 L1530.2 73.92 L1530.7 73.94 L1531.2 73.96 L1531.7 73.97 L1532.2 73.99 L1532.7 74.01 L1533.2 74.03 L1533.7 74.05 L1534.2 74.06 L1534.7 74.08 L1535.2 74.1 L1535.7 74.12 L1536.2 74.14 L1536.7 74.16 L1537.2 74.17 L1537.7 74.19 L1538.2 74.21 L1538.7 74.23 L1539.2 74.25 L1539.7 74.26 L1540.2 74.28 L1540.7 74.3 L1541.2 74.32 L1541.7 74.34 L1542.2 74.35 L1542.7 74.37 L1543.2 74.39 L1543.7 74.41 L1544.2 74.43 L1544.7 74.45 L1545.2 74.46 L1545.7 74.48 L1546.2 74.5 L1546.7 74.52 L1547.2 74.54 L1547.7 74.55 L1548.2 74.57 L1548.7 74.59 L1549.2 74.61 L1549.7 74.63 L1550.2 74.65 L1550.7 74.66 L1551.2 74.68 L1551.7 74.7" fill="none" stroke="#000" stroke-width="3.4" stroke-linejoin="round" stroke-dasharray="12.7 6.3" stroke-linecap="butt"/>
<g fill="none" stroke="#008000" stroke-width="1.9">
<circle cx="1233.3" cy="71.7" r="7"/>
<circle cx="1283.4" cy="78.8" r="7"/>
<circle cx="1230.4" cy="103.1" r="7"/>
<circle cx="1258.9" cy="111.4" r="7"/>
<circle cx="1235.4" cy="82.9" r="7"/>
<circle cx="1241" cy="84.7" r="7"/>
<circle cx="1244.7" cy="91" r="7"/>
<circle cx="1252.1" cy="87.2" r="7"/>
<circle cx="1264.5" cy="86" r="7"/>
<circle cx="1269.5" cy="89.7" r="7"/>
<circle cx="1274.5" cy="93.4" r="7"/>
<circle cx="1279.4" cy="95.9" r="7"/>
<circle cx="1274.5" cy="104.6" r="7"/>
<circle cx="1244.7" cy="102.1" r="7"/>
<circle cx="1249.6" cy="99.6" r="7"/>
<circle cx="1286.9" cy="112.1" r="7"/>
<circle cx="1279.4" cy="120.7" r="7"/>
<circle cx="1288.7" cy="125.7" r="7"/>
<circle cx="1291.8" cy="143.1" r="7"/>
<circle cx="1290.8" cy="142.5" r="7"/>
<circle cx="1297.4" cy="161.1" r="7"/>
<circle cx="1295.6" cy="162.3" r="7"/>
<circle cx="1258.3" cy="97.2" r="7"/>
<circle cx="1262" cy="91" r="7"/>
<circle cx="1267" cy="99.6" r="7"/>
<circle cx="1254.6" cy="93.4" r="7"/>
<circle cx="1237.2" cy="91" r="7"/>
<circle cx="1240" cy="80" r="7"/>
<circle cx="1246" cy="96" r="7"/>
<circle cx="1256" cy="105" r="7"/>
<circle cx="1262" cy="104" r="7"/>
<circle cx="1270" cy="94" r="7"/>
<circle cx="1276" cy="88" r="7"/>
<circle cx="1238" cy="96" r="7"/>
<circle cx="1248" cy="88" r="7"/>
<circle cx="1266" cy="88" r="7"/>
<circle cx="1300.3" cy="184.8" r="7"/>
<circle cx="1302.8" cy="194.7" r="7"/>
<circle cx="1304.7" cy="238.2" r="7"/>
<circle cx="1306.9" cy="243.8" r="7"/>
<circle cx="1309.7" cy="302.9" r="7"/>
<circle cx="1343.8" cy="286.1" r="7"/>
<circle cx="1363.1" cy="280.5" r="7"/>
<circle cx="1365.6" cy="275" r="7"/>
<circle cx="1367.3" cy="270.4" r="7"/>
<circle cx="1358.1" cy="304.1" r="7"/>
<circle cx="1331.4" cy="312.8" r="7"/>
<circle cx="1333.3" cy="314.1" r="7"/>
<circle cx="1328.3" cy="313.4" r="7"/>
<circle cx="1317.2" cy="320.9" r="7"/>
<circle cx="1311.6" cy="330.8" r="7"/>
<circle cx="1319.6" cy="345.7" r="7"/>
<circle cx="1323.4" cy="348.2" r="7"/>
<circle cx="1327.1" cy="347" r="7"/>
<circle cx="1324.6" cy="334.5" r="7"/>
<circle cx="1337" cy="334.5" r="7"/>
<circle cx="1341.4" cy="333.3" r="7"/>
<circle cx="1335.8" cy="351.9" r="7"/>
<circle cx="1346.9" cy="324.6" r="7"/>
<circle cx="1350.7" cy="320.9" r="7"/>
<circle cx="1354.4" cy="317.2" r="7"/>
<circle cx="1356.9" cy="314.7" r="7"/>
<circle cx="1314.7" cy="369.9" r="7"/>
<circle cx="1344.5" cy="329.6" r="7"/>
<circle cx="1363.5" cy="275.4" r="7"/>
<circle cx="1378.4" cy="183.6" r="7"/>
<circle cx="1376.5" cy="189.8" r="7"/>
<circle cx="1372.8" cy="197.2" r="7"/>
<circle cx="1374.2" cy="192.3" r="7"/>
<circle cx="1369.7" cy="233.2" r="7"/>
<circle cx="1448.6" cy="76.1" r="7"/>
<circle cx="1381" cy="125.7" r="7"/>
<circle cx="1383.4" cy="113.3" r="7"/>
<circle cx="1387.2" cy="122" r="7"/>
<circle cx="1389" cy="123" r="7"/>
<circle cx="1398.3" cy="120.7" r="7"/>
<circle cx="1390.9" cy="102.1" r="7"/>
<circle cx="1393.4" cy="94.7" r="7"/>
<circle cx="1398.3" cy="99.6" r="7"/>
<circle cx="1404.5" cy="93.4" r="7"/>
<circle cx="1409.5" cy="92.2" r="7"/>
<circle cx="1414.5" cy="91" r="7"/>
<circle cx="1419.4" cy="92.2" r="7"/>
<circle cx="1402" cy="107.1" r="7"/>
<circle cx="1414.5" cy="105.8" r="7"/>
<circle cx="1421.9" cy="117" r="7"/>
<circle cx="1426.9" cy="113.3" r="7"/>
<circle cx="1434.3" cy="100.9" r="7"/>
<circle cx="1441.8" cy="115.8" r="7"/>
<circle cx="1436.8" cy="139.4" r="7"/>
<circle cx="1439.3" cy="130.7" r="7"/>
<circle cx="1445.5" cy="125.7" r="7"/>
<circle cx="1451.7" cy="124.5" r="7"/>
<circle cx="1454.2" cy="97.2" r="7"/>
<circle cx="1457" cy="97" r="7"/>
<circle cx="1454.2" cy="112" r="7"/>
<circle cx="1395" cy="110" r="7"/>
<circle cx="1408" cy="100" r="7"/>
<circle cx="1386" cy="115" r="7"/>
<circle cx="1508.3" cy="56.8" r="7"/>
<circle cx="1532.5" cy="70.4" r="7"/>
<circle cx="1529.4" cy="73.5" r="7"/>
<circle cx="1467.9" cy="82.8" r="7"/>
<circle cx="1472.3" cy="83.4" r="7"/>
<circle cx="1476" cy="81" r="7"/>
<circle cx="1491.5" cy="83.4" r="7"/>
<circle cx="1501.4" cy="84.1" r="7"/>
<circle cx="1517.6" cy="84.1" r="7"/>
<circle cx="1535.6" cy="84.7" r="7"/>
<circle cx="1454.9" cy="97.1" r="7"/>
<circle cx="1459.9" cy="97.1" r="7"/>
<circle cx="1464.8" cy="97.1" r="7"/>
<circle cx="1469.8" cy="95.8" r="7"/>
<circle cx="1476" cy="108.3" r="7"/>
<circle cx="1463.6" cy="113.2" r="7"/>
<circle cx="1452.4" cy="114.5" r="7"/>
<circle cx="1458.6" cy="123.1" r="7"/>
<circle cx="1447.4" cy="124.4" r="7"/>
<circle cx="1443.7" cy="126.9" r="7"/>
<circle cx="1482.2" cy="120.7" r="7"/>
<circle cx="1487.2" cy="117" r="7"/>
<circle cx="1493.4" cy="119.4" r="7"/>
<circle cx="1484.7" cy="134.3" r="7"/>
<circle cx="1489.6" cy="144.9" r="7"/>
<circle cx="1506.4" cy="121.9" r="7"/>
<circle cx="1497.1" cy="100.8" r="7"/>
<circle cx="1502" cy="102" r="7"/>
<circle cx="1513.2" cy="102" r="7"/>
<circle cx="1516.9" cy="103.3" r="7"/>
<circle cx="1521.9" cy="102" r="7"/>
<circle cx="1519.4" cy="89.6" r="7"/>
<circle cx="1526.9" cy="97.1" r="7"/>
<circle cx="1539.3" cy="103.3" r="7"/>
<circle cx="1541.8" cy="102" r="7"/>
<circle cx="1521.9" cy="109.5" r="7"/>
<circle cx="1442.5" cy="100.8" r="7"/>
<circle cx="1510" cy="95" r="7"/>
<circle cx="1530" cy="92" r="7"/>
</g>
<circle cx="1403.5" cy="302.6" r="6.5" fill="none" stroke="#008000" stroke-width="1.7"/>
<text x="1423.6" y="313.2" font-size="25" textLength="13.5" lengthAdjust="spacingAndGlyphs" font-style="italic">θ</text>
<text x="1437.3" y="321" font-size="14.5" textLength="7.6" lengthAdjust="spacingAndGlyphs">c</text>
<line x1="1389.7" y1="338.5" x2="1401.2" y2="338.5" stroke="#000" stroke-width="3"/>
<line x1="1407.2" y1="338.5" x2="1418" y2="338.5" stroke="#000" stroke-width="3"/>
<text x="1438.5" y="345.7" font-size="20.5" textLength="33" lengthAdjust="spacingAndGlyphs">tan</text>
<text x="1473.8" y="333.1" font-size="11.5" textLength="10.8" lengthAdjust="spacingAndGlyphs">−1</text>
<text transform="translate(1493.06 352.82) scale(0.92 1.57)" font-size="37.5">(</text>
<text transform="translate(1545.7 352.82) scale(0.92 1.57)" font-size="37.5">)</text>
<text x="1505.2" y="325.8" font-size="21" font-family="'DejaVu Sans', 'Liberation Sans', sans-serif" textLength="8" lengthAdjust="spacingAndGlyphs">⟨</text>
<text x="1514.6" y="325.8" font-size="21.5" textLength="13.5" lengthAdjust="spacingAndGlyphs" font-style="italic">E</text>
<text x="1526.3" y="333.6" font-size="13" textLength="7.6" lengthAdjust="spacingAndGlyphs" font-style="italic">x</text>
<text x="1534.6" y="325.8" font-size="21" font-family="'DejaVu Sans', 'Liberation Sans', sans-serif" textLength="8" lengthAdjust="spacingAndGlyphs">⟩</text>
<line x1="1506" y1="337.7" x2="1544.7" y2="337.7" stroke="#111" stroke-width="1.3"/>
<text x="1505.2" y="359" font-size="21" font-family="'DejaVu Sans', 'Liberation Sans', sans-serif" textLength="8" lengthAdjust="spacingAndGlyphs">⟨</text>
<text x="1514.6" y="359" font-size="21.5" textLength="13.5" lengthAdjust="spacingAndGlyphs" font-style="italic">E</text>
<text x="1526.3" y="366.8" font-size="13" textLength="7.6" lengthAdjust="spacingAndGlyphs" font-style="italic">y</text>
<text x="1534.6" y="359" font-size="21" font-family="'DejaVu Sans', 'Liberation Sans', sans-serif" textLength="8" lengthAdjust="spacingAndGlyphs">⟩</text>
<text x="1354" y="465.3" font-size="28.5" textLength="58.3" lengthAdjust="spacingAndGlyphs"><tspan font-style="italic">τ</tspan> (fs)</text>
<text x="1110.6" y="216.2" font-size="28.5" text-anchor="middle" textLength="271.2" lengthAdjust="spacingAndGlyphs" transform="rotate(-90 1110.6 216.2)">Probe polarization (°)</text>
<rect x="1203.4" y="538.9" width="364.9" height="342.5" fill="none" stroke="#000" stroke-width="1.5"/>
<line x1="1194.2" y1="866.2" x2="1203.4" y2="866.2" stroke="#333" stroke-width="1.5"/>
<text x="1181.6" y="874.8" font-size="23" text-anchor="end" textLength="14.8" lengthAdjust="spacingAndGlyphs">0</text>
<line x1="1194.2" y1="772.2" x2="1203.4" y2="772.2" stroke="#333" stroke-width="1.5"/>
<text x="1181.6" y="780.8" font-size="23" text-anchor="end" textLength="48.9" lengthAdjust="spacingAndGlyphs">0.05</text>
<line x1="1194.2" y1="678.2" x2="1203.4" y2="678.2" stroke="#333" stroke-width="1.5"/>
<text x="1181.6" y="686.8" font-size="23" text-anchor="end" textLength="44.7" lengthAdjust="spacingAndGlyphs">0.10</text>
<line x1="1194.2" y1="584.2" x2="1203.4" y2="584.2" stroke="#333" stroke-width="1.5"/>
<text x="1181.6" y="592.8" font-size="23" text-anchor="end" textLength="42.5" lengthAdjust="spacingAndGlyphs">0.15</text>
<line x1="1329.2" y1="881.4" x2="1329.2" y2="891" stroke="#333" stroke-width="1.5"/>
<text x="1329.2" y="920" font-size="23" text-anchor="middle" textLength="14.8" lengthAdjust="spacingAndGlyphs">0</text>
<line x1="1457.1" y1="881.4" x2="1457.1" y2="891" stroke="#333" stroke-width="1.5"/>
<text x="1457.1" y="920" font-size="23" text-anchor="middle" textLength="43.4" lengthAdjust="spacingAndGlyphs">500</text>
<path d="M1217.5 866.2 L1218.72 866.2 L1219.56 866.2 L1220.51 866.2 L1221.5 866.2 L1222.5 866.2 L1223.5 866.2 L1224.5 866.2 L1225.5 866.2 L1226.5 866.2 L1227.5 866.2 L1228.5 866.2 L1229.5 866.2 L1230.5 866.2 L1231.5 866.2 L1232.5 866.2 L1233.5 866.2 L1234.5 866.2 L1235.5 866.19 L1236.5 866.19 L1237.5 866.19 L1238.5 866.19 L1239.5 866.19 L1240.5 866.19 L1241.5 866.19 L1242.5 866.19 L1243.5 866.19 L1244.5 866.19 L1245.5 866.18 L1246.5 866.18 L1247.5 866.18 L1248.5 866.18 L1249.5 866.18 L1250.5 866.18 L1251.5 866.17 L1252.5 866.17 L1253.5 866.17 L1254.5 866.17 L1255.5 866.17 L1256.5 866.16 L1257.5 866.16 L1258.5 866.16 L1259.5 866.15 L1260.5 866.15 L1261.5 866.15 L1262.5 866.15 L1263.5 866.14 L1264.5 866.14 L1265.5 866.14 L1266.5 866.13 L1267.5 866.13 L1268.5 866.12 L1269.5 866.12 L1270.5 866.12 L1271.5 866.11 L1272.5 866.11 L1273.5 866.1 L1274.5 866.1 L1275.5 866.09 L1276.5 866.09 L1277.5 866.08 L1278.5 866.08 L1279.5 866.07 L1280.5 866.06 L1281.5 866.06 L1282.5 866.05 L1283.5 866.05 L1284.5 866.04 L1285.5 866.03 L1286.5 866.03 L1287.5 866.02 L1288.5 866 L1289.49 865.95 L1290.48 865.85 L1291.45 865.67 L1292.4 865.39 L1293.33 865.04 L1294.23 864.62 L1295.11 864.14 L1295.94 863.61 L1296.73 863.01 L1297.48 862.35 L1298.18 861.64 L1298.84 860.9 L1299.47 860.12 L1300.07 859.32 L1300.63 858.5 L1301.15 857.65 L1301.64 856.78 L1302.09 855.89 L1302.52 854.98 L1302.91 854.07 L1303.28 853.14 L1303.63 852.2 L1303.96 851.26 L1304.26 850.31 L1304.55 849.35 L1304.81 848.38 L1305.04 847.41 L1305.26 846.44 L1305.46 845.46 L1305.64 844.47 L1305.82 843.49 L1305.98 842.5 L1306.14 841.52 L1306.29 840.53 L1306.44 839.54 L1306.59 838.55 L1306.73 837.56 L1306.87 836.57 L1307.01 835.58 L1307.14 834.59 L1307.27 833.6 L1307.4 832.61 L1307.53 831.61 L1307.66 830.62 L1307.79 829.63 L1307.91 828.64 L1308.04 827.65 L1308.16 826.65 L1308.28 825.66 L1308.39 824.67 L1308.51 823.67 L1308.62 822.68 L1308.73 821.69 L1308.83 820.69 L1308.94 819.7 L1309.04 818.7 L1309.14 817.71 L1309.24 816.71 L1309.34 815.72 L1309.43 814.72 L1309.53 813.73 L1309.62 812.73 L1309.71 811.74 L1309.81 810.74 L1309.9 809.74 L1309.99 808.75 L1310.08 807.75 L1310.17 806.76 L1310.25 805.76 L1310.34 804.76 L1310.43 803.77 L1310.52 802.77 L1310.6 801.78 L1310.69 800.78 L1310.77 799.78 L1310.86 798.79 L1310.94 797.79 L1311.03 796.79 L1311.11 795.8 L1311.2 794.8 L1311.28 793.8 L1311.36 792.81 L1311.45 791.81 L1311.53 790.81 L1311.61 789.82 L1311.7 788.82 L1311.78 787.82 L1311.86 786.83 L1311.94 785.83 L1312.02 784.83 L1312.11 783.84 L1312.19 782.84 L1312.27 781.84 L1312.35 780.85 L1312.43 779.85 L1312.5 778.85 L1312.58 777.86 L1312.66 776.86 L1312.74 775.86 L1312.82 774.87 L1312.89 773.87 L1312.97 772.87 L1313.05 771.87 L1313.12 770.88 L1313.2 769.88 L1313.27 768.88 L1313.35 767.89 L1313.42 766.89 L1313.5 765.89 L1313.57 764.89 L1313.64 763.9 L1313.72 762.9 L1313.79 761.9 L1313.86 760.91 L1313.93 759.91 L1314.01 758.91 L1314.08 757.91 L1314.15 756.92 L1314.22 755.92 L1314.29 754.92 L1314.36 753.92 L1314.43 752.93 L1314.5 751.93 L1314.57 750.93 L1314.64 749.93 L1314.71 748.94 L1314.78 747.94 L1314.85 746.94 L1314.92 745.94 L1314.99 744.94 L1315.06 743.95 L1315.12 742.95 L1315.19 741.95 L1315.26 740.95 L1315.33 739.96 L1315.39 738.96 L1315.46 737.96 L1315.53 736.96 L1315.59 735.97 L1315.66 734.97 L1315.73 733.97 L1315.79 732.97 L1315.86 731.97 L1315.92 730.98 L1315.99 729.98 L1316.05 728.98 L1316.12 727.98 L1316.18 726.98 L1316.25 725.99 L1316.31 724.99 L1316.37 723.99 L1316.44 722.99 L1316.5 721.99 L1316.57 721 L1316.63 720 L1316.69 719 L1316.75 718 L1316.82 717 L1316.88 716.01 L1316.94 715.01 L1317 714.01 L1317.06 713.01 L1317.12 712.01 L1317.18 711.02 L1317.24 710.02 L1317.3 709.02 L1317.35 708.02 L1317.41 707.02 L1317.47 706.02 L1317.53 705.03 L1317.58 704.03 L1317.64 703.03 L1317.69 702.03 L1317.75 701.03 L1317.8 700.03 L1317.86 699.03 L1317.91 698.04 L1317.96 697.04 L1318.02 696.04 L1318.07 695.04 L1318.12 694.04 L1318.18 693.04 L1318.23 692.04 L1318.28 691.05 L1318.33 690.05 L1318.39 689.05 L1318.44 688.05 L1318.49 687.05 L1318.54 686.05 L1318.6 685.05 L1318.65 684.06 L1318.7 683.06 L1318.75 682.06 L1318.8 681.06 L1318.86 680.06 L1318.91 679.06 L1318.96 678.06 L1319.01 677.07 L1319.06 676.07 L1319.12 675.07 L1319.17 674.07 L1319.22 673.07 L1319.27 672.07 L1319.33 671.07 L1319.38 670.07 L1319.43 669.08 L1319.49 668.08 L1319.54 667.08 L1319.59 666.08 L1319.65 665.08 L1319.7 664.08 L1319.76 663.08 L1319.81 662.09 L1319.86 661.09 L1319.92 660.09 L1319.97 659.09 L1320.03 658.09 L1320.09 657.09 L1320.15 656.1 L1320.2 655.1 L1320.26 654.1 L1320.32 653.1 L1320.38 652.1 L1320.44 651.1 L1320.5 650.11 L1320.56 649.11 L1320.62 648.11 L1320.68 647.11 L1320.74 646.11 L1320.81 645.12 L1320.87 644.12 L1320.93 643.12 L1320.99 642.12 L1321.06 641.12 L1321.12 640.13 L1321.19 639.13 L1321.25 638.13 L1321.32 637.13 L1321.38 636.13 L1321.45 635.14 L1321.52 634.14 L1321.58 633.14 L1321.65 632.14 L1321.72 631.15 L1321.78 630.15 L1321.85 629.15 L1321.92 628.15 L1321.98 627.15 L1322.05 626.16 L1322.12 625.16 L1322.19 624.16 L1322.25 623.16 L1322.32 622.17 L1322.39 621.17 L1322.46 620.17 L1322.52 619.17 L1322.59 618.17 L1322.66 617.18 L1322.73 616.18 L1322.8 615.18 L1322.87 614.18 L1322.94 613.19 L1323.01 612.19 L1323.07 611.19 L1323.14 610.19 L1323.21 609.2 L1323.28 608.2 L1323.35 607.2 L1323.42 606.2 L1323.49 605.21 L1323.56 604.21 L1323.63 603.21 L1323.7 602.21 L1323.77 601.22 L1323.84 600.22 L1323.91 599.22 L1323.98 598.22 L1324.05 597.23 L1324.12 596.23 L1324.19 595.23 L1324.25 594.23 L1324.32 593.23 L1324.39 592.24 L1324.46 591.24 L1324.52 590.24 L1324.59 589.24 L1324.66 588.25 L1324.72 587.25 L1324.79 586.25 L1324.86 585.25 L1324.93 584.26 L1324.99 583.26 L1325.07 582.26 L1325.14 581.26 L1325.21 580.27 L1325.28 579.27 L1325.36 578.27 L1325.44 577.27 L1325.51 576.28 L1325.6 575.28 L1325.68 574.28 L1325.77 573.29 L1325.86 572.29 L1325.95 571.3 L1326.05 570.3 L1326.14 569.31 L1326.24 568.31 L1326.34 567.32 L1326.45 566.32 L1326.57 565.33 L1326.69 564.34 L1326.83 563.35 L1326.98 562.36 L1327.14 561.37 L1327.33 560.39 L1327.54 559.41 L1327.77 558.44 L1328.06 557.49 L1328.4 556.57 L1328.84 555.71 L1329.4 555 L1330.1 554.53 L1330.9 554.38 L1331.76 554.53 L1332.59 554.93 L1333.36 555.51 L1334.07 556.19 L1334.72 556.94 L1335.34 557.72 L1335.94 558.52 L1336.53 559.33 L1337.1 560.15 L1337.65 560.98 L1338.18 561.83 L1338.7 562.68 L1339.21 563.54 L1339.71 564.41 L1340.19 565.28 L1340.67 566.16 L1341.13 567.05 L1341.58 567.94 L1342.02 568.84 L1342.45 569.75 L1342.86 570.66 L1343.26 571.57 L1343.65 572.49 L1344.03 573.42 L1344.4 574.34 L1344.77 575.28 L1345.12 576.21 L1345.46 577.15 L1345.79 578.1 L1346.11 579.04 L1346.42 579.99 L1346.71 580.95 L1347 581.91 L1347.28 582.87 L1347.56 583.83 L1347.83 584.79 L1348.09 585.76 L1348.35 586.72 L1348.61 587.69 L1348.86 588.65 L1349.12 589.62 L1349.37 590.59 L1349.62 591.56 L1349.87 592.53 L1350.11 593.5 L1350.36 594.46 L1350.61 595.43 L1350.85 596.4 L1351.09 597.37 L1351.33 598.34 L1351.57 599.32 L1351.8 600.29 L1352.03 601.26 L1352.26 602.23 L1352.49 603.21 L1352.72 604.18 L1352.94 605.16 L1353.16 606.13 L1353.39 607.11 L1353.61 608.08 L1353.83 609.06 L1354.05 610.03 L1354.27 611.01 L1354.49 611.98 L1354.71 612.96 L1354.93 613.94 L1355.15 614.91 L1355.37 615.89 L1355.59 616.86 L1355.81 617.84 L1356.03 618.81 L1356.25 619.79 L1356.47 620.76 L1356.7 621.74 L1356.92 622.71 L1357.14 623.69 L1357.36 624.66 L1357.58 625.64 L1357.81 626.61 L1358.03 627.59 L1358.25 628.56 L1358.47 629.54 L1358.69 630.51 L1358.91 631.49 L1359.13 632.47 L1359.35 633.44 L1359.57 634.42 L1359.79 635.39 L1360.01 636.37 L1360.23 637.34 L1360.44 638.32 L1360.66 639.29 L1360.88 640.27 L1361.1 641.25 L1361.32 642.22 L1361.54 643.2 L1361.76 644.17 L1361.97 645.15 L1362.19 646.13 L1362.41 647.1 L1362.63 648.08 L1362.85 649.05 L1363.07 650.03 L1363.28 651.01 L1363.5 651.98 L1363.72 652.96 L1363.94 653.93 L1364.16 654.91 L1364.37 655.88 L1364.59 656.86 L1364.81 657.84 L1365.03 658.81 L1365.25 659.79 L1365.47 660.76 L1365.68 661.74 L1365.9 662.72 L1366.12 663.69 L1366.34 664.67 L1366.56 665.64 L1366.78 666.62 L1367 667.59 L1367.22 668.57 L1367.44 669.55 L1367.66 670.52 L1367.88 671.5 L1368.1 672.47 L1368.32 673.45 L1368.53 674.42 L1368.75 675.4 L1368.97 676.38 L1369.19 677.35 L1369.4 678.33 L1369.62 679.3 L1369.84 680.28 L1370.05 681.26 L1370.27 682.23 L1370.48 683.21 L1370.7 684.19 L1370.91 685.16 L1371.13 686.14 L1371.34 687.12 L1371.56 688.09 L1371.77 689.07 L1371.99 690.05 L1372.2 691.02 L1372.41 692 L1372.63 692.98 L1372.84 693.95 L1373.05 694.93 L1373.27 695.91 L1373.48 696.89 L1373.69 697.86 L1373.91 698.84 L1374.12 699.82 L1374.33 700.79 L1374.55 701.77 L1374.76 702.75 L1374.97 703.72 L1375.19 704.7 L1375.4 705.68 L1375.62 706.65 L1375.83 707.63 L1376.05 708.61 L1376.26 709.58 L1376.48 710.56 L1376.69 711.54 L1376.91 712.51 L1377.12 713.49 L1377.34 714.47 L1377.55 715.44 L1377.77 716.42 L1377.99 717.4 L1378.21 718.37 L1378.42 719.35 L1378.64 720.32 L1378.86 721.3 L1379.08 722.27 L1379.3 723.25 L1379.52 724.23 L1379.74 725.2 L1379.97 726.18 L1380.19 727.15 L1380.41 728.13 L1380.64 729.1 L1380.86 730.07 L1381.09 731.05 L1381.31 732.02 L1381.54 733 L1381.77 733.97 L1382 734.94 L1382.22 735.92 L1382.46 736.89 L1382.69 737.86 L1382.92 738.84 L1383.15 739.81 L1383.39 740.78 L1383.62 741.75 L1383.86 742.72 L1384.1 743.69 L1384.34 744.67 L1384.58 745.64 L1384.82 746.61 L1385.07 747.58 L1385.31 748.55 L1385.56 749.51 L1385.8 750.48 L1386.05 751.45 L1386.3 752.42 L1386.55 753.39 L1386.79 754.36 L1387.04 755.33 L1387.29 756.3 L1387.54 757.27 L1387.79 758.23 L1388.04 759.2 L1388.29 760.17 L1388.54 761.14 L1388.79 762.11 L1389.04 763.07 L1389.3 764.04 L1389.55 765.01 L1389.8 765.98 L1390.06 766.94 L1390.32 767.91 L1390.57 768.88 L1390.83 769.84 L1391.09 770.81 L1391.35 771.77 L1391.61 772.74 L1391.87 773.7 L1392.13 774.67 L1392.4 775.63 L1392.66 776.6 L1392.93 777.56 L1393.2 778.52 L1393.47 779.49 L1393.74 780.45 L1394.01 781.41 L1394.29 782.37 L1394.57 783.33 L1394.84 784.29 L1395.12 785.25 L1395.41 786.21 L1395.69 787.17 L1395.98 788.13 L1396.27 789.09 L1396.56 790.04 L1396.86 791 L1397.16 791.95 L1397.46 792.91 L1397.76 793.86 L1398.07 794.81 L1398.38 795.76 L1398.69 796.71 L1399.01 797.66 L1399.33 798.6 L1399.66 799.55 L1399.99 800.49 L1400.32 801.44 L1400.65 802.38 L1400.99 803.32 L1401.33 804.26 L1401.67 805.2 L1402.02 806.14 L1402.36 807.08 L1402.72 808.02 L1403.07 808.95 L1403.43 809.88 L1403.79 810.82 L1404.15 811.75 L1404.52 812.68 L1404.89 813.61 L1405.27 814.53 L1405.65 815.46 L1406.04 816.38 L1406.43 817.3 L1406.83 818.22 L1407.23 819.13 L1407.64 820.04 L1408.06 820.95 L1408.48 821.86 L1408.91 822.76 L1409.34 823.66 L1409.79 824.56 L1410.24 825.45 L1410.69 826.34 L1411.16 827.23 L1411.62 828.11 L1412.09 828.99 L1412.57 829.87 L1413.05 830.75 L1413.54 831.62 L1414.03 832.49 L1414.53 833.36 L1415.04 834.22 L1415.56 835.07 L1416.09 835.92 L1416.62 836.77 L1417.17 837.61 L1417.73 838.43 L1418.3 839.26 L1418.88 840.07 L1419.49 840.86 L1420.1 841.65 L1420.73 842.43 L1421.38 843.19 L1422.03 843.94 L1422.7 844.69 L1423.38 845.43 L1424.06 846.15 L1424.76 846.87 L1425.47 847.57 L1426.19 848.26 L1426.93 848.94 L1427.67 849.61 L1428.43 850.26 L1429.2 850.89 L1429.99 851.51 L1430.79 852.11 L1431.6 852.7 L1432.42 853.26 L1433.25 853.82 L1434.09 854.36 L1434.94 854.89 L1435.79 855.42 L1436.65 855.92 L1437.52 856.42 L1438.4 856.9 L1439.28 857.37 L1440.17 857.82 L1441.08 858.24 L1441.99 858.65 L1442.91 859.04 L1443.84 859.4 L1444.78 859.73 L1445.73 860.05 L1446.69 860.35 L1447.65 860.63 L1448.61 860.91 L1449.57 861.17 L1450.54 861.42 L1451.51 861.66 L1452.48 861.89 L1453.46 862.11 L1454.44 862.32 L1455.42 862.52 L1456.4 862.7 L1457.38 862.88 L1458.37 863.04 L1459.36 863.2 L1460.35 863.34 L1461.34 863.48 L1462.33 863.62 L1463.32 863.75 L1464.31 863.88 L1465.3 864 L1466.3 864.13 L1467.29 864.24 L1468.28 864.36 L1469.28 864.46 L1470.27 864.57 L1471.27 864.67 L1472.26 864.76 L1473.26 864.85 L1474.25 864.93 L1475.25 865.01 L1476.25 865.08 L1477.25 865.15 L1478.24 865.21 L1479.24 865.26 L1480.24 865.31 L1481.24 865.35 L1482.24 865.39 L1483.24 865.44 L1484.24 865.48 L1485.24 865.52 L1486.24 865.55 L1487.24 865.59 L1488.23 865.63 L1489.23 865.66 L1490.23 865.7 L1491.23 865.73 L1492.23 865.76 L1493.23 865.79 L1494.23 865.82 L1495.23 865.85 L1496.23 865.88 L1497.23 865.9 L1498.23 865.93 L1499.23 865.95 L1500.23 865.97 L1501.23 865.99 L1502.23 866.01 L1503.23 866.03 L1504.23 866.04 L1505.23 866.06 L1506.23 866.07 L1507.23 866.08 L1508.23 866.09 L1509.23 866.09 L1510.23 866.1 L1511.23 866.11 L1512.23 866.11 L1513.23 866.11 L1514.23 866.12 L1515.23 866.12 L1516.23 866.13 L1517.23 866.13 L1518.23 866.13 L1519.23 866.14 L1520.23 866.14 L1521.23 866.14 L1522.23 866.15 L1523.23 866.15 L1524.23 866.15 L1525.23 866.16 L1526.23 866.16 L1527.23 866.16 L1528.23 866.17 L1529.23 866.17 L1530.23 866.17 L1531.23 866.17 L1532.23 866.18 L1533.23 866.18 L1534.23 866.18 L1535.23 866.18 L1536.23 866.18 L1537.23 866.19 L1538.23 866.19 L1539.23 866.19 L1540.23 866.19 L1541.23 866.19 L1542.23 866.19 L1543.23 866.19 L1544.23 866.2 L1545.23 866.2 L1546.23 866.2 L1547.23 866.2 L1548.23 866.2 L1549.22 866.2 L1550.17 866.2 L1551.01 866.2 L1552.23 866.2" fill="none" stroke="#1f77b4" stroke-width="3.4" stroke-linejoin="round"/>
<path d="M1342.3 554.6 Q1398 545 1436 576.5" fill="none" stroke="#4a90d9" stroke-width="4.2" stroke-dasharray="8.8 7.2" stroke-dashoffset="3.8"/>
<path d="M1447.2 583.2 L1430.2 579.6 L1435.6 575.2 L1437.4 569.1Z" fill="#4a90d9"/>
<path d="M1524.3 853 C1525.5 800 1516 745 1490 707" fill="none" stroke="#4a90d9" stroke-width="4.2" stroke-dasharray="8.5 6.2"/>
<path d="M1481.9 692.3 L1485.3 708.6 L1490.2 703.8 L1496.8 701.8Z" fill="#4a90d9"/>
<line x1="1388.3" y1="693.1" x2="1533.1" y2="549.3" stroke="#000" stroke-width="1.5"/>
<line x1="1386.2" y1="691" x2="1535.2" y2="552.4" stroke="#f01010" stroke-width="1.3"/>
<ellipse cx="1460.7" cy="621.2" rx="67.8" ry="7.6" transform="rotate(-42.8 1460.7 621.2)" fill="none" stroke="#f01010" stroke-width="2.6"/>
<path d="M1469.5 627.8 L1474.6 616.2 L1475.6 621.9 L1481.5 623.6Z" fill="#f01010"/>
<path d="M1520.5 549.3 Q1530 553 1532.6 561" fill="none" stroke="#f01010" stroke-width="1.3"/>
<path d="M1533.4 566.3 L1530.2 559.4 L1532.8 560.6 L1535.4 559Z" fill="#f01010"/>
<line x1="1452.5" y1="715.8" x2="1504.8" y2="663.6" stroke="#000" stroke-width="2.5"/>
<path d="M1510.3 658.1 L1505.48 671.67 L1503.86 664.53 L1496.72 662.9Z" fill="#000"/>
<path d="M1447 721.3 L1451.82 707.73 L1453.44 714.87 L1460.58 716.5Z" fill="#000"/>
<text transform="translate(1408.9 637.2) rotate(-42.8)" font-size="22.5" fill="#f01010">|Δθ<tspan font-size="15.5" dy="8" dx="0.5">c</tspan><tspan dy="-8" dx="1">|</tspan><tspan dx="-0.5"> ≈ 1.5°</tspan></text>
<text x="1355" y="962.7" font-size="28.5" textLength="55.5" lengthAdjust="spacingAndGlyphs"><tspan font-style="italic">t</tspan> (fs)</text>
<text x="1111.2" y="713.3" font-size="28.5" text-anchor="middle" textLength="243.3" lengthAdjust="spacingAndGlyphs" transform="rotate(-90 1111.2 713.3)">Transient ellipticity</text>
<text x="0.86" y="26.7" font-size="37.8" textLength="19.82" lengthAdjust="spacingAndGlyphs" font-weight="bold" fill="#000" stroke="#000" stroke-width="1.6" stroke-linejoin="round">a</text>
<text x="-0.83" y="514.9" font-size="37.8" textLength="26.18" lengthAdjust="spacingAndGlyphs" font-weight="bold" fill="#000" stroke="#000" stroke-width="1.6" stroke-linejoin="round">b</text>
<text x="568.9" y="26.7" font-size="37.8" textLength="22.8" lengthAdjust="spacingAndGlyphs" font-weight="bold" fill="#000" stroke="#000" stroke-width="1.6" stroke-linejoin="round">c</text>
<text x="568.77" y="514.9" font-size="37.8" textLength="25.7" lengthAdjust="spacingAndGlyphs" font-weight="bold" fill="#000" stroke="#000" stroke-width="1.6" stroke-linejoin="round">d</text>
<text x="1088.83" y="26.7" font-size="37.8" textLength="23.84" lengthAdjust="spacingAndGlyphs" font-weight="bold" fill="#000" stroke="#000" stroke-width="1.6" stroke-linejoin="round">e</text>
<text x="1089.19" y="514.7" font-size="37.8" textLength="13.83" lengthAdjust="spacingAndGlyphs" font-weight="bold" fill="#000" stroke="#000" stroke-width="1.6" stroke-linejoin="round">f</text></svg></body></html>
